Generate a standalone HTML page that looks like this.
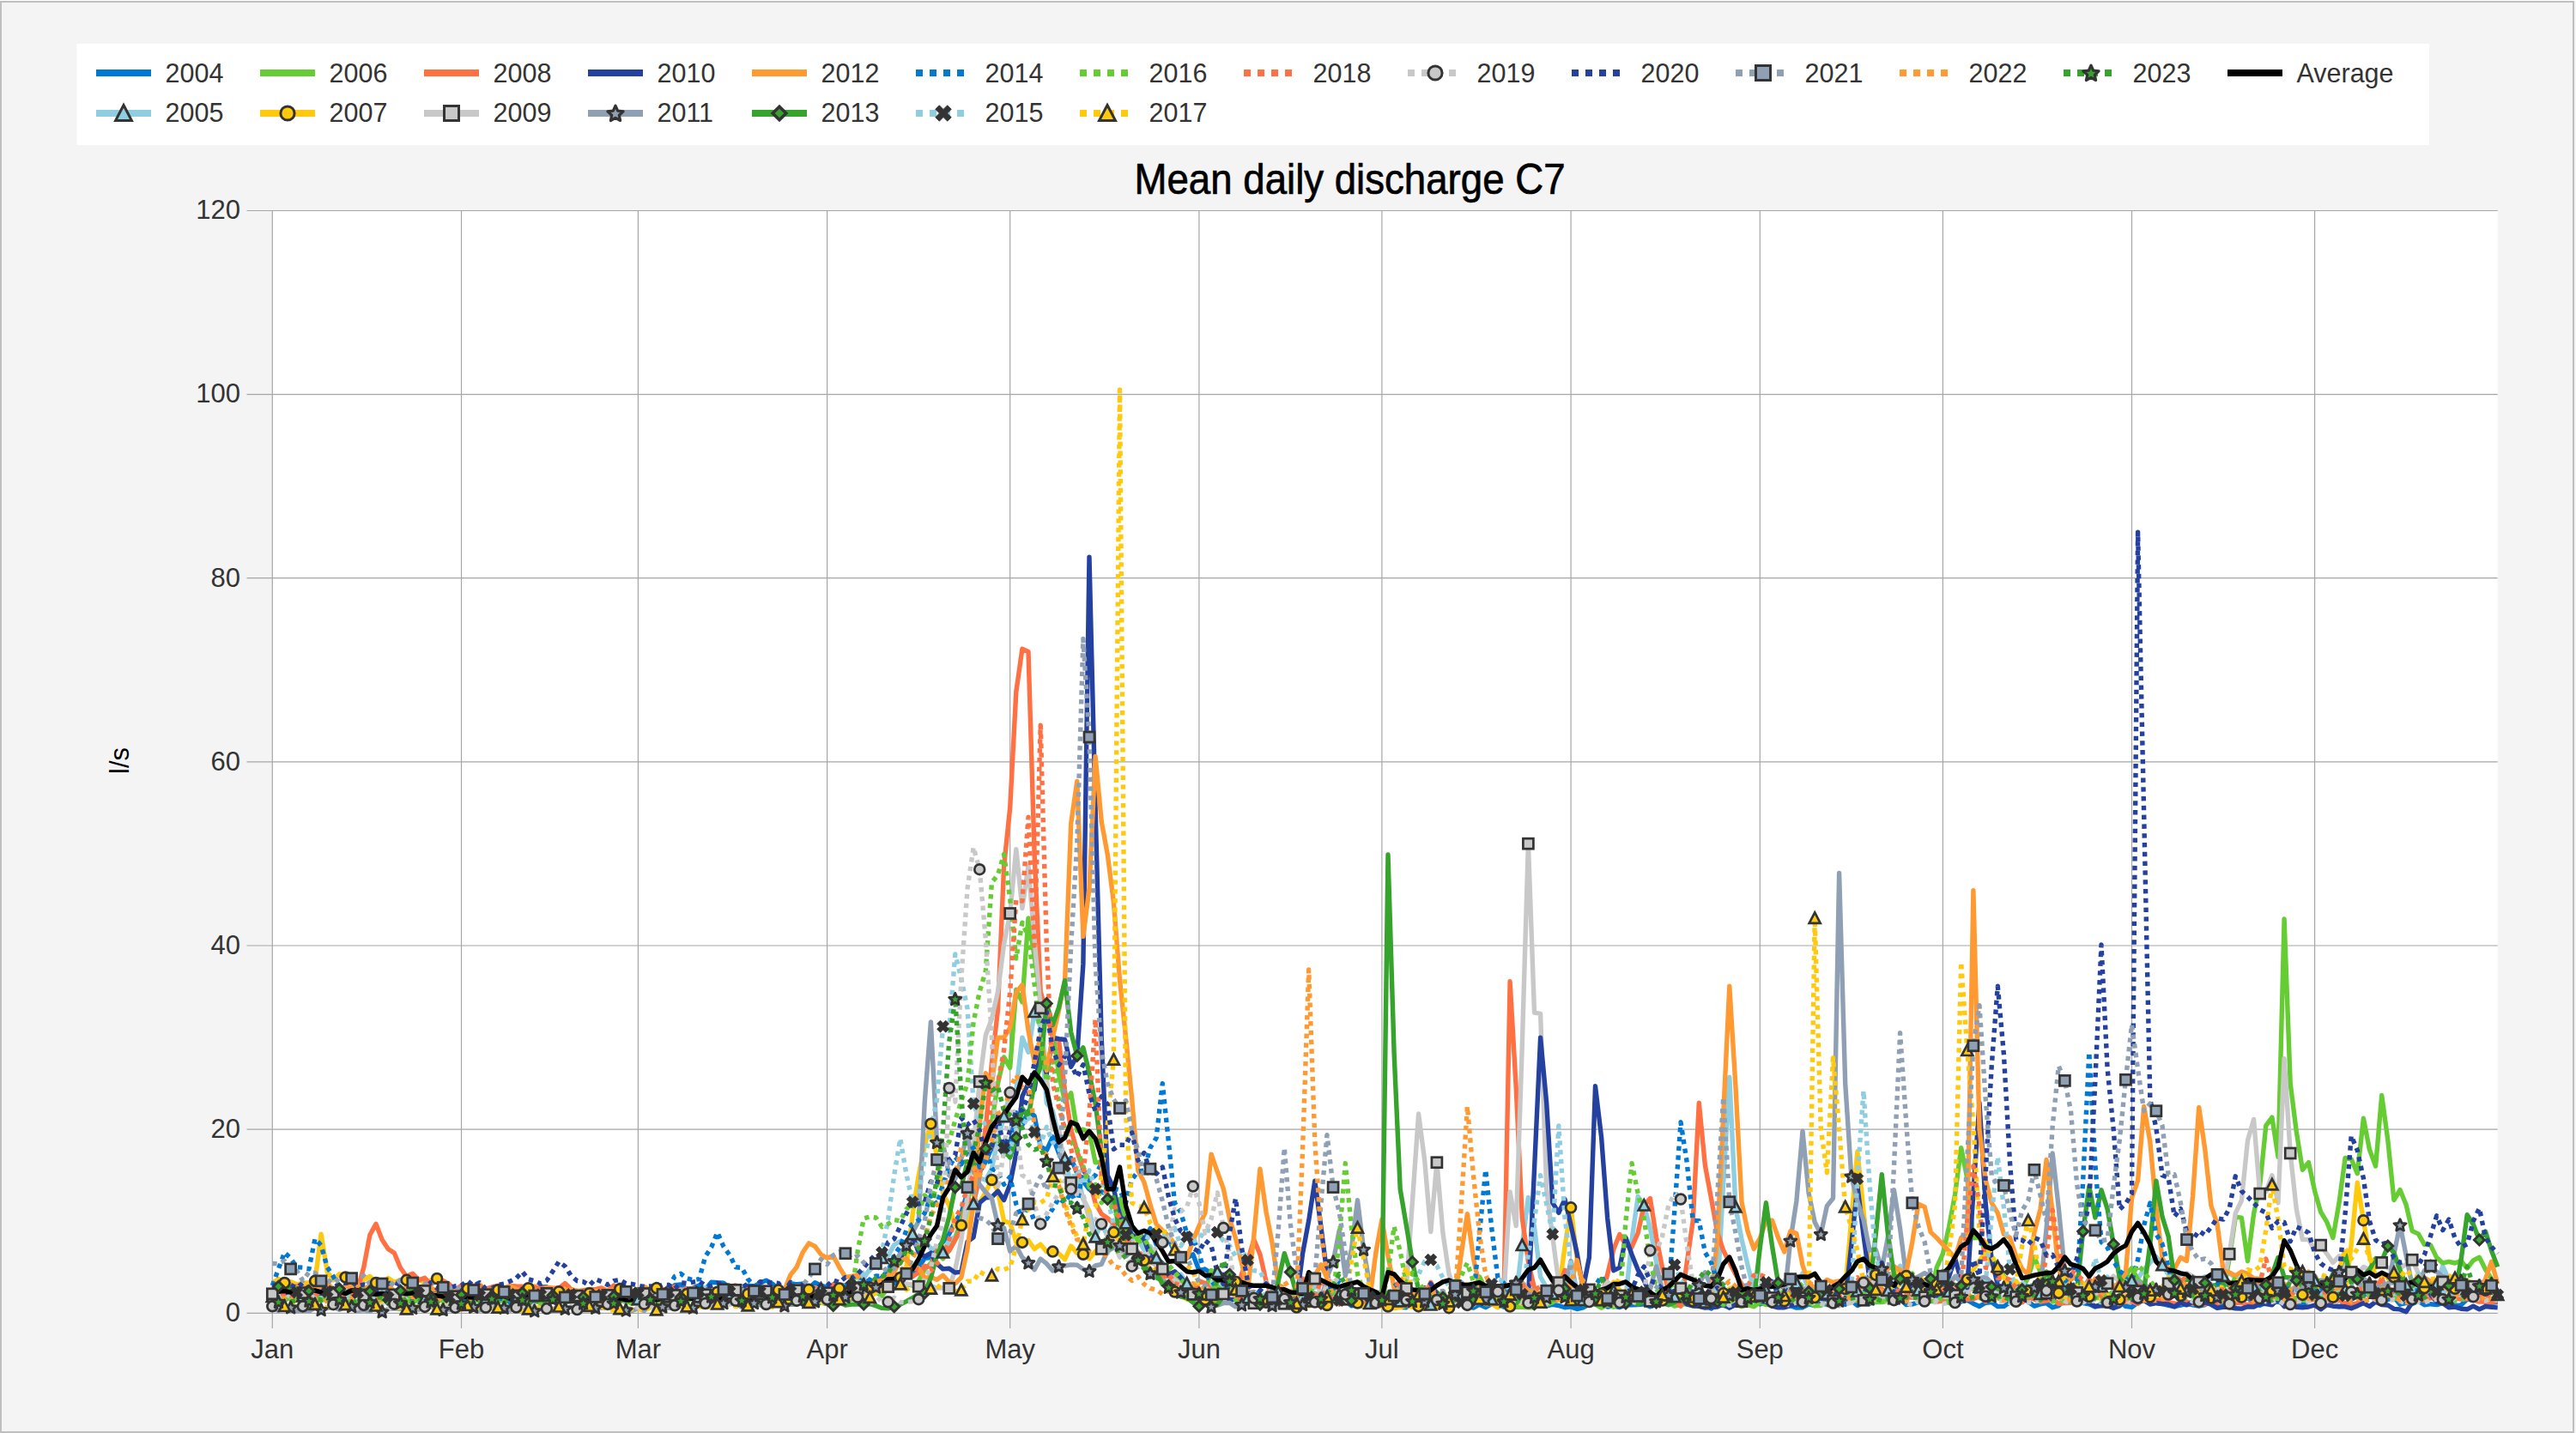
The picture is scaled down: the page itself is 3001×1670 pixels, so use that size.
<!DOCTYPE html>
<html><head><meta charset="utf-8"><style>
html,body{margin:0;padding:0;background:#f4f4f4;}
svg{display:block;}
text{font-family:"Liberation Sans",sans-serif;}
</style></head><body>
<svg width="3001" height="1670" viewBox="0 0 3001 1670">
<rect x="0" y="0" width="3001" height="1670" fill="#f4f4f4"/>
<rect x="1" y="2" width="2997" height="1667" fill="none" stroke="#bfbfbf" stroke-width="2"/>
<rect x="0" y="0" width="3001" height="1" fill="#ffffff"/>

<rect x="317.3" y="245.4599999999998" width="2592.376" height="1284.8400000000001" fill="#ffffff"/>
<g stroke="#a6a6a6" stroke-width="1.2"><line x1="287.5" y1="1530.3" x2="2909.7" y2="1530.3"/><line x1="287.5" y1="1316.2" x2="2909.7" y2="1316.2"/><line x1="287.5" y1="1102.0" x2="2909.7" y2="1102.0"/><line x1="287.5" y1="887.9" x2="2909.7" y2="887.9"/><line x1="287.5" y1="673.7" x2="2909.7" y2="673.7"/><line x1="287.5" y1="459.6" x2="2909.7" y2="459.6"/><line x1="287.5" y1="245.5" x2="2909.7" y2="245.5"/><line x1="317.3" y1="245.5" x2="317.3" y2="1548"/><line x1="537.5" y1="245.5" x2="537.5" y2="1548"/><line x1="743.4" y1="245.5" x2="743.4" y2="1548"/><line x1="963.6" y1="245.5" x2="963.6" y2="1548"/><line x1="1176.7" y1="245.5" x2="1176.7" y2="1548"/><line x1="1396.9" y1="245.5" x2="1396.9" y2="1548"/><line x1="1609.9" y1="245.5" x2="1609.9" y2="1548"/><line x1="1830.1" y1="245.5" x2="1830.1" y2="1548"/><line x1="2050.3" y1="245.5" x2="2050.3" y2="1548"/><line x1="2263.4" y1="245.5" x2="2263.4" y2="1548"/><line x1="2483.5" y1="245.5" x2="2483.5" y2="1548"/><line x1="2696.6" y1="245.5" x2="2696.6" y2="1548"/></g>
<g font-size="31" fill="#333333"><text x="280" y="1540.1" text-anchor="end">0</text><text x="280" y="1326.0" text-anchor="end">20</text><text x="280" y="1111.8" text-anchor="end">40</text><text x="280" y="897.7" text-anchor="end">60</text><text x="280" y="683.5" text-anchor="end">80</text><text x="280" y="469.4" text-anchor="end">100</text><text x="280" y="255.3" text-anchor="end">120</text><text x="317.3" y="1583" text-anchor="middle">Jan</text><text x="537.5" y="1583" text-anchor="middle">Feb</text><text x="743.4" y="1583" text-anchor="middle">Mar</text><text x="963.6" y="1583" text-anchor="middle">Apr</text><text x="1176.7" y="1583" text-anchor="middle">May</text><text x="1396.9" y="1583" text-anchor="middle">Jun</text><text x="1609.9" y="1583" text-anchor="middle">Jul</text><text x="1830.1" y="1583" text-anchor="middle">Aug</text><text x="2050.3" y="1583" text-anchor="middle">Sep</text><text x="2263.4" y="1583" text-anchor="middle">Oct</text><text x="2483.5" y="1583" text-anchor="middle">Nov</text><text x="2696.6" y="1583" text-anchor="middle">Dec</text></g>
<text x="0" y="0" font-size="31" fill="#000" transform="translate(150.4,886.5) rotate(-90)" text-anchor="middle">l/s</text>
<text x="1321.5" y="226" font-size="50" fill="#000" stroke="#000" stroke-width="0.7" textLength="502" lengthAdjust="spacingAndGlyphs">Mean daily discharge C7</text>
<polyline points="317.3,1503.5 324.4,1506.1 331.5,1508.4 338.6,1503.1 345.7,1504.4 352.8,1505.5 359.9,1500.8 367.0,1505.2 374.1,1501.5 381.2,1504.1 388.3,1503.7 395.4,1503.2 402.5,1506.6 409.6,1506.2 416.7,1502.4 423.8,1503.5 430.9,1502.9 438.0,1504.5 445.1,1499.9 452.2,1504.0 459.3,1506.3 466.5,1501.0 473.6,1504.5 480.7,1504.8 487.8,1508.4 494.9,1509.8 502.0,1506.3 509.1,1509.3 516.2,1503.8 523.3,1508.4 530.4,1505.7 537.5,1502.8 544.6,1501.2 551.7,1507.2 558.8,1503.6 565.9,1504.6 573.0,1508.7 580.1,1506.6 587.2,1505.8 594.3,1508.3 601.4,1505.0 608.5,1500.5 615.6,1503.5 622.7,1506.0 629.8,1499.9 636.9,1499.8 644.0,1505.3 651.1,1505.5 658.2,1509.3 665.3,1507.7 672.4,1507.4 679.5,1508.9 686.6,1506.8 693.7,1503.9 700.8,1504.6 707.9,1505.6 715.0,1506.2 722.1,1497.3 729.2,1503.0 736.3,1507.9 743.4,1502.5 750.5,1504.8 757.6,1501.9 764.8,1502.1 771.9,1503.6 779.0,1504.0 786.1,1497.8 793.2,1497.0 800.3,1503.1 807.4,1501.0 814.5,1498.1 821.6,1502.9 828.7,1494.2 835.8,1494.8 842.9,1495.2 850.0,1500.8 857.1,1502.8 864.2,1503.4 871.3,1498.2 878.4,1498.9 885.5,1495.3 892.6,1492.1 899.7,1496.1 906.8,1502.7 913.9,1503.1 921.0,1495.6 928.1,1496.8 935.2,1496.3 942.3,1501.5 949.4,1494.7 956.5,1498.0 963.6,1500.3 970.7,1499.2 977.8,1497.3 984.9,1498.0 992.0,1500.3 999.1,1499.5 1006.2,1502.9 1013.3,1491.2 1020.4,1496.1 1027.5,1488.7 1034.6,1493.7 1041.7,1497.9 1048.8,1484.5 1055.9,1485.7 1063.1,1487.5 1070.2,1476.7 1077.3,1466.2 1084.4,1465.5 1091.5,1455.2 1098.6,1447.2 1105.7,1438.4 1112.8,1423.2 1119.9,1413.5 1127.0,1389.4 1134.1,1380.6 1141.2,1365.9 1148.3,1353.9 1155.4,1337.6 1162.5,1335.3 1169.6,1346.0 1176.7,1333.2 1183.8,1296.7 1190.9,1311.3 1198.0,1294.7 1205.1,1300.6 1212.2,1336.0 1219.3,1340.6 1226.4,1324.9 1233.5,1343.9 1240.6,1359.0 1247.7,1349.5 1254.8,1367.5 1261.9,1376.6 1269.0,1386.1 1276.1,1389.0 1283.2,1388.8 1290.3,1392.1 1297.4,1405.8 1304.5,1409.9 1311.6,1423.2 1318.7,1437.2 1325.8,1443.6 1332.9,1444.6 1340.0,1431.7 1347.1,1450.4 1354.3,1448.1 1361.4,1443.1 1368.5,1459.5 1375.6,1463.5 1382.7,1466.1 1389.8,1461.8 1396.9,1480.6 1404.0,1479.2 1411.1,1483.8 1418.2,1479.8 1425.3,1488.7 1432.4,1501.3 1439.5,1501.7 1446.6,1507.4 1453.7,1513.6 1460.8,1510.0 1467.9,1517.8 1475.0,1514.9 1482.1,1518.5 1489.2,1513.2 1496.3,1516.3 1503.4,1514.6 1510.5,1514.9 1517.6,1520.8 1524.7,1516.8 1531.8,1515.7 1538.9,1513.3 1546.0,1511.9 1553.1,1515.4 1560.2,1518.8 1567.3,1515.4 1574.4,1521.8 1581.5,1520.7 1588.6,1522.5 1595.7,1519.6 1602.8,1522.7 1609.9,1521.5 1617.0,1520.5 1624.1,1521.9 1631.2,1523.4 1638.3,1523.7 1645.4,1518.0 1652.6,1518.1 1659.7,1515.8 1666.8,1516.6 1673.9,1516.4 1681.0,1519.6 1688.1,1516.3 1695.2,1518.4 1702.3,1519.0 1709.4,1521.9 1716.5,1524.1 1723.6,1520.2 1730.7,1523.6 1737.8,1519.7 1744.9,1519.1 1752.0,1523.2 1759.1,1521.1 1766.2,1520.2 1773.3,1515.2 1780.4,1514.1 1787.5,1515.5 1794.6,1520.4 1801.7,1521.8 1808.8,1520.4 1815.9,1521.5 1823.0,1523.8 1830.1,1522.9 1837.2,1525.6 1844.3,1523.9 1851.4,1519.8 1858.5,1514.9 1865.6,1517.4 1872.7,1523.0 1879.8,1522.1 1886.9,1523.6 1894.0,1520.9 1901.1,1520.9 1908.2,1520.6 1915.3,1519.7 1922.4,1522.7 1929.5,1519.9 1936.6,1519.3 1943.7,1519.3 1950.9,1514.8 1958.0,1510.5 1965.1,1518.7 1972.2,1519.0 1979.3,1520.4 1986.4,1520.4 1993.5,1525.0 2000.6,1519.6 2007.7,1521.5 2014.8,1523.4 2021.9,1520.4 2029.0,1520.6 2036.1,1517.4 2043.2,1514.2 2050.3,1519.8 2057.4,1518.7 2064.5,1518.9 2071.6,1523.1 2078.7,1523.3 2085.8,1521.8 2092.9,1524.1 2100.0,1523.7 2107.1,1519.8 2114.2,1521.5 2121.3,1519.2 2128.4,1520.0 2135.5,1516.5 2142.6,1513.3 2149.7,1520.3 2156.8,1515.6 2163.9,1521.5 2171.0,1518.1 2178.1,1519.2 2185.2,1517.1 2192.3,1513.6 2199.4,1508.5 2206.5,1510.7 2213.6,1514.2 2220.7,1520.5 2227.8,1519.9 2234.9,1517.6 2242.1,1513.2 2249.2,1503.7 2256.3,1501.0 2263.4,1506.0 2270.5,1507.1 2277.6,1513.4 2284.7,1516.9 2291.8,1515.1 2298.9,1519.2 2306.0,1522.5 2313.1,1518.3 2320.2,1517.5 2327.3,1522.6 2334.4,1522.4 2341.5,1517.8 2348.6,1515.5 2355.7,1511.9 2362.8,1517.0 2369.9,1522.1 2377.0,1519.9 2384.1,1518.7 2391.2,1523.7 2398.3,1521.6 2405.4,1514.2 2412.5,1498.7 2419.6,1512.7 2426.7,1518.6 2433.8,1519.8 2440.9,1523.0 2448.0,1520.0 2455.1,1518.1 2462.2,1521.8 2469.3,1515.8 2476.4,1522.4 2483.5,1523.4 2490.6,1517.8 2497.7,1507.1 2504.8,1511.9 2511.9,1518.1 2519.0,1519.5 2526.1,1521.3 2533.2,1522.5 2540.4,1521.2 2547.5,1519.1 2554.6,1520.8 2561.7,1522.1 2568.8,1520.5 2575.9,1516.5 2583.0,1522.0 2590.1,1519.0 2597.2,1516.6 2604.3,1519.0 2611.4,1512.2 2618.5,1512.8 2625.6,1517.4 2632.7,1521.5 2639.8,1517.4 2646.9,1516.4 2654.0,1517.2 2661.1,1519.2 2668.2,1518.9 2675.3,1517.6 2682.4,1520.7 2689.5,1515.8 2696.6,1496.1 2703.7,1517.1 2710.8,1516.8 2717.9,1521.1 2725.0,1522.7 2732.1,1520.5 2739.2,1514.3 2746.3,1508.9 2753.4,1507.7 2760.5,1493.5 2767.6,1509.2 2774.7,1508.4 2781.8,1514.6 2788.9,1511.5 2796.0,1520.2 2803.1,1518.4 2810.2,1519.5 2817.3,1516.2 2824.4,1520.8 2831.5,1519.7 2838.7,1520.6 2845.8,1518.7 2852.9,1517.3 2860.0,1521.7 2867.1,1520.9 2874.2,1514.1 2881.3,1515.3 2888.4,1507.3 2895.5,1517.8 2902.6,1518.3 2909.7,1517.6" fill="none" stroke="#0078d4" stroke-width="5.4" stroke-linejoin="round"/>
<polyline points="317.3,1511.0 324.4,1507.9 331.5,1516.2 338.6,1510.5 345.7,1510.8 352.8,1510.5 359.9,1509.4 367.0,1512.4 374.1,1511.7 381.2,1515.7 388.3,1507.7 395.4,1508.2 402.5,1515.5 409.6,1508.9 416.7,1510.5 423.8,1513.4 430.9,1509.2 438.0,1511.4 445.1,1508.9 452.2,1510.2 459.3,1514.0 466.5,1510.9 473.6,1516.0 480.7,1512.8 487.8,1517.2 494.9,1513.3 502.0,1507.9 509.1,1511.9 516.2,1516.9 523.3,1511.2 530.4,1514.6 537.5,1512.3 544.6,1510.4 551.7,1510.3 558.8,1512.2 565.9,1513.3 573.0,1512.0 580.1,1515.9 587.2,1516.3 594.3,1511.0 601.4,1514.6 608.5,1511.2 615.6,1512.4 622.7,1509.6 629.8,1515.2 636.9,1510.0 644.0,1514.8 651.1,1516.8 658.2,1511.8 665.3,1510.6 672.4,1511.9 679.5,1515.5 686.6,1509.8 693.7,1514.8 700.8,1515.3 707.9,1516.8 715.0,1516.8 722.1,1512.7 729.2,1518.4 736.3,1513.7 743.4,1514.2 750.5,1516.3 757.6,1512.8 764.8,1515.8 771.9,1515.2 779.0,1511.4 786.1,1516.1 793.2,1511.5 800.3,1513.7 807.4,1510.3 814.5,1511.4 821.6,1508.5 828.7,1508.6 835.8,1509.8 842.9,1514.1 850.0,1507.5 857.1,1507.7 864.2,1506.6 871.3,1512.9 878.4,1506.5 885.5,1507.7 892.6,1507.1 899.7,1508.9 906.8,1507.4 913.9,1506.0 921.0,1503.7 928.1,1504.4 935.2,1504.3 942.3,1501.7 949.4,1504.3 956.5,1502.0 963.6,1503.5 970.7,1498.7 977.8,1500.4 984.9,1500.7 992.0,1496.0 999.1,1484.6 1006.2,1489.4 1013.3,1479.2 1020.4,1476.1 1027.5,1466.1 1034.6,1463.3 1041.7,1450.7 1048.8,1446.5 1055.9,1451.2 1063.1,1438.2 1070.2,1449.9 1077.3,1445.0 1084.4,1455.3 1091.5,1454.3 1098.6,1459.6 1105.7,1445.5 1112.8,1441.4 1119.9,1422.7 1127.0,1419.9 1134.1,1402.9 1141.2,1372.9 1148.3,1375.3 1155.4,1362.0 1162.5,1327.6 1169.6,1301.2 1176.7,1274.0 1183.8,1270.9 1190.9,1209.1 1198.0,1226.3 1205.1,1179.1 1212.2,1196.7 1219.3,1285.5 1226.4,1294.7 1233.5,1325.8 1240.6,1350.4 1247.7,1380.4 1254.8,1368.3 1261.9,1397.5 1269.0,1410.9 1276.1,1441.4 1283.2,1425.5 1290.3,1440.8 1297.4,1424.4 1304.5,1430.6 1311.6,1425.4 1318.7,1438.9 1325.8,1444.4 1332.9,1456.7 1340.0,1452.5 1347.1,1466.1 1354.3,1475.4 1361.4,1483.5 1368.5,1490.1 1375.6,1485.2 1382.7,1495.6 1389.8,1503.4 1396.9,1508.9 1404.0,1508.3 1411.1,1499.5 1418.2,1482.3 1425.3,1501.8 1432.4,1504.8 1439.5,1509.2 1446.6,1509.9 1453.7,1513.0 1460.8,1512.2 1467.9,1511.1 1475.0,1507.8 1482.1,1504.2 1489.2,1505.5 1496.3,1512.1 1503.4,1518.6 1510.5,1515.4 1517.6,1516.0 1524.7,1516.5 1531.8,1518.0 1538.9,1515.4 1546.0,1517.6 1553.1,1512.5 1560.2,1508.8 1567.3,1508.5 1574.4,1512.3 1581.5,1515.8 1588.6,1514.5 1595.7,1519.1 1602.8,1512.9 1609.9,1515.8 1617.0,1520.3 1624.1,1515.7 1631.2,1516.5 1638.3,1514.3 1645.4,1517.8 1652.6,1518.5 1659.7,1517.4 1666.8,1520.6 1673.9,1519.2 1681.0,1513.9 1688.1,1515.1 1695.2,1500.0 1702.3,1509.0 1709.4,1517.6 1716.5,1519.9 1723.6,1513.8 1730.7,1519.4 1737.8,1514.2 1744.9,1515.5 1752.0,1518.8 1759.1,1519.9 1766.2,1511.6 1773.3,1451.1 1780.4,1395.4 1787.5,1429.9 1794.6,1488.2 1801.7,1500.7 1808.8,1507.7 1815.9,1506.9 1823.0,1510.9 1830.1,1507.1 1837.2,1510.0 1844.3,1515.3 1851.4,1511.5 1858.5,1506.5 1865.6,1504.8 1872.7,1505.2 1879.8,1504.2 1886.9,1508.3 1894.0,1512.2 1901.1,1444.4 1908.2,1394.3 1915.3,1404.6 1922.4,1431.0 1929.5,1469.9 1936.6,1505.1 1943.7,1502.3 1950.9,1511.2 1958.0,1512.2 1965.1,1511.5 1972.2,1516.5 1979.3,1511.6 1986.4,1517.6 1993.5,1514.2 2000.6,1510.7 2007.7,1378.7 2014.8,1255.1 2021.9,1406.5 2029.0,1444.0 2036.1,1474.7 2043.2,1503.5 2050.3,1499.5 2057.4,1503.9 2064.5,1498.7 2071.6,1503.5 2078.7,1508.2 2085.8,1504.6 2092.9,1495.4 2100.0,1483.8 2107.1,1503.0 2114.2,1503.5 2121.3,1506.7 2128.4,1507.8 2135.5,1507.3 2142.6,1503.9 2149.7,1502.6 2156.8,1502.3 2163.9,1504.6 2171.0,1506.9 2178.1,1505.5 2185.2,1503.9 2192.3,1503.1 2199.4,1504.0 2206.5,1493.8 2213.6,1475.3 2220.7,1493.3 2227.8,1500.3 2234.9,1503.4 2242.1,1504.8 2249.2,1505.6 2256.3,1504.1 2263.4,1503.3 2270.5,1505.1 2277.6,1507.1 2284.7,1506.5 2291.8,1501.6 2298.9,1499.7 2306.0,1499.9 2313.1,1492.3 2320.2,1499.1 2327.3,1506.3 2334.4,1501.6 2341.5,1504.2 2348.6,1503.2 2355.7,1504.3 2362.8,1501.4 2369.9,1504.7 2377.0,1507.9 2384.1,1501.4 2391.2,1505.2 2398.3,1503.2 2405.4,1506.5 2412.5,1502.4 2419.6,1508.2 2426.7,1504.5 2433.8,1504.7 2440.9,1508.3 2448.0,1499.2 2455.1,1488.1 2462.2,1499.0 2469.3,1495.9 2476.4,1496.1 2483.5,1492.4 2490.6,1489.7 2497.7,1479.5 2504.8,1471.4 2511.9,1464.5 2519.0,1474.2 2526.1,1485.1 2533.2,1491.0 2540.4,1484.0 2547.5,1489.3 2554.6,1494.3 2561.7,1493.0 2568.8,1487.7 2575.9,1490.4 2583.0,1485.8 2590.1,1487.0 2597.2,1484.1 2604.3,1488.5 2611.4,1492.5 2618.5,1498.3 2625.6,1499.8 2632.7,1498.2 2639.8,1498.2 2646.9,1503.7 2654.0,1501.9 2661.1,1503.5 2668.2,1503.1 2675.3,1503.1 2682.4,1499.0 2689.5,1498.7 2696.6,1492.4 2703.7,1500.2 2710.8,1496.3 2717.9,1505.2 2725.0,1503.0 2732.1,1503.0 2739.2,1501.9 2746.3,1505.8 2753.4,1504.7 2760.5,1505.3 2767.6,1506.7 2774.7,1498.1 2781.8,1495.8 2788.9,1483.9 2796.0,1492.4 2803.1,1497.2 2810.2,1505.1 2817.3,1499.6 2824.4,1507.0 2831.5,1499.5 2838.7,1496.4 2845.8,1475.5 2852.9,1491.3 2860.0,1500.3 2867.1,1500.8 2874.2,1502.3 2881.3,1505.0 2888.4,1508.3 2895.5,1508.4 2902.6,1507.2 2909.7,1508.9" fill="none" stroke="#8fcde0" stroke-width="5.4" stroke-linejoin="round"/>
<polyline points="317.3,1514.2 324.4,1517.4 331.5,1514.3 338.6,1513.1 345.7,1515.5 352.8,1512.3 359.9,1512.4 367.0,1511.3 374.1,1515.3 381.2,1513.8 388.3,1514.3 395.4,1513.1 402.5,1517.5 409.6,1516.3 416.7,1516.8 423.8,1516.4 430.9,1514.8 438.0,1517.0 445.1,1514.2 452.2,1514.0 459.3,1514.9 466.5,1512.7 473.6,1516.1 480.7,1518.0 487.8,1514.0 494.9,1515.1 502.0,1513.9 509.1,1513.2 516.2,1516.0 523.3,1516.4 530.4,1515.5 537.5,1515.8 544.6,1516.9 551.7,1516.7 558.8,1513.8 565.9,1514.7 573.0,1516.5 580.1,1517.0 587.2,1513.7 594.3,1516.4 601.4,1518.3 608.5,1515.3 615.6,1518.5 622.7,1513.3 629.8,1519.3 636.9,1520.5 644.0,1515.0 651.1,1515.4 658.2,1513.2 665.3,1515.8 672.4,1515.2 679.5,1515.5 686.6,1516.9 693.7,1515.5 700.8,1520.4 707.9,1516.9 715.0,1514.9 722.1,1515.6 729.2,1516.1 736.3,1519.4 743.4,1517.5 750.5,1518.8 757.6,1516.6 764.8,1518.7 771.9,1519.8 779.0,1516.2 786.1,1514.0 793.2,1520.1 800.3,1516.5 807.4,1512.1 814.5,1517.2 821.6,1516.8 828.7,1519.6 835.8,1521.1 842.9,1518.0 850.0,1517.1 857.1,1517.1 864.2,1516.1 871.3,1515.2 878.4,1519.7 885.5,1513.3 892.6,1512.8 899.7,1516.1 906.8,1514.8 913.9,1515.3 921.0,1512.1 928.1,1520.0 935.2,1512.4 942.3,1517.7 949.4,1516.1 956.5,1513.4 963.6,1517.1 970.7,1514.6 977.8,1516.0 984.9,1514.1 992.0,1514.2 999.1,1511.2 1006.2,1512.1 1013.3,1505.1 1020.4,1505.9 1027.5,1510.2 1034.6,1500.4 1041.7,1501.9 1048.8,1497.6 1055.9,1496.7 1063.1,1498.2 1070.2,1492.8 1077.3,1479.3 1084.4,1472.1 1091.5,1459.7 1098.6,1466.8 1105.7,1457.2 1112.8,1444.6 1119.9,1421.7 1127.0,1398.7 1134.1,1375.1 1141.2,1369.7 1148.3,1316.2 1155.4,1308.7 1162.5,1262.6 1169.6,1231.9 1176.7,1244.4 1183.8,1153.1 1190.9,1167.8 1198.0,1069.9 1205.1,1114.9 1212.2,1165.2 1219.3,1172.0 1226.4,1201.8 1233.5,1251.9 1240.6,1284.0 1247.7,1273.8 1254.8,1317.9 1261.9,1316.2 1269.0,1319.5 1276.1,1354.8 1283.2,1353.8 1290.3,1393.5 1297.4,1401.8 1304.5,1397.2 1311.6,1419.7 1318.7,1429.2 1325.8,1447.4 1332.9,1444.6 1340.0,1456.4 1347.1,1466.1 1354.3,1475.0 1361.4,1482.1 1368.5,1490.6 1375.6,1490.6 1382.7,1502.3 1389.8,1508.1 1396.9,1508.9 1404.0,1505.0 1411.1,1480.5 1418.2,1499.1 1425.3,1505.7 1432.4,1507.5 1439.5,1509.1 1446.6,1513.5 1453.7,1518.3 1460.8,1519.5 1467.9,1517.1 1475.0,1515.1 1482.1,1512.1 1489.2,1517.2 1496.3,1519.4 1503.4,1516.8 1510.5,1515.8 1517.6,1514.5 1524.7,1515.8 1531.8,1509.6 1538.9,1505.9 1546.0,1515.2 1553.1,1512.4 1560.2,1512.5 1567.3,1516.7 1574.4,1516.2 1581.5,1519.7 1588.6,1518.1 1595.7,1516.6 1602.8,1519.0 1609.9,1521.1 1617.0,1521.4 1624.1,1520.7 1631.2,1522.3 1638.3,1519.7 1645.4,1519.9 1652.6,1522.0 1659.7,1514.1 1666.8,1505.4 1673.9,1515.5 1681.0,1520.2 1688.1,1515.7 1695.2,1520.1 1702.3,1519.1 1709.4,1513.0 1716.5,1503.7 1723.6,1488.0 1730.7,1502.5 1737.8,1509.9 1744.9,1515.3 1752.0,1520.6 1759.1,1518.2 1766.2,1523.3 1773.3,1523.2 1780.4,1523.7 1787.5,1523.8 1794.6,1520.0 1801.7,1520.6 1808.8,1517.7 1815.9,1513.3 1823.0,1510.7 1830.1,1519.5 1837.2,1517.6 1844.3,1520.0 1851.4,1518.3 1858.5,1520.2 1865.6,1524.1 1872.7,1520.3 1879.8,1523.3 1886.9,1518.8 1894.0,1518.4 1901.1,1515.3 1908.2,1502.1 1915.3,1516.0 1922.4,1516.6 1929.5,1519.5 1936.6,1519.3 1943.7,1517.5 1950.9,1522.1 1958.0,1520.4 1965.1,1519.6 1972.2,1519.8 1979.3,1518.9 1986.4,1519.9 1993.5,1519.1 2000.6,1511.2 2007.7,1502.9 2014.8,1513.0 2021.9,1520.0 2029.0,1522.6 2036.1,1520.7 2043.2,1522.7 2050.3,1517.7 2057.4,1520.5 2064.5,1520.5 2071.6,1522.4 2078.7,1516.3 2085.8,1520.0 2092.9,1520.0 2100.0,1519.4 2107.1,1517.6 2114.2,1521.9 2121.3,1521.5 2128.4,1516.7 2135.5,1508.4 2142.6,1518.6 2149.7,1515.5 2156.8,1515.5 2163.9,1515.8 2171.0,1518.8 2178.1,1517.6 2185.2,1517.4 2192.3,1517.6 2199.4,1516.1 2206.5,1507.8 2213.6,1490.0 2220.7,1479.1 2227.8,1489.4 2234.9,1499.8 2242.1,1506.9 2249.2,1509.1 2256.3,1476.9 2263.4,1461.2 2270.5,1430.1 2277.6,1391.9 2284.7,1337.6 2291.8,1373.1 2298.9,1442.9 2306.0,1442.2 2313.1,1458.0 2320.2,1466.6 2327.3,1474.7 2334.4,1487.1 2341.5,1495.8 2348.6,1497.8 2355.7,1501.5 2362.8,1489.1 2369.9,1464.9 2377.0,1482.4 2384.1,1494.1 2391.2,1495.5 2398.3,1505.0 2405.4,1504.1 2412.5,1505.7 2419.6,1502.2 2426.7,1507.6 2433.8,1504.6 2440.9,1510.4 2448.0,1508.9 2455.1,1510.3 2462.2,1505.0 2469.3,1502.1 2476.4,1485.7 2483.5,1477.8 2490.6,1491.3 2497.7,1497.2 2504.8,1504.6 2511.9,1500.4 2519.0,1503.3 2526.1,1506.2 2533.2,1505.4 2540.4,1505.1 2547.5,1507.3 2554.6,1509.0 2561.7,1506.1 2568.8,1507.9 2575.9,1503.6 2583.0,1506.1 2590.1,1504.6 2597.2,1466.5 2604.3,1418.2 2611.4,1419.2 2618.5,1469.7 2625.6,1414.4 2632.7,1381.4 2639.8,1311.9 2646.9,1302.2 2654.0,1348.3 2661.1,1071.0 2668.2,1262.6 2675.3,1318.9 2682.4,1363.3 2689.5,1354.7 2696.6,1387.9 2703.7,1412.5 2710.8,1424.2 2717.9,1442.5 2725.0,1401.8 2732.1,1349.4 2739.2,1350.8 2746.3,1367.6 2753.4,1303.3 2760.5,1339.9 2767.6,1359.0 2774.7,1276.5 2781.8,1328.7 2788.9,1398.6 2796.0,1386.6 2803.1,1404.0 2810.2,1434.6 2817.3,1437.9 2824.4,1450.4 2831.5,1450.9 2838.7,1465.6 2845.8,1471.9 2852.9,1470.3 2860.0,1472.0 2867.1,1469.5 2874.2,1478.0 2881.3,1468.8 2888.4,1465.2 2895.5,1479.2 2902.6,1490.5 2909.7,1492.1" fill="none" stroke="#66cc33" stroke-width="5.4" stroke-linejoin="round"/>
<polyline points="317.3,1495.0 324.4,1490.6 331.5,1495.0 338.6,1493.6 345.7,1496.8 352.8,1495.1 359.9,1495.0 367.0,1492.8 374.1,1438.2 381.2,1482.1 388.3,1491.8 395.4,1484.7 402.5,1488.5 409.6,1492.2 416.7,1492.9 423.8,1491.4 430.9,1487.4 438.0,1495.0 445.1,1494.8 452.2,1489.4 459.3,1494.2 466.5,1491.6 473.6,1491.8 480.7,1491.3 487.8,1490.7 494.9,1495.4 502.0,1491.9 509.1,1490.0 516.2,1500.3 523.3,1499.9 530.4,1501.3 537.5,1500.3 544.6,1501.9 551.7,1500.9 558.8,1496.5 565.9,1504.8 573.0,1500.5 580.1,1503.3 587.2,1500.8 594.3,1500.1 601.4,1504.1 608.5,1503.3 615.6,1501.2 622.7,1498.7 629.8,1505.7 636.9,1503.5 644.0,1508.2 651.1,1505.3 658.2,1500.7 665.3,1504.5 672.4,1505.2 679.5,1503.7 686.6,1507.2 693.7,1508.4 700.8,1501.5 707.9,1506.0 715.0,1508.5 722.1,1502.2 729.2,1502.9 736.3,1506.4 743.4,1505.7 750.5,1505.5 757.6,1504.6 764.8,1501.1 771.9,1505.9 779.0,1502.6 786.1,1504.2 793.2,1504.5 800.3,1508.0 807.4,1502.9 814.5,1504.9 821.6,1507.8 828.7,1503.7 835.8,1505.7 842.9,1506.9 850.0,1506.0 857.1,1509.7 864.2,1503.4 871.3,1508.0 878.4,1507.4 885.5,1506.1 892.6,1507.4 899.7,1505.5 906.8,1503.4 913.9,1506.7 921.0,1499.9 928.1,1507.0 935.2,1503.2 942.3,1502.7 949.4,1500.8 956.5,1505.7 963.6,1503.5 970.7,1504.0 977.8,1501.4 984.9,1502.0 992.0,1502.2 999.1,1500.2 1006.2,1502.6 1013.3,1500.5 1020.4,1497.5 1027.5,1498.2 1034.6,1491.0 1041.7,1490.1 1048.8,1489.0 1055.9,1476.8 1063.1,1415.4 1070.2,1369.7 1077.3,1334.8 1084.4,1309.7 1091.5,1348.6 1098.6,1391.1 1105.7,1404.7 1112.8,1428.9 1119.9,1428.0 1127.0,1429.0 1134.1,1405.7 1141.2,1401.8 1148.3,1389.1 1155.4,1375.0 1162.5,1388.0 1169.6,1423.2 1176.7,1425.2 1183.8,1447.5 1190.9,1447.9 1198.0,1445.5 1205.1,1455.5 1212.2,1450.1 1219.3,1458.7 1226.4,1458.6 1233.5,1460.9 1240.6,1467.7 1247.7,1452.1 1254.8,1460.6 1261.9,1461.8 1269.0,1466.9 1276.1,1458.5 1283.2,1451.7 1290.3,1444.4 1297.4,1436.1 1304.5,1447.2 1311.6,1446.4 1318.7,1460.5 1325.8,1460.2 1332.9,1468.7 1340.0,1479.7 1347.1,1479.9 1354.3,1490.6 1361.4,1496.7 1368.5,1505.5 1375.6,1508.0 1382.7,1514.2 1389.8,1511.6 1396.9,1515.5 1404.0,1514.6 1411.1,1516.7 1418.2,1515.4 1425.3,1510.7 1432.4,1502.4 1439.5,1493.7 1446.6,1509.9 1453.7,1512.5 1460.8,1515.4 1467.9,1514.6 1475.0,1517.8 1482.1,1519.0 1489.2,1520.7 1496.3,1516.9 1503.4,1519.4 1510.5,1523.6 1517.6,1521.1 1524.7,1522.2 1531.8,1519.9 1538.9,1521.7 1546.0,1521.0 1553.1,1517.9 1560.2,1518.8 1567.3,1510.4 1574.4,1518.1 1581.5,1518.5 1588.6,1522.0 1595.7,1519.9 1602.8,1519.4 1609.9,1522.8 1617.0,1522.5 1624.1,1524.7 1631.2,1523.7 1638.3,1521.2 1645.4,1523.4 1652.6,1522.4 1659.7,1525.0 1666.8,1519.5 1673.9,1523.8 1681.0,1518.2 1688.1,1524.2 1695.2,1517.0 1702.3,1507.4 1709.4,1496.7 1716.5,1505.1 1723.6,1510.6 1730.7,1519.6 1737.8,1519.4 1744.9,1523.8 1752.0,1517.0 1759.1,1522.6 1766.2,1516.8 1773.3,1519.6 1780.4,1514.9 1787.5,1517.5 1794.6,1512.4 1801.7,1508.0 1808.8,1499.4 1815.9,1505.0 1823.0,1452.9 1830.1,1407.3 1837.2,1467.8 1844.3,1498.9 1851.4,1511.1 1858.5,1510.8 1865.6,1507.7 1872.7,1503.5 1879.8,1494.0 1886.9,1503.5 1894.0,1509.3 1901.1,1510.3 1908.2,1514.1 1915.3,1512.5 1922.4,1513.1 1929.5,1510.7 1936.6,1515.6 1943.7,1513.2 1950.9,1515.2 1958.0,1513.0 1965.1,1509.9 1972.2,1516.4 1979.3,1513.6 1986.4,1516.3 1993.5,1516.5 2000.6,1510.8 2007.7,1507.3 2014.8,1501.6 2021.9,1500.1 2029.0,1508.7 2036.1,1510.8 2043.2,1508.3 2050.3,1511.5 2057.4,1514.7 2064.5,1514.5 2071.6,1513.6 2078.7,1516.3 2085.8,1513.6 2092.9,1513.6 2100.0,1512.8 2107.1,1516.2 2114.2,1512.1 2121.3,1513.2 2128.4,1505.9 2135.5,1504.3 2142.6,1499.2 2149.7,1502.1 2156.8,1420.2 2163.9,1341.9 2171.0,1411.4 2178.1,1476.6 2185.2,1485.7 2192.3,1492.5 2199.4,1493.3 2206.5,1484.6 2213.6,1483.8 2220.7,1487.1 2227.8,1489.5 2234.9,1488.7 2242.1,1492.6 2249.2,1491.3 2256.3,1495.9 2263.4,1500.8 2270.5,1500.4 2277.6,1498.0 2284.7,1497.9 2291.8,1491.1 2298.9,1479.1 2306.0,1469.3 2313.1,1459.0 2320.2,1472.9 2327.3,1479.7 2334.4,1489.3 2341.5,1494.1 2348.6,1492.9 2355.7,1502.9 2362.8,1504.6 2369.9,1504.4 2377.0,1501.4 2384.1,1507.1 2391.2,1495.3 2398.3,1506.9 2405.4,1513.0 2412.5,1509.9 2419.6,1511.6 2426.7,1511.0 2433.8,1511.0 2440.9,1511.1 2448.0,1513.2 2455.1,1509.0 2462.2,1516.1 2469.3,1514.5 2476.4,1509.6 2483.5,1515.4 2490.6,1504.8 2497.7,1511.9 2504.8,1511.6 2511.9,1510.8 2519.0,1515.1 2526.1,1513.9 2533.2,1505.6 2540.4,1510.0 2547.5,1503.2 2554.6,1505.6 2561.7,1511.6 2568.8,1509.8 2575.9,1512.8 2583.0,1511.6 2590.1,1511.9 2597.2,1514.2 2604.3,1513.5 2611.4,1511.7 2618.5,1507.4 2625.6,1514.1 2632.7,1507.3 2639.8,1505.5 2646.9,1504.8 2654.0,1501.2 2661.1,1499.8 2668.2,1507.4 2675.3,1505.8 2682.4,1508.9 2689.5,1510.9 2696.6,1514.3 2703.7,1513.2 2710.8,1509.5 2717.9,1511.7 2725.0,1512.8 2732.1,1508.9 2739.2,1450.1 2746.3,1378.3 2753.4,1422.2 2760.5,1464.6 2767.6,1487.5 2774.7,1485.4 2781.8,1488.7 2788.9,1488.4 2796.0,1491.0 2803.1,1496.9 2810.2,1495.6 2817.3,1495.3 2824.4,1501.1 2831.5,1500.2 2838.7,1504.5 2845.8,1504.3 2852.9,1500.7 2860.0,1501.8 2867.1,1503.9 2874.2,1501.1 2881.3,1506.5 2888.4,1508.8 2895.5,1503.7 2902.6,1506.0 2909.7,1503.5" fill="none" stroke="#ffc90e" stroke-width="5.4" stroke-linejoin="round"/>
<polyline points="317.3,1502.5 324.4,1501.9 331.5,1504.3 338.6,1503.0 345.7,1498.9 352.8,1504.7 359.9,1502.1 367.0,1507.4 374.1,1503.1 381.2,1503.2 388.3,1502.7 395.4,1501.5 402.5,1500.8 409.6,1502.0 416.7,1502.5 423.8,1476.8 430.9,1439.3 438.0,1426.4 445.1,1444.7 452.2,1455.4 459.3,1460.2 466.5,1477.5 473.6,1487.5 480.7,1484.2 487.8,1491.9 494.9,1489.3 502.0,1496.9 509.1,1490.3 516.2,1492.6 523.3,1496.4 530.4,1503.3 537.5,1498.2 544.6,1504.0 551.7,1498.2 558.8,1498.3 565.9,1502.2 573.0,1500.0 580.1,1498.3 587.2,1501.2 594.3,1498.5 601.4,1499.0 608.5,1499.2 615.6,1501.6 622.7,1500.0 629.8,1501.7 636.9,1500.4 644.0,1501.2 651.1,1501.3 658.2,1495.5 665.3,1502.4 672.4,1504.9 679.5,1504.0 686.6,1502.4 693.7,1502.6 700.8,1500.9 707.9,1504.4 715.0,1498.0 722.1,1502.9 729.2,1502.5 736.3,1504.5 743.4,1503.5 750.5,1503.2 757.6,1501.7 764.8,1503.3 771.9,1502.9 779.0,1502.0 786.1,1499.4 793.2,1503.2 800.3,1501.7 807.4,1509.1 814.5,1503.6 821.6,1503.1 828.7,1504.6 835.8,1504.5 842.9,1507.2 850.0,1499.5 857.1,1498.0 864.2,1508.2 871.3,1500.4 878.4,1506.5 885.5,1505.7 892.6,1509.2 899.7,1501.6 906.8,1503.5 913.9,1506.0 921.0,1506.1 928.1,1504.6 935.2,1502.0 942.3,1507.0 949.4,1500.9 956.5,1506.3 963.6,1503.5 970.7,1496.8 977.8,1501.1 984.9,1503.9 992.0,1505.1 999.1,1498.3 1006.2,1497.1 1013.3,1498.4 1020.4,1492.8 1027.5,1491.6 1034.6,1485.2 1041.7,1489.5 1048.8,1492.1 1055.9,1484.6 1063.1,1487.5 1070.2,1483.3 1077.3,1476.8 1084.4,1475.7 1091.5,1457.7 1098.6,1455.7 1105.7,1457.6 1112.8,1444.6 1119.9,1433.3 1127.0,1396.2 1134.1,1402.5 1141.2,1369.7 1148.3,1314.0 1155.4,1239.0 1162.5,1177.0 1169.6,1009.1 1176.7,941.4 1183.8,806.3 1190.9,756.2 1198.0,759.4 1205.1,994.9 1212.2,1155.6 1219.3,1180.9 1226.4,1209.1 1233.5,1212.6 1240.6,1271.1 1247.7,1316.2 1254.8,1341.8 1261.9,1363.2 1269.0,1375.2 1276.1,1401.8 1283.2,1414.7 1290.3,1419.6 1297.4,1426.2 1304.5,1427.0 1311.6,1444.6 1318.7,1446.7 1325.8,1459.7 1332.9,1466.9 1340.0,1469.8 1347.1,1474.4 1354.3,1488.2 1361.4,1486.7 1368.5,1492.8 1375.6,1497.5 1382.7,1508.9 1389.8,1508.8 1396.9,1492.7 1404.0,1495.4 1411.1,1503.7 1418.2,1504.1 1425.3,1509.0 1432.4,1513.8 1439.5,1512.9 1446.6,1484.3 1453.7,1468.7 1460.8,1444.6 1467.9,1461.7 1475.0,1493.2 1482.1,1512.6 1489.2,1514.7 1496.3,1516.2 1503.4,1515.8 1510.5,1510.4 1517.6,1490.0 1524.7,1506.4 1531.8,1514.0 1538.9,1512.8 1546.0,1515.5 1553.1,1515.6 1560.2,1513.5 1567.3,1515.5 1574.4,1517.2 1581.5,1514.4 1588.6,1513.3 1595.7,1501.8 1602.8,1513.4 1609.9,1511.4 1617.0,1513.4 1624.1,1515.8 1631.2,1516.3 1638.3,1515.7 1645.4,1516.2 1652.6,1513.5 1659.7,1510.7 1666.8,1494.2 1673.9,1507.2 1681.0,1514.5 1688.1,1514.6 1695.2,1516.4 1702.3,1514.4 1709.4,1515.7 1716.5,1515.0 1723.6,1511.0 1730.7,1512.7 1737.8,1513.2 1744.9,1516.9 1752.0,1512.5 1759.1,1143.8 1766.2,1267.3 1773.3,1419.2 1780.4,1470.4 1787.5,1501.2 1794.6,1511.7 1801.7,1507.6 1808.8,1513.3 1815.9,1501.1 1823.0,1480.4 1830.1,1498.5 1837.2,1512.2 1844.3,1514.9 1851.4,1512.7 1858.5,1515.9 1865.6,1512.1 1872.7,1485.0 1879.8,1456.1 1886.9,1438.5 1894.0,1451.0 1901.1,1453.3 1908.2,1436.7 1915.3,1404.8 1922.4,1396.5 1929.5,1441.5 1936.6,1477.5 1943.7,1503.8 1950.9,1516.3 1958.0,1522.3 1965.1,1472.4 1972.2,1423.2 1979.3,1285.1 1986.4,1357.9 1993.5,1396.5 2000.6,1435.8 2007.7,1457.3 2014.8,1471.4 2021.9,1485.1 2029.0,1496.4 2036.1,1508.9 2043.2,1511.5 2050.3,1509.2 2057.4,1506.6 2064.5,1509.7 2071.6,1508.3 2078.7,1511.3 2085.8,1510.0 2092.9,1510.6 2100.0,1512.4 2107.1,1510.0 2114.2,1505.7 2121.3,1499.9 2128.4,1508.9 2135.5,1510.2 2142.6,1510.9 2149.7,1516.5 2156.8,1512.8 2163.9,1513.2 2171.0,1512.0 2178.1,1514.3 2185.2,1508.3 2192.3,1511.9 2199.4,1504.7 2206.5,1507.2 2213.6,1511.1 2220.7,1512.4 2227.8,1511.8 2234.9,1512.1 2242.1,1513.4 2249.2,1513.3 2256.3,1517.1 2263.4,1515.9 2270.5,1517.2 2277.6,1513.5 2284.7,1514.1 2291.8,1514.4 2298.9,1513.9 2306.0,1510.7 2313.1,1516.7 2320.2,1513.4 2327.3,1509.7 2334.4,1512.4 2341.5,1510.6 2348.6,1516.7 2355.7,1517.8 2362.8,1512.0 2369.9,1514.2 2377.0,1517.1 2384.1,1515.9 2391.2,1514.1 2398.3,1519.2 2405.4,1518.6 2412.5,1518.2 2419.6,1512.8 2426.7,1506.6 2433.8,1498.8 2440.9,1502.7 2448.0,1510.4 2455.1,1516.5 2462.2,1517.6 2469.3,1517.9 2476.4,1517.3 2483.5,1516.7 2490.6,1519.5 2497.7,1513.5 2504.8,1508.1 2511.9,1516.6 2519.0,1514.5 2526.1,1517.6 2533.2,1519.0 2540.4,1519.2 2547.5,1516.9 2554.6,1519.6 2561.7,1519.4 2568.8,1520.0 2575.9,1516.0 2583.0,1519.0 2590.1,1515.8 2597.2,1515.7 2604.3,1518.2 2611.4,1518.5 2618.5,1520.8 2625.6,1517.3 2632.7,1515.2 2639.8,1516.2 2646.9,1512.2 2654.0,1512.8 2661.1,1519.5 2668.2,1513.3 2675.3,1517.6 2682.4,1514.3 2689.5,1515.4 2696.6,1514.3 2703.7,1515.6 2710.8,1517.7 2717.9,1519.8 2725.0,1514.9 2732.1,1518.9 2739.2,1519.9 2746.3,1518.8 2753.4,1512.0 2760.5,1511.3 2767.6,1502.1 2774.7,1490.2 2781.8,1505.5 2788.9,1506.8 2796.0,1514.0 2803.1,1514.4 2810.2,1513.5 2817.3,1513.7 2824.4,1515.7 2831.5,1512.5 2838.7,1513.6 2845.8,1514.9 2852.9,1514.6 2860.0,1513.2 2867.1,1514.2 2874.2,1513.5 2881.3,1514.7 2888.4,1517.1 2895.5,1517.0 2902.6,1517.7 2909.7,1516.4" fill="none" stroke="#ff7043" stroke-width="5.4" stroke-linejoin="round"/>
<polyline points="317.3,1507.8 324.4,1507.0 331.5,1508.1 338.6,1511.1 345.7,1508.1 352.8,1506.6 359.9,1511.2 367.0,1510.8 374.1,1504.0 381.2,1506.9 388.3,1506.7 395.4,1506.0 402.5,1503.3 409.6,1512.0 416.7,1509.0 423.8,1509.3 430.9,1506.0 438.0,1504.4 445.1,1505.6 452.2,1509.9 459.3,1508.8 466.5,1508.9 473.6,1511.0 480.7,1510.9 487.8,1506.4 494.9,1504.4 502.0,1510.0 509.1,1507.6 516.2,1508.9 523.3,1509.3 530.4,1510.7 537.5,1508.9 544.6,1511.1 551.7,1508.6 558.8,1506.7 565.9,1508.6 573.0,1512.1 580.1,1506.7 587.2,1508.4 594.3,1505.3 601.4,1509.9 608.5,1510.5 615.6,1509.2 622.7,1508.1 629.8,1508.2 636.9,1507.3 644.0,1507.9 651.1,1507.2 658.2,1511.0 665.3,1508.8 672.4,1510.1 679.5,1509.7 686.6,1505.3 693.7,1505.4 700.8,1508.4 707.9,1509.4 715.0,1507.0 722.1,1505.5 729.2,1508.2 736.3,1510.8 743.4,1508.9 750.5,1507.5 757.6,1508.0 764.8,1508.0 771.9,1511.3 779.0,1509.4 786.1,1509.4 793.2,1505.3 800.3,1511.5 807.4,1507.4 814.5,1506.8 821.6,1508.7 828.7,1511.5 835.8,1506.5 842.9,1508.3 850.0,1505.5 857.1,1503.3 864.2,1509.2 871.3,1503.7 878.4,1503.7 885.5,1511.4 892.6,1504.7 899.7,1510.1 906.8,1503.5 913.9,1506.0 921.0,1508.2 928.1,1503.7 935.2,1507.5 942.3,1504.7 949.4,1509.9 956.5,1503.1 963.6,1506.7 970.7,1511.9 977.8,1507.0 984.9,1507.5 992.0,1501.5 999.1,1500.9 1006.2,1507.9 1013.3,1502.7 1020.4,1506.6 1027.5,1502.4 1034.6,1499.6 1041.7,1501.8 1048.8,1498.8 1055.9,1496.0 1063.1,1497.1 1070.2,1499.2 1077.3,1498.9 1084.4,1498.4 1091.5,1501.1 1098.6,1500.9 1105.7,1501.4 1112.8,1479.5 1119.9,1444.6 1127.0,1393.7 1134.1,1336.2 1141.2,1260.5 1148.3,1206.5 1155.4,1187.2 1162.5,1155.6 1169.6,1100.3 1176.7,1064.5 1183.8,989.6 1190.9,1058.6 1198.0,1008.9 1205.1,1095.4 1212.2,1174.8 1219.3,1256.8 1226.4,1316.2 1233.5,1315.1 1240.6,1368.4 1247.7,1378.3 1254.8,1384.6 1261.9,1394.8 1269.0,1420.9 1276.1,1445.0 1283.2,1455.4 1290.3,1460.3 1297.4,1448.6 1304.5,1465.2 1311.6,1454.4 1318.7,1455.4 1325.8,1460.5 1332.9,1461.6 1340.0,1471.2 1347.1,1473.7 1354.3,1478.9 1361.4,1484.2 1368.5,1491.1 1375.6,1497.3 1382.7,1506.8 1389.8,1508.4 1396.9,1508.6 1404.0,1500.4 1411.1,1505.4 1418.2,1505.0 1425.3,1508.0 1432.4,1512.3 1439.5,1514.0 1446.6,1516.9 1453.7,1514.1 1460.8,1518.8 1467.9,1514.7 1475.0,1515.3 1482.1,1517.0 1489.2,1516.9 1496.3,1519.3 1503.4,1517.6 1510.5,1518.1 1517.6,1518.3 1524.7,1509.6 1531.8,1490.1 1538.9,1508.6 1546.0,1514.0 1553.1,1519.5 1560.2,1516.0 1567.3,1514.3 1574.4,1519.3 1581.5,1519.0 1588.6,1514.3 1595.7,1519.9 1602.8,1516.3 1609.9,1515.0 1617.0,1510.8 1624.1,1503.8 1631.2,1492.5 1638.3,1501.6 1645.4,1400.7 1652.6,1298.0 1659.7,1352.3 1666.8,1435.5 1673.9,1354.7 1681.0,1437.4 1688.1,1484.8 1695.2,1505.5 1702.3,1499.9 1709.4,1505.9 1716.5,1504.4 1723.6,1507.4 1730.7,1509.7 1737.8,1508.2 1744.9,1503.4 1752.0,1508.9 1759.1,1389.0 1766.2,1428.6 1773.3,1218.0 1780.4,983.2 1787.5,1180.2 1794.6,1181.3 1801.7,1385.8 1808.8,1441.8 1815.9,1494.6 1823.0,1500.0 1830.1,1503.1 1837.2,1505.6 1844.3,1503.2 1851.4,1502.9 1858.5,1505.5 1865.6,1504.9 1872.7,1493.9 1879.8,1501.4 1886.9,1510.0 1894.0,1508.8 1901.1,1511.7 1908.2,1513.7 1915.3,1513.7 1922.4,1516.3 1929.5,1512.3 1936.6,1506.2 1943.7,1503.1 1950.9,1490.1 1958.0,1501.5 1965.1,1510.5 1972.2,1508.7 1979.3,1510.1 1986.4,1518.5 1993.5,1514.4 2000.6,1516.7 2007.7,1515.2 2014.8,1517.3 2021.9,1516.5 2029.0,1516.7 2036.1,1513.3 2043.2,1514.0 2050.3,1514.0 2057.4,1514.3 2064.5,1512.4 2071.6,1504.2 2078.7,1492.3 2085.8,1499.5 2092.9,1503.5 2100.0,1512.6 2107.1,1510.8 2114.2,1516.3 2121.3,1508.7 2128.4,1517.1 2135.5,1516.0 2142.6,1513.4 2149.7,1516.3 2156.8,1518.2 2163.9,1511.0 2171.0,1515.3 2178.1,1508.5 2185.2,1514.7 2192.3,1510.3 2199.4,1517.7 2206.5,1513.2 2213.6,1510.6 2220.7,1497.1 2227.8,1510.4 2234.9,1513.7 2242.1,1511.6 2249.2,1513.6 2256.3,1514.7 2263.4,1510.5 2270.5,1511.2 2277.6,1509.5 2284.7,1509.1 2291.8,1505.8 2298.9,1500.6 2306.0,1495.7 2313.1,1500.9 2320.2,1503.2 2327.3,1509.2 2334.4,1511.9 2341.5,1506.7 2348.6,1511.4 2355.7,1508.4 2362.8,1508.8 2369.9,1507.2 2377.0,1503.3 2384.1,1507.0 2391.2,1507.6 2398.3,1509.1 2405.4,1506.1 2412.5,1512.3 2419.6,1506.4 2426.7,1510.8 2433.8,1508.2 2440.9,1508.3 2448.0,1502.0 2455.1,1495.7 2462.2,1487.2 2469.3,1493.9 2476.4,1499.1 2483.5,1506.3 2490.6,1504.8 2497.7,1500.1 2504.8,1507.6 2511.9,1500.1 2519.0,1500.5 2526.1,1495.9 2533.2,1499.0 2540.4,1497.9 2547.5,1483.7 2554.6,1487.3 2561.7,1494.2 2568.8,1500.7 2575.9,1496.4 2583.0,1501.7 2590.1,1496.0 2597.2,1461.4 2604.3,1413.8 2611.4,1399.0 2618.5,1329.0 2625.6,1304.4 2632.7,1391.1 2639.8,1388.7 2646.9,1369.7 2654.0,1401.8 2661.1,1233.7 2668.2,1344.0 2675.3,1409.3 2682.4,1444.6 2689.5,1444.4 2696.6,1457.0 2703.7,1451.1 2710.8,1461.3 2717.9,1471.4 2725.0,1463.8 2732.1,1479.3 2739.2,1482.5 2746.3,1485.2 2753.4,1476.4 2760.5,1479.4 2767.6,1466.1 2774.7,1471.4 2781.8,1477.8 2788.9,1476.4 2796.0,1478.1 2803.1,1473.3 2810.2,1468.2 2817.3,1483.8 2824.4,1494.5 2831.5,1495.9 2838.7,1495.6 2845.8,1493.9 2852.9,1495.3 2860.0,1498.9 2867.1,1497.8 2874.2,1495.6 2881.3,1499.2 2888.4,1493.0 2895.5,1495.4 2902.6,1498.8 2909.7,1499.2" fill="none" stroke="#c8c8c8" stroke-width="5.4" stroke-linejoin="round"/>
<polyline points="317.3,1505.7 324.4,1504.1 331.5,1507.4 338.6,1504.3 345.7,1506.1 352.8,1501.9 359.9,1504.9 367.0,1506.0 374.1,1507.3 381.2,1506.8 388.3,1511.1 395.4,1509.2 402.5,1506.8 409.6,1503.4 416.7,1506.2 423.8,1506.7 430.9,1508.6 438.0,1504.1 445.1,1504.0 452.2,1508.3 459.3,1507.4 466.5,1504.9 473.6,1506.0 480.7,1509.1 487.8,1507.4 494.9,1511.1 502.0,1507.5 509.1,1509.8 516.2,1509.5 523.3,1506.3 530.4,1511.7 537.5,1507.2 544.6,1512.4 551.7,1507.7 558.8,1509.2 565.9,1512.0 573.0,1508.4 580.1,1506.6 587.2,1505.6 594.3,1507.9 601.4,1508.9 608.5,1507.3 615.6,1508.7 622.7,1514.3 629.8,1511.7 636.9,1504.7 644.0,1509.7 651.1,1505.9 658.2,1508.9 665.3,1513.4 672.4,1508.6 679.5,1506.0 686.6,1509.9 693.7,1509.8 700.8,1512.1 707.9,1511.1 715.0,1512.7 722.1,1509.5 729.2,1511.3 736.3,1510.5 743.4,1511.0 750.5,1508.2 757.6,1513.3 764.8,1508.6 771.9,1512.1 779.0,1506.7 786.1,1512.3 793.2,1510.3 800.3,1507.9 807.4,1510.2 814.5,1510.1 821.6,1507.8 828.7,1513.8 835.8,1513.0 842.9,1514.7 850.0,1511.0 857.1,1511.5 864.2,1507.2 871.3,1509.2 878.4,1512.1 885.5,1512.8 892.6,1510.9 899.7,1507.2 906.8,1505.9 913.9,1507.8 921.0,1505.3 928.1,1509.1 935.2,1511.7 942.3,1506.8 949.4,1504.8 956.5,1510.4 963.6,1508.9 970.7,1510.1 977.8,1506.7 984.9,1511.1 992.0,1504.9 999.1,1507.9 1006.2,1502.0 1013.3,1500.2 1020.4,1499.4 1027.5,1498.2 1034.6,1483.9 1041.7,1477.1 1048.8,1466.9 1055.9,1453.9 1063.1,1440.4 1070.2,1459.5 1077.3,1464.4 1084.4,1460.2 1091.5,1472.7 1098.6,1478.9 1105.7,1478.2 1112.8,1483.1 1119.9,1482.1 1127.0,1447.2 1134.1,1441.8 1141.2,1401.8 1148.3,1395.8 1155.4,1395.2 1162.5,1388.1 1169.6,1398.6 1176.7,1380.2 1183.8,1344.1 1190.9,1277.7 1198.0,1262.6 1205.1,1270.0 1212.2,1223.9 1219.3,1251.2 1226.4,1209.1 1233.5,1210.7 1240.6,1211.5 1247.7,1243.3 1254.8,1230.5 1261.9,1123.4 1269.0,649.1 1276.1,941.4 1283.2,1209.1 1290.3,1369.7 1297.4,1385.0 1304.5,1418.0 1311.6,1423.2 1318.7,1439.7 1325.8,1436.1 1332.9,1444.1 1340.0,1463.9 1347.1,1466.1 1354.3,1472.2 1361.4,1485.7 1368.5,1481.8 1375.6,1488.7 1382.7,1498.0 1389.8,1502.6 1396.9,1506.6 1404.0,1505.8 1411.1,1512.4 1418.2,1511.8 1425.3,1507.0 1432.4,1514.7 1439.5,1514.4 1446.6,1512.7 1453.7,1509.8 1460.8,1511.0 1467.9,1514.5 1475.0,1515.2 1482.1,1515.6 1489.2,1516.0 1496.3,1513.3 1503.4,1516.9 1510.5,1516.5 1517.6,1460.7 1524.7,1422.3 1531.8,1376.1 1538.9,1429.3 1546.0,1484.8 1553.1,1513.9 1560.2,1509.6 1567.3,1516.4 1574.4,1515.9 1581.5,1515.2 1588.6,1514.9 1595.7,1517.8 1602.8,1514.3 1609.9,1518.9 1617.0,1517.7 1624.1,1520.5 1631.2,1517.5 1638.3,1517.9 1645.4,1512.4 1652.6,1505.9 1659.7,1500.8 1666.8,1505.0 1673.9,1510.3 1681.0,1509.8 1688.1,1513.0 1695.2,1518.1 1702.3,1516.6 1709.4,1519.4 1716.5,1513.9 1723.6,1513.4 1730.7,1518.5 1737.8,1517.8 1744.9,1518.6 1752.0,1517.9 1759.1,1516.6 1766.2,1515.4 1773.3,1517.7 1780.4,1514.2 1787.5,1362.9 1794.6,1209.1 1801.7,1285.4 1808.8,1401.8 1815.9,1413.3 1823.0,1397.5 1830.1,1427.8 1837.2,1460.6 1844.3,1501.6 1851.4,1465.5 1858.5,1265.8 1865.6,1325.2 1872.7,1420.0 1879.8,1480.7 1886.9,1477.1 1894.0,1442.5 1901.1,1462.2 1908.2,1479.8 1915.3,1492.1 1922.4,1508.9 1929.5,1509.6 1936.6,1506.1 1943.7,1507.9 1950.9,1504.2 1958.0,1512.4 1965.1,1519.8 1972.2,1522.0 1979.3,1522.4 1986.4,1524.1 1993.5,1523.6 2000.6,1523.1 2007.7,1519.8 2014.8,1524.2 2021.9,1520.3 2029.0,1521.0 2036.1,1517.4 2043.2,1511.1 2050.3,1516.6 2057.4,1517.0 2064.5,1522.2 2071.6,1523.8 2078.7,1523.8 2085.8,1521.1 2092.9,1520.7 2100.0,1510.6 2107.1,1504.0 2114.2,1505.3 2121.3,1513.2 2128.4,1514.0 2135.5,1513.4 2142.6,1515.0 2149.7,1516.9 2156.8,1451.1 2163.9,1382.5 2171.0,1439.6 2178.1,1491.3 2185.2,1505.1 2192.3,1503.7 2199.4,1507.1 2206.5,1503.2 2213.6,1485.7 2220.7,1502.4 2227.8,1508.7 2234.9,1507.3 2242.1,1512.4 2249.2,1507.8 2256.3,1510.0 2263.4,1503.7 2270.5,1487.9 2277.6,1466.3 2284.7,1492.5 2291.8,1500.8 2298.9,1389.8 2306.0,1285.1 2313.1,1401.8 2320.2,1467.4 2327.3,1497.3 2334.4,1501.0 2341.5,1499.2 2348.6,1501.3 2355.7,1499.5 2362.8,1504.8 2369.9,1503.3 2377.0,1503.7 2384.1,1506.9 2391.2,1514.8 2398.3,1505.6 2405.4,1496.9 2412.5,1508.2 2419.6,1516.9 2426.7,1514.7 2433.8,1518.4 2440.9,1522.3 2448.0,1521.7 2455.1,1521.8 2462.2,1524.5 2469.3,1522.0 2476.4,1513.0 2483.5,1513.9 2490.6,1517.8 2497.7,1515.5 2504.8,1520.1 2511.9,1518.7 2519.0,1519.5 2526.1,1519.9 2533.2,1522.9 2540.4,1518.0 2547.5,1520.9 2554.6,1517.1 2561.7,1521.5 2568.8,1517.7 2575.9,1520.3 2583.0,1524.4 2590.1,1523.3 2597.2,1523.3 2604.3,1524.8 2611.4,1525.1 2618.5,1522.7 2625.6,1523.1 2632.7,1519.5 2639.8,1519.6 2646.9,1520.9 2654.0,1513.7 2661.1,1522.7 2668.2,1518.0 2675.3,1523.3 2682.4,1523.7 2689.5,1523.0 2696.6,1521.0 2703.7,1525.7 2710.8,1520.6 2717.9,1522.2 2725.0,1522.7 2732.1,1522.8 2739.2,1524.7 2746.3,1521.9 2753.4,1518.6 2760.5,1522.5 2767.6,1517.1 2774.7,1520.6 2781.8,1521.0 2788.9,1525.4 2796.0,1525.9 2803.1,1528.8 2810.2,1517.9 2817.3,1513.5 2824.4,1499.4 2831.5,1508.6 2838.7,1517.3 2845.8,1518.7 2852.9,1523.7 2860.0,1523.1 2867.1,1525.2 2874.2,1525.8 2881.3,1522.2 2888.4,1525.9 2895.5,1522.5 2902.6,1523.4 2909.7,1523.9" fill="none" stroke="#2541a0" stroke-width="5.4" stroke-linejoin="round"/>
<polyline points="317.3,1525.5 324.4,1527.2 331.5,1522.7 338.6,1523.6 345.7,1527.9 352.8,1526.8 359.9,1528.0 367.0,1524.2 374.1,1526.3 381.2,1524.6 388.3,1523.0 395.4,1526.3 402.5,1522.6 409.6,1522.3 416.7,1527.6 423.8,1526.5 430.9,1528.3 438.0,1523.1 445.1,1528.5 452.2,1525.5 459.3,1524.7 466.5,1525.6 473.6,1521.8 480.7,1524.0 487.8,1526.3 494.9,1522.9 502.0,1523.0 509.1,1521.7 516.2,1526.2 523.3,1526.4 530.4,1527.3 537.5,1524.8 544.6,1522.8 551.7,1522.9 558.8,1527.1 565.9,1524.4 573.0,1524.1 580.1,1522.5 587.2,1523.9 594.3,1527.1 601.4,1523.2 608.5,1523.7 615.6,1523.9 622.7,1527.5 629.8,1523.7 636.9,1524.4 644.0,1526.2 651.1,1521.7 658.2,1524.9 665.3,1523.0 672.4,1525.0 679.5,1525.2 686.6,1524.6 693.7,1523.9 700.8,1524.3 707.9,1522.4 715.0,1523.4 722.1,1524.6 729.2,1526.7 736.3,1527.5 743.4,1524.9 750.5,1527.4 757.6,1521.4 764.8,1525.1 771.9,1522.6 779.0,1524.4 786.1,1524.8 793.2,1521.8 800.3,1525.7 807.4,1523.8 814.5,1520.4 821.6,1520.5 828.7,1519.9 835.8,1519.8 842.9,1518.3 850.0,1519.9 857.1,1518.7 864.2,1523.5 871.3,1517.7 878.4,1518.3 885.5,1521.0 892.6,1516.1 899.7,1520.7 906.8,1518.6 913.9,1521.5 921.0,1520.1 928.1,1520.2 935.2,1518.4 942.3,1516.8 949.4,1516.5 956.5,1515.1 963.6,1517.5 970.7,1515.9 977.8,1509.8 984.9,1511.3 992.0,1512.9 999.1,1510.8 1006.2,1505.1 1013.3,1499.2 1020.4,1499.9 1027.5,1498.2 1034.6,1480.8 1041.7,1471.7 1048.8,1461.0 1055.9,1451.1 1063.1,1436.1 1070.2,1423.2 1077.3,1283.6 1084.4,1190.9 1091.5,1331.1 1098.6,1332.8 1105.7,1369.7 1112.8,1373.8 1119.9,1350.5 1127.0,1320.4 1134.1,1364.7 1141.2,1380.4 1148.3,1389.5 1155.4,1396.5 1162.5,1427.5 1169.6,1430.9 1176.7,1458.2 1183.8,1452.2 1190.9,1465.2 1198.0,1471.4 1205.1,1479.7 1212.2,1467.0 1219.3,1472.7 1226.4,1480.9 1233.5,1475.7 1240.6,1475.1 1247.7,1473.9 1254.8,1474.1 1261.9,1479.1 1269.0,1481.0 1276.1,1475.0 1283.2,1473.3 1290.3,1457.8 1297.4,1454.2 1304.5,1451.1 1311.6,1464.2 1318.7,1457.7 1325.8,1458.9 1332.9,1472.7 1340.0,1483.9 1347.1,1487.5 1354.3,1492.5 1361.4,1495.0 1368.5,1505.9 1375.6,1505.7 1382.7,1505.4 1389.8,1512.8 1396.9,1519.0 1404.0,1519.8 1411.1,1522.6 1418.2,1521.2 1425.3,1518.6 1432.4,1518.2 1439.5,1522.9 1446.6,1520.4 1453.7,1516.6 1460.8,1514.2 1467.9,1517.1 1475.0,1516.3 1482.1,1521.2 1489.2,1523.4 1496.3,1522.7 1503.4,1519.7 1510.5,1520.0 1517.6,1520.1 1524.7,1518.5 1531.8,1507.2 1538.9,1516.1 1546.0,1488.3 1553.1,1470.5 1560.2,1433.9 1567.3,1486.9 1574.4,1456.0 1581.5,1398.6 1588.6,1456.0 1595.7,1497.1 1602.8,1513.3 1609.9,1509.9 1617.0,1511.4 1624.1,1511.4 1631.2,1513.4 1638.3,1512.8 1645.4,1512.8 1652.6,1517.7 1659.7,1516.4 1666.8,1514.5 1673.9,1513.2 1681.0,1513.9 1688.1,1514.1 1695.2,1508.1 1702.3,1516.5 1709.4,1510.1 1716.5,1514.7 1723.6,1514.0 1730.7,1514.1 1737.8,1512.0 1744.9,1509.0 1752.0,1503.0 1759.1,1501.4 1766.2,1494.6 1773.3,1497.1 1780.4,1503.5 1787.5,1503.6 1794.6,1512.1 1801.7,1512.0 1808.8,1511.4 1815.9,1512.2 1823.0,1500.0 1830.1,1469.6 1837.2,1507.4 1844.3,1506.2 1851.4,1514.0 1858.5,1510.8 1865.6,1515.9 1872.7,1516.1 1879.8,1516.4 1886.9,1508.9 1894.0,1511.7 1901.1,1510.1 1908.2,1510.2 1915.3,1510.1 1922.4,1502.5 1929.5,1475.9 1936.6,1503.1 1943.7,1508.8 1950.9,1514.8 1958.0,1513.4 1965.1,1512.7 1972.2,1509.5 1979.3,1497.4 1986.4,1482.7 1993.5,1499.5 2000.6,1501.8 2007.7,1510.3 2014.8,1509.5 2021.9,1510.3 2029.0,1513.2 2036.1,1514.4 2043.2,1514.9 2050.3,1510.7 2057.4,1516.1 2064.5,1511.0 2071.6,1511.6 2078.7,1513.2 2085.8,1445.9 2092.9,1399.6 2100.0,1318.3 2107.1,1390.5 2114.2,1424.3 2121.3,1438.2 2128.4,1405.4 2135.5,1396.5 2142.6,1017.4 2149.7,1262.6 2156.8,1370.8 2163.9,1400.1 2171.0,1421.6 2178.1,1457.1 2185.2,1456.3 2192.3,1478.7 2199.4,1441.4 2206.5,1386.8 2213.6,1431.9 2220.7,1487.5 2227.8,1491.0 2234.9,1487.8 2242.1,1483.7 2249.2,1487.5 2256.3,1493.3 2263.4,1489.8 2270.5,1497.4 2277.6,1487.7 2284.7,1493.7 2291.8,1490.1 2298.9,1490.9 2306.0,1489.9 2313.1,1488.1 2320.2,1495.1 2327.3,1502.2 2334.4,1500.4 2341.5,1504.4 2348.6,1500.3 2355.7,1498.4 2362.8,1503.2 2369.9,1500.2 2377.0,1504.0 2384.1,1431.3 2391.2,1344.0 2398.3,1408.0 2405.4,1480.7 2412.5,1498.1 2419.6,1497.6 2426.7,1500.7 2433.8,1490.7 2440.9,1499.1 2448.0,1501.8 2455.1,1500.8 2462.2,1499.5 2469.3,1498.7 2476.4,1500.1 2483.5,1498.0 2490.6,1493.7 2497.7,1498.1 2504.8,1500.0 2511.9,1502.7 2519.0,1506.4 2526.1,1501.9 2533.2,1502.5 2540.4,1504.2 2547.5,1504.9 2554.6,1488.3 2561.7,1500.9 2568.8,1507.7 2575.9,1512.7 2583.0,1511.4 2590.1,1508.9 2597.2,1508.5 2604.3,1507.3 2611.4,1500.0 2618.5,1498.0 2625.6,1502.7 2632.7,1503.0 2639.8,1502.0 2646.9,1503.5 2654.0,1503.4 2661.1,1501.7 2668.2,1504.4 2675.3,1499.0 2682.4,1502.0 2689.5,1497.3 2696.6,1498.2 2703.7,1491.9 2710.8,1492.1 2717.9,1488.7 2725.0,1482.1 2732.1,1479.7 2739.2,1479.9 2746.3,1484.2 2753.4,1489.9 2760.5,1495.7 2767.6,1499.8 2774.7,1500.0 2781.8,1503.5 2788.9,1461.6 2796.0,1427.5 2803.1,1463.1 2810.2,1498.2 2817.3,1496.3 2824.4,1480.7 2831.5,1475.7 2838.7,1482.3 2845.8,1487.3 2852.9,1490.4 2860.0,1491.4 2867.1,1492.5 2874.2,1496.6 2881.3,1495.4 2888.4,1495.2 2895.5,1494.3 2902.6,1496.0 2909.7,1498.2" fill="none" stroke="#8fa0b5" stroke-width="5.4" stroke-linejoin="round"/>
<polyline points="317.3,1498.2 324.4,1498.9 331.5,1500.0 338.6,1496.9 345.7,1500.9 352.8,1501.0 359.9,1499.0 367.0,1500.0 374.1,1498.5 381.2,1495.6 388.3,1502.3 395.4,1504.3 402.5,1498.4 409.6,1498.9 416.7,1496.9 423.8,1500.8 430.9,1499.3 438.0,1495.4 445.1,1504.1 452.2,1497.5 459.3,1504.8 466.5,1506.9 473.6,1499.8 480.7,1502.6 487.8,1500.8 494.9,1497.9 502.0,1501.0 509.1,1504.3 516.2,1496.5 523.3,1502.8 530.4,1504.9 537.5,1502.5 544.6,1501.3 551.7,1498.7 558.8,1503.9 565.9,1501.6 573.0,1506.3 580.1,1503.7 587.2,1501.9 594.3,1498.6 601.4,1502.5 608.5,1505.2 615.6,1500.3 622.7,1504.2 629.8,1504.9 636.9,1500.9 644.0,1501.6 651.1,1502.7 658.2,1503.7 665.3,1503.3 672.4,1504.1 679.5,1505.8 686.6,1505.1 693.7,1504.1 700.8,1505.6 707.9,1503.4 715.0,1503.7 722.1,1502.4 729.2,1501.1 736.3,1507.4 743.4,1504.6 750.5,1499.3 757.6,1503.1 764.8,1503.9 771.9,1507.9 779.0,1499.4 786.1,1507.7 793.2,1503.8 800.3,1505.2 807.4,1501.2 814.5,1507.9 821.6,1503.5 828.7,1507.6 835.8,1504.5 842.9,1507.4 850.0,1502.1 857.1,1499.9 864.2,1504.7 871.3,1504.2 878.4,1508.6 885.5,1505.9 892.6,1503.4 899.7,1505.2 906.8,1503.3 913.9,1503.5 921.0,1485.6 928.1,1476.8 935.2,1459.4 942.3,1448.9 949.4,1452.4 956.5,1462.0 963.6,1466.1 970.7,1463.6 977.8,1476.8 984.9,1488.4 992.0,1487.5 999.1,1486.0 1006.2,1500.6 1013.3,1503.5 1020.4,1492.6 1027.5,1493.7 1034.6,1485.8 1041.7,1482.5 1048.8,1469.3 1055.9,1466.4 1063.1,1477.0 1070.2,1478.0 1077.3,1489.1 1084.4,1488.5 1091.5,1491.3 1098.6,1486.2 1105.7,1494.0 1112.8,1495.8 1119.9,1488.5 1127.0,1455.8 1134.1,1401.8 1141.2,1310.7 1148.3,1250.8 1155.4,1263.3 1162.5,1209.3 1169.6,1209.1 1176.7,1197.8 1183.8,1156.6 1190.9,1147.8 1198.0,1201.1 1205.1,1238.0 1212.2,1208.4 1219.3,1247.5 1226.4,1209.1 1233.5,1177.4 1240.6,1142.7 1247.7,959.6 1254.8,910.4 1261.9,1091.3 1269.0,1035.0 1276.1,881.5 1283.2,957.2 1290.3,996.1 1297.4,1051.7 1304.5,1141.9 1311.6,1209.1 1318.7,1281.3 1325.8,1364.3 1332.9,1377.7 1340.0,1403.9 1347.1,1426.7 1354.3,1433.9 1361.4,1440.5 1368.5,1450.1 1375.6,1465.6 1382.7,1466.1 1389.8,1445.9 1396.9,1428.6 1404.0,1413.3 1411.1,1345.1 1418.2,1365.7 1425.3,1385.3 1432.4,1420.3 1439.5,1443.0 1446.6,1472.3 1453.7,1503.5 1460.8,1440.2 1467.9,1362.2 1475.0,1412.0 1482.1,1448.8 1489.2,1497.1 1496.3,1503.5 1503.4,1511.1 1510.5,1505.8 1517.6,1505.8 1524.7,1503.4 1531.8,1486.6 1538.9,1473.8 1546.0,1489.4 1553.1,1497.3 1560.2,1507.2 1567.3,1509.0 1574.4,1515.6 1581.5,1515.0 1588.6,1515.8 1595.7,1514.2 1602.8,1460.2 1609.9,1421.1 1617.0,1463.6 1624.1,1500.9 1631.2,1512.1 1638.3,1511.3 1645.4,1507.2 1652.6,1507.2 1659.7,1501.8 1666.8,1507.9 1673.9,1508.8 1681.0,1513.7 1688.1,1510.7 1695.2,1513.6 1702.3,1461.9 1709.4,1414.7 1716.5,1466.5 1723.6,1499.5 1730.7,1506.3 1737.8,1505.4 1744.9,1508.7 1752.0,1503.1 1759.1,1503.4 1766.2,1492.8 1773.3,1494.6 1780.4,1505.1 1787.5,1505.2 1794.6,1507.0 1801.7,1507.0 1808.8,1506.7 1815.9,1507.9 1823.0,1511.1 1830.1,1496.2 1837.2,1468.6 1844.3,1498.4 1851.4,1508.6 1858.5,1511.9 1865.6,1512.1 1872.7,1516.6 1879.8,1513.9 1886.9,1514.0 1894.0,1511.1 1901.1,1511.0 1908.2,1512.6 1915.3,1508.1 1922.4,1513.9 1929.5,1517.0 1936.6,1511.3 1943.7,1511.0 1950.9,1515.6 1958.0,1508.4 1965.1,1503.7 1972.2,1515.7 1979.3,1511.9 1986.4,1513.9 1993.5,1514.2 2000.6,1444.6 2007.7,1299.2 2014.8,1149.1 2021.9,1265.1 2029.0,1400.7 2036.1,1435.2 2043.2,1455.4 2050.3,1443.1 2057.4,1423.2 2064.5,1422.2 2071.6,1442.4 2078.7,1458.9 2085.8,1434.7 2092.9,1437.6 2100.0,1474.5 2107.1,1495.3 2114.2,1501.2 2121.3,1498.4 2128.4,1491.5 2135.5,1494.5 2142.6,1492.9 2149.7,1498.4 2156.8,1494.3 2163.9,1497.3 2171.0,1501.5 2178.1,1490.2 2185.2,1491.8 2192.3,1487.3 2199.4,1478.4 2206.5,1475.9 2213.6,1480.4 2220.7,1483.3 2227.8,1447.4 2234.9,1403.2 2242.1,1406.4 2249.2,1435.9 2256.3,1442.6 2263.4,1450.3 2270.5,1458.1 2277.6,1466.1 2284.7,1442.5 2291.8,1437.1 2298.9,1037.8 2306.0,1316.2 2313.1,1374.8 2320.2,1401.8 2327.3,1413.6 2334.4,1438.2 2341.5,1442.3 2348.6,1463.8 2355.7,1478.6 2362.8,1485.4 2369.9,1436.2 2377.0,1409.2 2384.1,1351.5 2391.2,1414.0 2398.3,1480.4 2405.4,1491.6 2412.5,1491.2 2419.6,1487.4 2426.7,1496.3 2433.8,1497.6 2440.9,1494.0 2448.0,1492.3 2455.1,1495.1 2462.2,1501.7 2469.3,1493.3 2476.4,1483.5 2483.5,1396.0 2490.6,1375.6 2497.7,1289.4 2504.8,1330.5 2511.9,1407.5 2519.0,1466.1 2526.1,1477.9 2533.2,1478.5 2540.4,1465.3 2547.5,1469.3 2554.6,1393.3 2561.7,1290.5 2568.8,1339.6 2575.9,1405.0 2583.0,1425.9 2590.1,1480.8 2597.2,1482.9 2604.3,1486.9 2611.4,1482.0 2618.5,1484.3 2625.6,1489.8 2632.7,1490.2 2639.8,1498.3 2646.9,1492.8 2654.0,1499.3 2661.1,1496.1 2668.2,1503.6 2675.3,1500.0 2682.4,1494.4 2689.5,1482.2 2696.6,1498.2 2703.7,1500.0 2710.8,1501.9 2717.9,1504.8 2725.0,1502.9 2732.1,1508.6 2739.2,1505.8 2746.3,1502.2 2753.4,1505.0 2760.5,1504.8 2767.6,1505.2 2774.7,1501.9 2781.8,1501.3 2788.9,1503.5 2796.0,1506.2 2803.1,1504.5 2810.2,1497.5 2817.3,1493.5 2824.4,1489.0 2831.5,1493.4 2838.7,1500.2 2845.8,1502.9 2852.9,1504.0 2860.0,1506.0 2867.1,1503.4 2874.2,1510.5 2881.3,1505.2 2888.4,1510.5 2895.5,1490.7 2902.6,1470.2 2909.7,1496.5" fill="none" stroke="#ff9a33" stroke-width="5.4" stroke-linejoin="round"/>
<polyline points="317.3,1503.5 324.4,1499.2 331.5,1504.6 338.6,1499.7 345.7,1502.5 352.8,1507.0 359.9,1504.6 367.0,1504.6 374.1,1505.9 381.2,1506.5 388.3,1509.4 395.4,1502.1 402.5,1506.5 409.6,1509.6 416.7,1505.6 423.8,1503.1 430.9,1504.9 438.0,1509.4 445.1,1509.2 452.2,1507.3 459.3,1509.4 466.5,1504.3 473.6,1508.2 480.7,1502.4 487.8,1507.5 494.9,1507.5 502.0,1511.9 509.1,1506.5 516.2,1510.6 523.3,1506.1 530.4,1507.1 537.5,1508.9 544.6,1507.7 551.7,1510.1 558.8,1505.2 565.9,1509.6 573.0,1510.5 580.1,1509.8 587.2,1504.7 594.3,1507.5 601.4,1509.6 608.5,1506.6 615.6,1508.4 622.7,1510.4 629.8,1506.1 636.9,1508.4 644.0,1509.8 651.1,1510.8 658.2,1509.7 665.3,1511.7 672.4,1509.8 679.5,1511.5 686.6,1507.6 693.7,1507.5 700.8,1513.7 707.9,1512.6 715.0,1510.7 722.1,1509.1 729.2,1512.1 736.3,1509.7 743.4,1511.0 750.5,1510.6 757.6,1513.5 764.8,1512.7 771.9,1509.3 779.0,1514.0 786.1,1516.8 793.2,1511.8 800.3,1513.3 807.4,1512.8 814.5,1513.4 821.6,1518.6 828.7,1512.5 835.8,1512.4 842.9,1515.0 850.0,1516.4 857.1,1516.7 864.2,1517.4 871.3,1516.1 878.4,1517.3 885.5,1518.4 892.6,1519.9 899.7,1516.4 906.8,1517.7 913.9,1516.1 921.0,1518.2 928.1,1520.0 935.2,1516.0 942.3,1517.8 949.4,1521.2 956.5,1517.8 963.6,1519.6 970.7,1521.5 977.8,1517.5 984.9,1521.2 992.0,1520.1 999.1,1520.1 1006.2,1520.0 1013.3,1519.5 1020.4,1521.7 1027.5,1524.4 1034.6,1524.8 1041.7,1522.8 1048.8,1520.2 1055.9,1516.7 1063.1,1512.5 1070.2,1508.1 1077.3,1506.7 1084.4,1489.1 1091.5,1462.9 1098.6,1444.6 1105.7,1418.1 1112.8,1383.6 1119.9,1382.6 1127.0,1354.3 1134.1,1357.5 1141.2,1342.1 1148.3,1338.6 1155.4,1333.8 1162.5,1324.6 1169.6,1341.0 1176.7,1348.9 1183.8,1325.8 1190.9,1291.8 1198.0,1301.6 1205.1,1262.6 1212.2,1243.3 1219.3,1169.5 1226.4,1194.4 1233.5,1174.1 1240.6,1142.7 1247.7,1203.1 1254.8,1230.5 1261.9,1220.9 1269.0,1250.6 1276.1,1286.2 1283.2,1340.7 1290.3,1397.5 1297.4,1395.2 1304.5,1438.0 1311.6,1443.9 1318.7,1450.3 1325.8,1465.0 1332.9,1476.2 1340.0,1483.8 1347.1,1482.0 1354.3,1496.7 1361.4,1498.2 1368.5,1506.3 1375.6,1511.1 1382.7,1512.6 1389.8,1517.9 1396.9,1522.3 1404.0,1520.1 1411.1,1519.5 1418.2,1520.6 1425.3,1510.1 1432.4,1485.3 1439.5,1510.6 1446.6,1512.8 1453.7,1519.1 1460.8,1520.7 1467.9,1520.2 1475.0,1518.8 1482.1,1519.6 1489.2,1493.3 1496.3,1460.7 1503.4,1482.5 1510.5,1508.9 1517.6,1513.0 1524.7,1518.4 1531.8,1520.0 1538.9,1518.9 1546.0,1518.7 1553.1,1514.2 1560.2,1519.9 1567.3,1515.8 1574.4,1515.7 1581.5,1511.4 1588.6,1507.8 1595.7,1513.6 1602.8,1511.0 1609.9,1514.0 1617.0,996.0 1624.1,1227.1 1631.2,1385.8 1638.3,1427.9 1645.4,1470.7 1652.6,1503.0 1659.7,1509.1 1666.8,1512.5 1673.9,1506.1 1681.0,1512.3 1688.1,1512.7 1695.2,1513.4 1702.3,1513.2 1709.4,1512.9 1716.5,1515.4 1723.6,1516.9 1730.7,1514.4 1737.8,1515.1 1744.9,1510.8 1752.0,1516.5 1759.1,1513.4 1766.2,1518.4 1773.3,1514.7 1780.4,1513.5 1787.5,1519.8 1794.6,1513.6 1801.7,1513.9 1808.8,1500.2 1815.9,1504.7 1823.0,1501.9 1830.1,1510.8 1837.2,1508.9 1844.3,1515.7 1851.4,1512.8 1858.5,1513.7 1865.6,1513.2 1872.7,1516.6 1879.8,1516.8 1886.9,1518.4 1894.0,1518.9 1901.1,1516.9 1908.2,1520.1 1915.3,1516.9 1922.4,1515.2 1929.5,1517.9 1936.6,1518.5 1943.7,1520.7 1950.9,1517.8 1958.0,1511.1 1965.1,1513.5 1972.2,1515.0 1979.3,1516.0 1986.4,1517.9 1993.5,1519.3 2000.6,1517.0 2007.7,1521.0 2014.8,1514.1 2021.9,1513.3 2029.0,1512.7 2036.1,1510.9 2043.2,1516.1 2050.3,1454.3 2057.4,1401.8 2064.5,1451.8 2071.6,1495.3 2078.7,1501.1 2085.8,1503.1 2092.9,1503.0 2100.0,1506.5 2107.1,1505.6 2114.2,1504.6 2121.3,1506.2 2128.4,1505.9 2135.5,1502.6 2142.6,1502.1 2149.7,1498.1 2156.8,1493.9 2163.9,1502.4 2171.0,1493.9 2178.1,1501.1 2185.2,1439.3 2192.3,1368.6 2199.4,1438.2 2206.5,1485.7 2213.6,1490.4 2220.7,1499.9 2227.8,1493.4 2234.9,1498.1 2242.1,1497.6 2249.2,1490.3 2256.3,1494.6 2263.4,1481.3 2270.5,1495.1 2277.6,1497.6 2284.7,1498.6 2291.8,1497.2 2298.9,1493.4 2306.0,1501.4 2313.1,1500.2 2320.2,1499.6 2327.3,1501.7 2334.4,1504.1 2341.5,1502.1 2348.6,1500.1 2355.7,1502.8 2362.8,1500.6 2369.9,1500.7 2377.0,1497.4 2384.1,1482.0 2391.2,1496.3 2398.3,1507.1 2405.4,1505.0 2412.5,1504.8 2419.6,1504.6 2426.7,1435.1 2433.8,1382.5 2440.9,1418.9 2448.0,1386.8 2455.1,1408.8 2462.2,1450.0 2469.3,1489.0 2476.4,1498.6 2483.5,1495.9 2490.6,1505.4 2497.7,1503.8 2504.8,1450.2 2511.9,1376.1 2519.0,1417.9 2526.1,1440.7 2533.2,1492.1 2540.4,1495.8 2547.5,1490.9 2554.6,1494.2 2561.7,1495.3 2568.8,1495.0 2575.9,1498.9 2583.0,1497.1 2590.1,1496.5 2597.2,1496.9 2604.3,1501.2 2611.4,1497.0 2618.5,1499.8 2625.6,1495.8 2632.7,1502.1 2639.8,1497.4 2646.9,1485.3 2654.0,1465.5 2661.1,1488.5 2668.2,1489.0 2675.3,1492.1 2682.4,1498.9 2689.5,1503.4 2696.6,1499.5 2703.7,1494.8 2710.8,1500.2 2717.9,1484.3 2725.0,1480.6 2732.1,1460.7 2739.2,1494.9 2746.3,1490.6 2753.4,1486.8 2760.5,1479.3 2767.6,1467.0 2774.7,1470.0 2781.8,1452.1 2788.9,1459.8 2796.0,1480.0 2803.1,1498.2 2810.2,1498.8 2817.3,1492.8 2824.4,1494.4 2831.5,1498.1 2838.7,1499.3 2845.8,1494.9 2852.9,1498.2 2860.0,1507.8 2867.1,1468.1 2874.2,1415.7 2881.3,1426.8 2888.4,1445.0 2895.5,1435.1 2902.6,1457.7 2909.7,1476.4" fill="none" stroke="#36a32c" stroke-width="5.4" stroke-linejoin="round"/>
<polyline points="317.3,1498.2 324.4,1478.9 331.5,1459.6 338.6,1466.4 345.7,1476.8 352.8,1477.2 359.9,1478.9 367.0,1443.6 374.1,1451.3 381.2,1476.8 388.3,1487.6 395.4,1501.6 402.5,1517.5 409.6,1520.0 416.7,1516.0 423.8,1518.1 430.9,1519.2 438.0,1514.0 445.1,1512.9 452.2,1519.1 459.3,1513.9 466.5,1517.3 473.6,1514.8 480.7,1513.6 487.8,1517.0 494.9,1513.5 502.0,1514.5 509.1,1514.7 516.2,1511.6 523.3,1515.1 530.4,1514.2 537.5,1512.6 544.6,1514.3 551.7,1517.8 558.8,1515.4 565.9,1512.9 573.0,1513.8 580.1,1514.2 587.2,1513.1 594.3,1518.1 601.4,1512.7 608.5,1511.8 615.6,1515.5 622.7,1517.8 629.8,1515.4 636.9,1512.4 644.0,1515.4 651.1,1511.1 658.2,1514.8 665.3,1512.1 672.4,1512.0 679.5,1513.5 686.6,1512.4 693.7,1512.3 700.8,1513.8 707.9,1512.0 715.0,1511.2 722.1,1513.6 729.2,1513.5 736.3,1515.1 743.4,1513.5 750.5,1513.8 757.6,1511.4 764.8,1514.2 771.9,1510.5 779.0,1499.4 786.1,1487.5 793.2,1484.3 800.3,1489.8 807.4,1491.8 814.5,1490.7 821.6,1464.6 828.7,1453.6 835.8,1436.1 842.9,1452.7 850.0,1462.6 857.1,1476.8 864.2,1477.4 871.3,1490.7 878.4,1498.2 885.5,1502.5 892.6,1502.4 899.7,1493.8 906.8,1498.4 913.9,1505.5 921.0,1505.3 928.1,1502.4 935.2,1500.2 942.3,1502.8 949.4,1499.9 956.5,1501.9 963.6,1503.5 970.7,1503.4 977.8,1503.5 984.9,1499.3 992.0,1491.0 999.1,1489.6 1006.2,1495.0 1013.3,1491.7 1020.4,1487.0 1027.5,1487.5 1034.6,1481.7 1041.7,1462.6 1048.8,1452.8 1055.9,1433.9 1063.1,1426.5 1070.2,1422.0 1077.3,1413.8 1084.4,1393.3 1091.5,1403.8 1098.6,1380.4 1105.7,1359.9 1112.8,1348.3 1119.9,1356.8 1127.0,1341.7 1134.1,1337.6 1141.2,1360.1 1148.3,1337.4 1155.4,1361.7 1162.5,1366.1 1169.6,1380.4 1176.7,1371.4 1183.8,1403.2 1190.9,1421.0 1198.0,1403.9 1205.1,1423.2 1212.2,1422.0 1219.3,1420.6 1226.4,1408.6 1233.5,1396.3 1240.6,1401.8 1247.7,1390.0 1254.8,1403.8 1261.9,1363.0 1269.0,1375.8 1276.1,1369.7 1283.2,1356.0 1290.3,1382.8 1297.4,1385.2 1304.5,1386.8 1311.6,1401.8 1318.7,1374.4 1325.8,1365.2 1332.9,1364.1 1340.0,1337.6 1347.1,1326.1 1354.3,1262.6 1361.4,1330.9 1368.5,1401.8 1375.6,1412.8 1382.7,1437.5 1389.8,1442.8 1396.9,1460.1 1404.0,1486.6 1411.1,1491.3 1418.2,1503.5 1425.3,1504.1 1432.4,1498.8 1439.5,1505.8 1446.6,1494.4 1453.7,1506.7 1460.8,1508.5 1467.9,1505.5 1475.0,1515.0 1482.1,1514.2 1489.2,1513.9 1496.3,1515.7 1503.4,1513.5 1510.5,1515.1 1517.6,1516.2 1524.7,1514.6 1531.8,1515.1 1538.9,1515.0 1546.0,1507.5 1553.1,1502.5 1560.2,1492.1 1567.3,1503.8 1574.4,1505.9 1581.5,1509.1 1588.6,1511.9 1595.7,1514.5 1602.8,1510.7 1609.9,1512.0 1617.0,1512.6 1624.1,1499.0 1631.2,1493.9 1638.3,1499.3 1645.4,1505.2 1652.6,1507.1 1659.7,1514.2 1666.8,1513.7 1673.9,1514.4 1681.0,1512.5 1688.1,1511.5 1695.2,1518.9 1702.3,1516.5 1709.4,1515.9 1716.5,1514.2 1723.6,1437.8 1730.7,1363.3 1737.8,1431.5 1744.9,1489.1 1752.0,1495.5 1759.1,1508.1 1766.2,1511.7 1773.3,1517.3 1780.4,1512.5 1787.5,1517.2 1794.6,1514.3 1801.7,1511.7 1808.8,1502.4 1815.9,1511.1 1823.0,1510.2 1830.1,1509.5 1837.2,1512.0 1844.3,1518.6 1851.4,1506.1 1858.5,1498.4 1865.6,1487.2 1872.7,1501.7 1879.8,1507.4 1886.9,1508.3 1894.0,1507.5 1901.1,1515.2 1908.2,1513.4 1915.3,1510.4 1922.4,1513.1 1929.5,1515.4 1936.6,1505.0 1943.7,1510.5 1950.9,1409.6 1958.0,1307.6 1965.1,1353.7 1972.2,1422.4 1979.3,1422.6 1986.4,1459.6 1993.5,1471.1 2000.6,1492.9 2007.7,1501.0 2014.8,1503.7 2021.9,1504.3 2029.0,1508.6 2036.1,1508.7 2043.2,1510.2 2050.3,1505.9 2057.4,1504.4 2064.5,1493.3 2071.6,1500.2 2078.7,1503.6 2085.8,1504.5 2092.9,1502.7 2100.0,1505.6 2107.1,1505.1 2114.2,1507.3 2121.3,1512.1 2128.4,1510.5 2135.5,1508.1 2142.6,1504.8 2149.7,1507.0 2156.8,1504.0 2163.9,1507.7 2171.0,1508.5 2178.1,1505.3 2185.2,1500.3 2192.3,1506.1 2199.4,1503.5 2206.5,1503.3 2213.6,1500.8 2220.7,1502.6 2227.8,1502.1 2234.9,1508.8 2242.1,1500.1 2249.2,1509.7 2256.3,1505.7 2263.4,1510.3 2270.5,1508.3 2277.6,1507.2 2284.7,1509.9 2291.8,1507.9 2298.9,1506.3 2306.0,1504.6 2313.1,1504.0 2320.2,1498.8 2327.3,1490.2 2334.4,1502.1 2341.5,1495.6 2348.6,1499.5 2355.7,1499.2 2362.8,1499.3 2369.9,1503.4 2377.0,1497.3 2384.1,1497.0 2391.2,1501.9 2398.3,1499.3 2405.4,1491.6 2412.5,1498.3 2419.6,1496.0 2426.7,1375.4 2433.8,1226.2 2440.9,1357.1 2448.0,1447.4 2455.1,1453.9 2462.2,1469.6 2469.3,1481.4 2476.4,1486.4 2483.5,1493.6 2490.6,1467.8 2497.7,1427.9 2504.8,1402.1 2511.9,1438.1 2519.0,1449.9 2526.1,1476.6 2533.2,1504.6 2540.4,1505.0 2547.5,1506.7 2554.6,1508.7 2561.7,1508.5 2568.8,1499.3 2575.9,1503.6 2583.0,1493.5 2590.1,1505.3 2597.2,1500.7 2604.3,1504.3 2611.4,1505.4 2618.5,1505.8 2625.6,1503.3 2632.7,1505.9 2639.8,1498.4 2646.9,1497.2 2654.0,1492.6 2661.1,1493.5 2668.2,1502.7 2675.3,1504.2 2682.4,1505.0 2689.5,1506.0 2696.6,1506.6 2703.7,1503.9 2710.8,1497.0 2717.9,1496.2 2725.0,1489.1 2732.1,1494.5 2739.2,1505.7 2746.3,1504.0 2753.4,1509.1 2760.5,1509.0 2767.6,1508.9 2774.7,1508.2 2781.8,1505.8 2788.9,1506.8 2796.0,1493.4 2803.1,1504.0 2810.2,1503.8 2817.3,1504.0 2824.4,1511.9 2831.5,1509.8 2838.7,1509.0 2845.8,1506.1 2852.9,1504.9 2860.0,1507.0 2867.1,1507.7 2874.2,1506.6 2881.3,1503.2 2888.4,1502.5 2895.5,1498.1 2902.6,1500.2 2909.7,1503.8" fill="none" stroke="#0078d4" stroke-width="5.4" stroke-linejoin="round" stroke-dasharray="5.4 5.4"/>
<polyline points="317.3,1508.9 324.4,1508.2 331.5,1511.7 338.6,1512.0 345.7,1506.1 352.8,1507.8 359.9,1512.3 367.0,1507.5 374.1,1509.0 381.2,1505.5 388.3,1505.3 395.4,1508.5 402.5,1512.9 409.6,1507.9 416.7,1506.7 423.8,1511.9 430.9,1510.2 438.0,1511.8 445.1,1504.4 452.2,1511.9 459.3,1507.5 466.5,1508.3 473.6,1510.2 480.7,1510.8 487.8,1507.0 494.9,1506.8 502.0,1510.8 509.1,1507.0 516.2,1508.2 523.3,1511.7 530.4,1507.8 537.5,1503.3 544.6,1510.2 551.7,1504.6 558.8,1509.7 565.9,1506.2 573.0,1508.4 580.1,1511.2 587.2,1509.1 594.3,1508.3 601.4,1510.1 608.5,1509.3 615.6,1504.7 622.7,1502.6 629.8,1508.8 636.9,1507.6 644.0,1512.3 651.1,1504.5 658.2,1507.3 665.3,1508.5 672.4,1506.0 679.5,1510.4 686.6,1505.4 693.7,1507.2 700.8,1509.2 707.9,1509.9 715.0,1511.2 722.1,1507.8 729.2,1506.5 736.3,1508.1 743.4,1506.7 750.5,1509.8 757.6,1507.0 764.8,1509.6 771.9,1505.5 779.0,1506.3 786.1,1509.4 793.2,1503.5 800.3,1511.0 807.4,1505.2 814.5,1505.5 821.6,1500.8 828.7,1510.4 835.8,1510.6 842.9,1503.8 850.0,1505.0 857.1,1508.5 864.2,1505.0 871.3,1506.9 878.4,1503.5 885.5,1505.1 892.6,1505.1 899.7,1507.2 906.8,1506.9 913.9,1507.1 921.0,1504.8 928.1,1501.6 935.2,1504.3 942.3,1504.0 949.4,1503.0 956.5,1507.7 963.6,1503.5 970.7,1508.2 977.8,1498.4 984.9,1497.9 992.0,1498.2 999.1,1497.5 1006.2,1483.1 1013.3,1480.6 1020.4,1469.8 1027.5,1459.6 1034.6,1421.2 1041.7,1369.5 1048.8,1326.9 1055.9,1368.3 1063.1,1400.7 1070.2,1393.1 1077.3,1350.1 1084.4,1316.2 1091.5,1281.5 1098.6,1196.2 1105.7,1201.5 1112.8,1112.0 1119.9,1140.6 1127.0,1175.2 1134.1,1286.2 1141.2,1306.2 1148.3,1309.8 1155.4,1316.2 1162.5,1341.9 1169.6,1337.6 1176.7,1343.0 1183.8,1307.2 1190.9,1313.5 1198.0,1300.4 1205.1,1319.4 1212.2,1334.1 1219.3,1313.3 1226.4,1331.1 1233.5,1337.8 1240.6,1359.0 1247.7,1381.1 1254.8,1358.1 1261.9,1380.5 1269.0,1364.0 1276.1,1385.8 1283.2,1381.6 1290.3,1395.8 1297.4,1427.2 1304.5,1435.8 1311.6,1439.3 1318.7,1444.8 1325.8,1430.9 1332.9,1440.0 1340.0,1443.8 1347.1,1438.2 1354.3,1439.8 1361.4,1442.8 1368.5,1431.2 1375.6,1451.9 1382.7,1441.4 1389.8,1446.7 1396.9,1444.1 1404.0,1433.5 1411.1,1434.6 1418.2,1436.1 1425.3,1446.2 1432.4,1451.8 1439.5,1464.3 1446.6,1456.4 1453.7,1468.6 1460.8,1480.7 1467.9,1481.6 1475.0,1495.6 1482.1,1506.7 1489.2,1514.2 1496.3,1516.7 1503.4,1515.9 1510.5,1517.0 1517.6,1512.4 1524.7,1511.3 1531.8,1499.4 1538.9,1510.9 1546.0,1515.9 1553.1,1511.9 1560.2,1515.5 1567.3,1514.4 1574.4,1517.3 1581.5,1518.2 1588.6,1514.8 1595.7,1511.0 1602.8,1519.0 1609.9,1512.5 1617.0,1514.2 1624.1,1518.0 1631.2,1510.7 1638.3,1495.9 1645.4,1496.0 1652.6,1485.3 1659.7,1470.1 1666.8,1468.2 1673.9,1474.8 1681.0,1489.5 1688.1,1498.4 1695.2,1506.6 1702.3,1518.0 1709.4,1516.2 1716.5,1517.4 1723.6,1512.4 1730.7,1503.2 1737.8,1496.4 1744.9,1490.6 1752.0,1493.7 1759.1,1505.0 1766.2,1508.7 1773.3,1508.2 1780.4,1461.5 1787.5,1422.8 1794.6,1369.7 1801.7,1403.3 1808.8,1438.3 1815.9,1311.9 1823.0,1418.6 1830.1,1474.8 1837.2,1507.4 1844.3,1503.0 1851.4,1506.3 1858.5,1509.4 1865.6,1507.0 1872.7,1510.0 1879.8,1510.9 1886.9,1506.9 1894.0,1509.7 1901.1,1506.2 1908.2,1512.0 1915.3,1505.4 1922.4,1505.6 1929.5,1505.5 1936.6,1506.6 1943.7,1497.3 1950.9,1474.1 1958.0,1493.1 1965.1,1499.4 1972.2,1502.5 1979.3,1504.9 1986.4,1509.3 1993.5,1506.7 2000.6,1502.7 2007.7,1509.0 2014.8,1503.5 2021.9,1505.9 2029.0,1508.1 2036.1,1501.7 2043.2,1486.7 2050.3,1487.5 2057.4,1494.4 2064.5,1498.0 2071.6,1504.6 2078.7,1503.7 2085.8,1500.4 2092.9,1506.5 2100.0,1506.4 2107.1,1502.1 2114.2,1505.3 2121.3,1501.1 2128.4,1503.2 2135.5,1502.1 2142.6,1505.9 2149.7,1507.4 2156.8,1504.6 2163.9,1373.7 2171.0,1271.2 2178.1,1380.5 2185.2,1464.3 2192.3,1487.5 2199.4,1493.0 2206.5,1499.7 2213.6,1496.9 2220.7,1494.4 2227.8,1495.1 2234.9,1495.9 2242.1,1494.6 2249.2,1494.1 2256.3,1498.5 2263.4,1494.3 2270.5,1499.4 2277.6,1499.3 2284.7,1499.9 2291.8,1494.3 2298.9,1498.0 2306.0,1498.3 2313.1,1496.0 2320.2,1417.2 2327.3,1348.3 2334.4,1406.9 2341.5,1479.2 2348.6,1501.5 2355.7,1495.6 2362.8,1497.9 2369.9,1497.9 2377.0,1495.8 2384.1,1500.3 2391.2,1505.2 2398.3,1504.9 2405.4,1498.0 2412.5,1502.4 2419.6,1503.4 2426.7,1498.4 2433.8,1494.1 2440.9,1466.5 2448.0,1492.3 2455.1,1496.7 2462.2,1503.5 2469.3,1502.1 2476.4,1500.5 2483.5,1506.6 2490.6,1507.1 2497.7,1499.8 2504.8,1505.8 2511.9,1505.0 2519.0,1504.9 2526.1,1505.4 2533.2,1506.9 2540.4,1497.9 2547.5,1498.5 2554.6,1502.2 2561.7,1504.4 2568.8,1504.4 2575.9,1508.3 2583.0,1506.3 2590.1,1508.7 2597.2,1505.8 2604.3,1509.5 2611.4,1505.6 2618.5,1507.5 2625.6,1509.1 2632.7,1507.6 2639.8,1498.5 2646.9,1502.2 2654.0,1502.1 2661.1,1507.8 2668.2,1503.9 2675.3,1505.2 2682.4,1507.6 2689.5,1509.1 2696.6,1508.9 2703.7,1510.1 2710.8,1502.8 2717.9,1508.5 2725.0,1506.4 2732.1,1509.9 2739.2,1507.8 2746.3,1493.2 2753.4,1503.5 2760.5,1508.8 2767.6,1507.2 2774.7,1505.9 2781.8,1506.0 2788.9,1508.7 2796.0,1511.7 2803.1,1509.9 2810.2,1495.1 2817.3,1484.8 2824.4,1496.8 2831.5,1508.8 2838.7,1505.6 2845.8,1506.2 2852.9,1505.3 2860.0,1510.9 2867.1,1508.3 2874.2,1507.5 2881.3,1511.7 2888.4,1509.1 2895.5,1509.5 2902.6,1507.8 2909.7,1508.9" fill="none" stroke="#8fcde0" stroke-width="5.4" stroke-linejoin="round" stroke-dasharray="5.4 5.4"/>
<polyline points="317.3,1508.9 324.4,1510.2 331.5,1507.4 338.6,1510.4 345.7,1507.6 352.8,1507.3 359.9,1510.8 367.0,1510.9 374.1,1514.4 381.2,1510.3 388.3,1513.2 395.4,1513.1 402.5,1513.7 409.6,1509.8 416.7,1513.3 423.8,1515.1 430.9,1513.1 438.0,1515.5 445.1,1512.1 452.2,1517.0 459.3,1510.1 466.5,1514.0 473.6,1514.5 480.7,1508.1 487.8,1510.6 494.9,1512.9 502.0,1512.5 509.1,1514.5 516.2,1514.0 523.3,1518.7 530.4,1513.6 537.5,1514.2 544.6,1510.0 551.7,1512.9 558.8,1513.5 565.9,1515.8 573.0,1512.2 580.1,1513.2 587.2,1513.5 594.3,1510.9 601.4,1511.6 608.5,1512.7 615.6,1513.2 622.7,1514.4 629.8,1515.5 636.9,1517.2 644.0,1516.4 651.1,1514.1 658.2,1518.2 665.3,1516.0 672.4,1511.8 679.5,1509.7 686.6,1517.1 693.7,1511.1 700.8,1513.7 707.9,1511.2 715.0,1516.5 722.1,1516.3 729.2,1515.0 736.3,1515.4 743.4,1514.2 750.5,1513.9 757.6,1515.4 764.8,1517.3 771.9,1516.7 779.0,1514.4 786.1,1517.0 793.2,1514.6 800.3,1513.1 807.4,1513.4 814.5,1518.8 821.6,1513.9 828.7,1513.9 835.8,1513.1 842.9,1511.5 850.0,1511.3 857.1,1511.2 864.2,1518.7 871.3,1512.9 878.4,1512.9 885.5,1513.5 892.6,1518.1 899.7,1515.3 906.8,1516.5 913.9,1515.1 921.0,1514.3 928.1,1511.0 935.2,1512.8 942.3,1515.7 949.4,1513.5 956.5,1511.8 963.6,1514.2 970.7,1510.0 977.8,1506.9 984.9,1511.4 992.0,1508.9 999.1,1458.8 1006.2,1420.0 1013.3,1418.0 1020.4,1419.0 1027.5,1429.7 1034.6,1426.4 1041.7,1421.6 1048.8,1422.9 1055.9,1409.3 1063.1,1402.4 1070.2,1413.1 1077.3,1393.0 1084.4,1401.8 1091.5,1381.2 1098.6,1335.8 1105.7,1330.7 1112.8,1305.5 1119.9,1283.0 1127.0,1263.0 1134.1,1191.3 1141.2,1155.6 1148.3,1131.6 1155.4,1028.3 1162.5,1019.6 1169.6,995.5 1176.7,1047.7 1183.8,1117.0 1190.9,1075.2 1198.0,1091.3 1205.1,1146.7 1212.2,1209.1 1219.3,1260.2 1226.4,1236.3 1233.5,1283.2 1240.6,1316.2 1247.7,1331.1 1254.8,1339.3 1261.9,1359.1 1269.0,1383.2 1276.1,1380.4 1283.2,1401.6 1290.3,1395.0 1297.4,1412.8 1304.5,1418.1 1311.6,1433.9 1318.7,1441.3 1325.8,1438.2 1332.9,1443.2 1340.0,1456.3 1347.1,1466.1 1354.3,1473.7 1361.4,1474.3 1368.5,1481.8 1375.6,1491.5 1382.7,1497.0 1389.8,1503.7 1396.9,1506.7 1404.0,1499.6 1411.1,1501.1 1418.2,1500.8 1425.3,1506.3 1432.4,1505.9 1439.5,1514.8 1446.6,1512.6 1453.7,1509.9 1460.8,1513.9 1467.9,1509.5 1475.0,1513.9 1482.1,1511.6 1489.2,1511.1 1496.3,1511.1 1503.4,1513.4 1510.5,1505.1 1517.6,1504.9 1524.7,1503.9 1531.8,1505.2 1538.9,1509.2 1546.0,1508.6 1553.1,1511.8 1560.2,1444.6 1567.3,1355.8 1574.4,1431.0 1581.5,1484.8 1588.6,1504.9 1595.7,1508.5 1602.8,1516.6 1609.9,1517.8 1617.0,1483.5 1624.1,1429.3 1631.2,1458.5 1638.3,1494.7 1645.4,1483.3 1652.6,1493.8 1659.7,1505.3 1666.8,1506.2 1673.9,1512.3 1681.0,1507.4 1688.1,1503.8 1695.2,1493.3 1702.3,1487.1 1709.4,1471.7 1716.5,1493.6 1723.6,1492.1 1730.7,1501.6 1737.8,1505.3 1744.9,1512.8 1752.0,1511.2 1759.1,1512.5 1766.2,1510.9 1773.3,1516.4 1780.4,1511.1 1787.5,1515.7 1794.6,1512.8 1801.7,1508.1 1808.8,1503.6 1815.9,1504.7 1823.0,1507.2 1830.1,1507.2 1837.2,1512.1 1844.3,1513.0 1851.4,1513.8 1858.5,1514.0 1865.6,1512.9 1872.7,1511.0 1879.8,1515.9 1886.9,1514.2 1894.0,1422.5 1901.1,1355.8 1908.2,1390.9 1915.3,1420.5 1922.4,1468.5 1929.5,1501.6 1936.6,1509.4 1943.7,1501.3 1950.9,1495.5 1958.0,1510.1 1965.1,1515.4 1972.2,1519.2 1979.3,1515.4 1986.4,1514.1 1993.5,1515.9 2000.6,1515.7 2007.7,1520.1 2014.8,1516.5 2021.9,1517.2 2029.0,1515.4 2036.1,1517.5 2043.2,1518.3 2050.3,1516.2 2057.4,1513.4 2064.5,1512.9 2071.6,1512.1 2078.7,1504.4 2085.8,1504.9 2092.9,1491.7 2100.0,1499.6 2107.1,1506.9 2114.2,1504.4 2121.3,1507.7 2128.4,1510.0 2135.5,1512.8 2142.6,1514.7 2149.7,1515.2 2156.8,1506.9 2163.9,1502.4 2171.0,1507.0 2178.1,1518.0 2185.2,1513.2 2192.3,1513.1 2199.4,1515.9 2206.5,1515.8 2213.6,1518.0 2220.7,1508.1 2227.8,1484.0 2234.9,1503.6 2242.1,1513.1 2249.2,1516.5 2256.3,1516.7 2263.4,1511.7 2270.5,1518.5 2277.6,1509.0 2284.7,1502.6 2291.8,1497.6 2298.9,1502.2 2306.0,1507.3 2313.1,1511.2 2320.2,1515.4 2327.3,1513.1 2334.4,1514.0 2341.5,1504.2 2348.6,1501.7 2355.7,1507.4 2362.8,1510.6 2369.9,1509.5 2377.0,1513.3 2384.1,1510.4 2391.2,1517.1 2398.3,1514.0 2405.4,1517.4 2412.5,1516.1 2419.6,1513.8 2426.7,1512.3 2433.8,1516.4 2440.9,1512.3 2448.0,1513.2 2455.1,1508.7 2462.2,1510.6 2469.3,1508.8 2476.4,1492.2 2483.5,1486.4 2490.6,1474.7 2497.7,1481.4 2504.8,1492.4 2511.9,1501.9 2519.0,1504.3 2526.1,1505.1 2533.2,1509.0 2540.4,1509.9 2547.5,1511.9 2554.6,1514.2 2561.7,1513.0 2568.8,1509.8 2575.9,1512.5 2583.0,1514.9 2590.1,1517.2 2597.2,1503.0 2604.3,1488.3 2611.4,1500.7 2618.5,1509.9 2625.6,1512.8 2632.7,1514.9 2639.8,1512.4 2646.9,1511.5 2654.0,1513.6 2661.1,1513.1 2668.2,1514.1 2675.3,1512.5 2682.4,1515.0 2689.5,1516.0 2696.6,1511.2 2703.7,1512.7 2710.8,1511.3 2717.9,1514.4 2725.0,1511.8 2732.1,1512.0 2739.2,1500.5 2746.3,1490.7 2753.4,1499.0 2760.5,1509.0 2767.6,1509.6 2774.7,1511.5 2781.8,1513.3 2788.9,1513.9 2796.0,1509.9 2803.1,1502.8 2810.2,1491.8 2817.3,1498.0 2824.4,1509.5 2831.5,1510.8 2838.7,1509.7 2845.8,1516.8 2852.9,1509.5 2860.0,1516.0 2867.1,1515.8 2874.2,1510.3 2881.3,1515.2 2888.4,1504.3 2895.5,1503.4 2902.6,1503.8 2909.7,1512.5" fill="none" stroke="#66cc33" stroke-width="5.4" stroke-linejoin="round" stroke-dasharray="5.4 5.4"/>
<polyline points="317.3,1520.7 324.4,1522.0 331.5,1522.2 338.6,1519.0 345.7,1522.6 352.8,1522.5 359.9,1524.5 367.0,1519.9 374.1,1523.1 381.2,1523.7 388.3,1522.7 395.4,1521.4 402.5,1520.2 409.6,1521.2 416.7,1519.8 423.8,1521.0 430.9,1522.9 438.0,1521.6 445.1,1519.8 452.2,1521.0 459.3,1525.2 466.5,1523.7 473.6,1525.5 480.7,1522.5 487.8,1523.3 494.9,1521.3 502.0,1523.3 509.1,1525.6 516.2,1521.3 523.3,1522.5 530.4,1526.2 537.5,1526.1 544.6,1521.1 551.7,1522.5 558.8,1526.7 565.9,1525.4 573.0,1527.2 580.1,1523.7 587.2,1525.6 594.3,1523.9 601.4,1524.9 608.5,1527.7 615.6,1525.5 622.7,1523.0 629.8,1524.3 636.9,1526.0 644.0,1527.9 651.1,1522.6 658.2,1524.4 665.3,1525.9 672.4,1522.9 679.5,1527.9 686.6,1521.9 693.7,1527.1 700.8,1522.7 707.9,1526.3 715.0,1526.8 722.1,1525.3 729.2,1524.4 736.3,1525.9 743.4,1524.9 750.5,1527.6 757.6,1523.7 764.8,1526.4 771.9,1522.4 779.0,1525.5 786.1,1525.4 793.2,1524.9 800.3,1522.4 807.4,1525.6 814.5,1522.8 821.6,1523.6 828.7,1523.1 835.8,1519.6 842.9,1521.2 850.0,1519.1 857.1,1522.6 864.2,1523.2 871.3,1521.5 878.4,1518.7 885.5,1519.9 892.6,1519.0 899.7,1523.6 906.8,1517.3 913.9,1516.9 921.0,1517.8 928.1,1519.3 935.2,1520.8 942.3,1518.0 949.4,1521.2 956.5,1518.4 963.6,1517.5 970.7,1517.6 977.8,1514.2 984.9,1514.1 992.0,1510.4 999.1,1508.7 1006.2,1508.8 1013.3,1511.9 1020.4,1506.4 1027.5,1503.9 1034.6,1502.4 1041.7,1501.7 1048.8,1496.4 1055.9,1502.9 1063.1,1498.2 1070.2,1498.5 1077.3,1505.0 1084.4,1501.8 1091.5,1497.5 1098.6,1503.0 1105.7,1501.3 1112.8,1504.7 1119.9,1503.5 1127.0,1493.2 1134.1,1493.1 1141.2,1482.1 1148.3,1485.9 1155.4,1486.4 1162.5,1478.6 1169.6,1479.7 1176.7,1476.8 1183.8,1453.4 1190.9,1421.1 1198.0,1408.8 1205.1,1401.0 1212.2,1401.8 1219.3,1397.0 1226.4,1370.8 1233.5,1373.5 1240.6,1402.0 1247.7,1423.2 1254.8,1441.4 1261.9,1450.0 1269.0,1410.4 1276.1,1406.5 1283.2,1369.7 1290.3,1310.4 1297.4,1234.8 1304.5,454.2 1311.6,1300.1 1318.7,1401.8 1325.8,1405.3 1332.9,1407.2 1340.0,1425.2 1347.1,1433.5 1354.3,1435.2 1361.4,1436.1 1368.5,1456.4 1375.6,1460.3 1382.7,1474.8 1389.8,1480.9 1396.9,1502.3 1404.0,1508.4 1411.1,1507.2 1418.2,1510.7 1425.3,1511.0 1432.4,1503.3 1439.5,1502.8 1446.6,1506.8 1453.7,1510.6 1460.8,1513.2 1467.9,1509.3 1475.0,1514.0 1482.1,1512.0 1489.2,1515.8 1496.3,1514.8 1503.4,1513.9 1510.5,1518.9 1517.6,1517.4 1524.7,1515.3 1531.8,1515.1 1538.9,1516.0 1546.0,1511.2 1553.1,1512.0 1560.2,1515.7 1567.3,1512.1 1574.4,1469.9 1581.5,1430.7 1588.6,1466.4 1595.7,1503.9 1602.8,1509.8 1609.9,1516.9 1617.0,1513.9 1624.1,1510.3 1631.2,1500.6 1638.3,1476.8 1645.4,1503.9 1652.6,1509.6 1659.7,1510.5 1666.8,1514.2 1673.9,1513.9 1681.0,1516.3 1688.1,1516.5 1695.2,1514.9 1702.3,1510.2 1709.4,1512.8 1716.5,1517.1 1723.6,1513.6 1730.7,1515.9 1737.8,1511.3 1744.9,1516.9 1752.0,1516.8 1759.1,1508.7 1766.2,1505.0 1773.3,1512.9 1780.4,1512.4 1787.5,1515.6 1794.6,1517.8 1801.7,1512.8 1808.8,1509.7 1815.9,1515.3 1823.0,1509.0 1830.1,1515.1 1837.2,1510.9 1844.3,1509.0 1851.4,1510.0 1858.5,1513.2 1865.6,1515.3 1872.7,1504.9 1879.8,1501.1 1886.9,1489.2 1894.0,1505.8 1901.1,1507.6 1908.2,1508.0 1915.3,1511.6 1922.4,1510.8 1929.5,1509.7 1936.6,1509.4 1943.7,1513.1 1950.9,1510.3 1958.0,1511.7 1965.1,1511.7 1972.2,1511.6 1979.3,1512.5 1986.4,1515.1 1993.5,1513.5 2000.6,1511.4 2007.7,1511.8 2014.8,1510.7 2021.9,1501.4 2029.0,1501.9 2036.1,1502.0 2043.2,1510.6 2050.3,1507.8 2057.4,1508.5 2064.5,1509.6 2071.6,1513.8 2078.7,1510.1 2085.8,1506.7 2092.9,1502.5 2100.0,1507.2 2107.1,1509.6 2114.2,1069.9 2121.3,1316.2 2128.4,1366.5 2135.5,1232.6 2142.6,1315.7 2149.7,1406.5 2156.8,1430.5 2163.9,1457.4 2171.0,1493.7 2178.1,1496.5 2185.2,1503.0 2192.3,1499.7 2199.4,1499.5 2206.5,1501.4 2213.6,1495.7 2220.7,1499.8 2227.8,1501.8 2234.9,1499.9 2242.1,1503.6 2249.2,1499.3 2256.3,1502.7 2263.4,1500.8 2270.5,1459.5 2277.6,1404.1 2284.7,1121.3 2291.8,1224.1 2298.9,1309.9 2306.0,1435.8 2313.1,1448.1 2320.2,1462.7 2327.3,1476.1 2334.4,1494.0 2341.5,1493.1 2348.6,1495.1 2355.7,1452.2 2362.8,1422.2 2369.9,1448.1 2377.0,1496.0 2384.1,1495.2 2391.2,1500.8 2398.3,1493.2 2405.4,1488.9 2412.5,1500.4 2419.6,1498.5 2426.7,1496.3 2433.8,1499.5 2440.9,1503.3 2448.0,1497.2 2455.1,1499.1 2462.2,1499.4 2469.3,1499.1 2476.4,1500.4 2483.5,1501.3 2490.6,1504.7 2497.7,1501.4 2504.8,1503.8 2511.9,1501.2 2519.0,1500.2 2526.1,1489.2 2533.2,1496.8 2540.4,1501.7 2547.5,1504.4 2554.6,1502.2 2561.7,1506.1 2568.8,1499.7 2575.9,1503.7 2583.0,1498.8 2590.1,1500.8 2597.2,1495.3 2604.3,1492.8 2611.4,1493.1 2618.5,1479.7 2625.6,1481.6 2632.7,1475.9 2639.8,1433.3 2646.9,1380.4 2654.0,1421.4 2661.1,1476.6 2668.2,1478.7 2675.3,1483.1 2682.4,1482.0 2689.5,1484.0 2696.6,1489.5 2703.7,1485.3 2710.8,1488.2 2717.9,1490.7 2725.0,1480.5 2732.1,1454.7 2739.2,1467.0 2746.3,1455.2 2753.4,1443.7 2760.5,1467.5 2767.6,1472.2 2774.7,1487.1 2781.8,1489.9 2788.9,1483.2 2796.0,1488.3 2803.1,1480.1 2810.2,1487.3 2817.3,1488.2 2824.4,1493.9 2831.5,1490.9 2838.7,1489.8 2845.8,1490.1 2852.9,1486.9 2860.0,1489.4 2867.1,1490.2 2874.2,1492.5 2881.3,1496.3 2888.4,1499.6 2895.5,1501.4 2902.6,1506.7 2909.7,1501.4" fill="none" stroke="#ffc90e" stroke-width="5.4" stroke-linejoin="round" stroke-dasharray="5.4 5.4"/>
<polyline points="317.3,1508.9 324.4,1506.5 331.5,1508.5 338.6,1509.5 345.7,1507.7 352.8,1508.1 359.9,1512.5 367.0,1506.7 374.1,1511.0 381.2,1508.7 388.3,1507.2 395.4,1508.3 402.5,1508.2 409.6,1507.1 416.7,1512.5 423.8,1510.6 430.9,1514.6 438.0,1510.9 445.1,1513.0 452.2,1505.6 459.3,1513.1 466.5,1504.6 473.6,1509.5 480.7,1511.7 487.8,1504.6 494.9,1508.4 502.0,1509.7 509.1,1507.7 516.2,1506.0 523.3,1511.2 530.4,1512.3 537.5,1511.1 544.6,1506.7 551.7,1507.6 558.8,1511.0 565.9,1508.1 573.0,1510.9 580.1,1512.6 587.2,1510.6 594.3,1512.3 601.4,1505.4 608.5,1515.0 615.6,1506.8 622.7,1509.6 629.8,1508.5 636.9,1508.9 644.0,1506.7 651.1,1511.2 658.2,1514.7 665.3,1511.5 672.4,1511.5 679.5,1512.3 686.6,1511.5 693.7,1509.6 700.8,1508.4 707.9,1513.3 715.0,1512.9 722.1,1512.1 729.2,1507.4 736.3,1513.8 743.4,1511.0 750.5,1509.0 757.6,1509.8 764.8,1514.0 771.9,1515.5 779.0,1510.9 786.1,1508.9 793.2,1511.7 800.3,1509.3 807.4,1509.3 814.5,1511.3 821.6,1510.8 828.7,1509.1 835.8,1510.4 842.9,1511.1 850.0,1508.9 857.1,1509.9 864.2,1513.0 871.3,1510.3 878.4,1512.9 885.5,1509.0 892.6,1509.3 899.7,1509.9 906.8,1506.3 913.9,1513.0 921.0,1505.8 928.1,1510.2 935.2,1507.4 942.3,1511.7 949.4,1508.4 956.5,1506.8 963.6,1508.9 970.7,1508.0 977.8,1503.1 984.9,1508.2 992.0,1504.7 999.1,1503.4 1006.2,1502.4 1013.3,1500.3 1020.4,1500.7 1027.5,1498.2 1034.6,1495.9 1041.7,1485.6 1048.8,1493.9 1055.9,1484.2 1063.1,1477.8 1070.2,1479.4 1077.3,1475.2 1084.4,1481.1 1091.5,1472.6 1098.6,1466.1 1105.7,1444.8 1112.8,1419.3 1119.9,1407.8 1127.0,1383.2 1134.1,1369.7 1141.2,1343.6 1148.3,1344.5 1155.4,1272.8 1162.5,1262.6 1169.6,1223.6 1176.7,1155.6 1183.8,1048.5 1190.9,1050.0 1198.0,952.1 1205.1,1102.0 1212.2,845.1 1219.3,1102.0 1226.4,1262.6 1233.5,1289.8 1240.6,1316.2 1247.7,1338.4 1254.8,1370.5 1261.9,1369.7 1269.0,1298.0 1276.1,1187.7 1283.2,1369.7 1290.3,1394.2 1297.4,1402.9 1304.5,1420.1 1311.6,1444.6 1318.7,1448.8 1325.8,1455.7 1332.9,1472.2 1340.0,1468.4 1347.1,1476.8 1354.3,1485.4 1361.4,1483.9 1368.5,1495.5 1375.6,1498.0 1382.7,1500.9 1389.8,1508.5 1396.9,1514.2 1404.0,1511.4 1411.1,1511.8 1418.2,1512.4 1425.3,1511.4 1432.4,1503.9 1439.5,1509.7 1446.6,1514.3 1453.7,1510.0 1460.8,1515.1 1467.9,1513.4 1475.0,1514.8 1482.1,1515.7 1489.2,1517.0 1496.3,1519.1 1503.4,1515.1 1510.5,1517.0 1517.6,1518.5 1524.7,1515.9 1531.8,1512.0 1538.9,1492.2 1546.0,1509.1 1553.1,1514.0 1560.2,1519.6 1567.3,1518.5 1574.4,1516.3 1581.5,1515.0 1588.6,1516.7 1595.7,1516.6 1602.8,1519.7 1609.9,1516.0 1617.0,1520.0 1624.1,1506.0 1631.2,1489.3 1638.3,1508.4 1645.4,1516.0 1652.6,1515.9 1659.7,1517.7 1666.8,1520.9 1673.9,1515.9 1681.0,1521.2 1688.1,1522.7 1695.2,1517.6 1702.3,1510.7 1709.4,1506.0 1716.5,1517.9 1723.6,1518.1 1730.7,1518.2 1737.8,1519.6 1744.9,1519.0 1752.0,1517.9 1759.1,1513.9 1766.2,1511.2 1773.3,1498.5 1780.4,1497.0 1787.5,1494.0 1794.6,1507.2 1801.7,1512.8 1808.8,1508.2 1815.9,1517.3 1823.0,1511.6 1830.1,1514.2 1837.2,1518.0 1844.3,1515.1 1851.4,1520.0 1858.5,1514.4 1865.6,1518.0 1872.7,1519.3 1879.8,1517.6 1886.9,1516.8 1894.0,1517.6 1901.1,1506.8 1908.2,1505.4 1915.3,1509.8 1922.4,1511.2 1929.5,1516.5 1936.6,1515.2 1943.7,1509.8 1950.9,1514.2 1958.0,1513.3 1965.1,1514.9 1972.2,1509.1 1979.3,1514.3 1986.4,1513.0 1993.5,1512.1 2000.6,1510.5 2007.7,1513.1 2014.8,1511.1 2021.9,1511.8 2029.0,1509.3 2036.1,1498.6 2043.2,1486.1 2050.3,1485.6 2057.4,1488.4 2064.5,1497.2 2071.6,1503.2 2078.7,1498.3 2085.8,1503.1 2092.9,1503.6 2100.0,1511.1 2107.1,1507.9 2114.2,1509.3 2121.3,1503.6 2128.4,1510.8 2135.5,1509.5 2142.6,1509.2 2149.7,1501.2 2156.8,1496.1 2163.9,1488.8 2171.0,1500.3 2178.1,1498.9 2185.2,1502.6 2192.3,1502.5 2199.4,1507.0 2206.5,1504.4 2213.6,1504.3 2220.7,1507.1 2227.8,1507.9 2234.9,1506.7 2242.1,1506.6 2249.2,1508.5 2256.3,1507.1 2263.4,1502.1 2270.5,1506.9 2277.6,1499.9 2284.7,1503.1 2291.8,1423.2 2298.9,1359.0 2306.0,1405.0 2313.1,1477.3 2320.2,1478.4 2327.3,1489.5 2334.4,1488.6 2341.5,1491.5 2348.6,1501.4 2355.7,1498.5 2362.8,1499.9 2369.9,1502.8 2377.0,1504.6 2384.1,1462.0 2391.2,1410.2 2398.3,1453.1 2405.4,1484.6 2412.5,1481.1 2419.6,1485.5 2426.7,1491.6 2433.8,1491.9 2440.9,1499.1 2448.0,1496.8 2455.1,1496.2 2462.2,1500.9 2469.3,1497.2 2476.4,1494.8 2483.5,1496.3 2490.6,1498.1 2497.7,1504.0 2504.8,1499.5 2511.9,1501.7 2519.0,1501.9 2526.1,1500.6 2533.2,1496.7 2540.4,1486.1 2547.5,1496.0 2554.6,1503.2 2561.7,1499.3 2568.8,1497.9 2575.9,1504.0 2583.0,1503.0 2590.1,1502.9 2597.2,1500.7 2604.3,1507.0 2611.4,1502.5 2618.5,1505.3 2625.6,1506.7 2632.7,1495.1 2639.8,1467.0 2646.9,1493.1 2654.0,1497.9 2661.1,1506.1 2668.2,1506.9 2675.3,1511.5 2682.4,1504.6 2689.5,1509.0 2696.6,1508.7 2703.7,1505.9 2710.8,1506.3 2717.9,1509.9 2725.0,1507.9 2732.1,1508.0 2739.2,1505.4 2746.3,1502.9 2753.4,1500.8 2760.5,1495.9 2767.6,1494.3 2774.7,1502.3 2781.8,1505.8 2788.9,1504.7 2796.0,1510.3 2803.1,1508.7 2810.2,1511.9 2817.3,1509.0 2824.4,1509.3 2831.5,1513.2 2838.7,1511.6 2845.8,1511.2 2852.9,1515.3 2860.0,1511.0 2867.1,1501.9 2874.2,1499.4 2881.3,1508.7 2888.4,1510.3 2895.5,1510.3 2902.6,1511.4 2909.7,1514.2" fill="none" stroke="#ff7043" stroke-width="5.4" stroke-linejoin="round" stroke-dasharray="5.4 5.4"/>
<polyline points="317.3,1522.3 324.4,1521.2 331.5,1522.9 338.6,1523.6 345.7,1524.3 352.8,1522.4 359.9,1521.4 367.0,1523.5 374.1,1523.0 381.2,1523.4 388.3,1520.2 395.4,1521.6 402.5,1523.7 409.6,1523.3 416.7,1524.9 423.8,1520.9 430.9,1525.3 438.0,1523.4 445.1,1521.5 452.2,1526.4 459.3,1519.7 466.5,1525.2 473.6,1520.7 480.7,1520.1 487.8,1520.8 494.9,1522.9 502.0,1520.5 509.1,1523.0 516.2,1519.4 523.3,1521.4 530.4,1523.9 537.5,1521.3 544.6,1520.0 551.7,1523.3 558.8,1524.9 565.9,1523.8 573.0,1520.3 580.1,1524.1 587.2,1526.3 594.3,1519.4 601.4,1523.6 608.5,1522.6 615.6,1520.6 622.7,1521.3 629.8,1526.0 636.9,1525.1 644.0,1523.2 651.1,1525.3 658.2,1523.3 665.3,1527.1 672.4,1526.1 679.5,1526.1 686.6,1522.5 693.7,1525.0 700.8,1519.6 707.9,1519.9 715.0,1523.3 722.1,1523.8 729.2,1525.0 736.3,1524.1 743.4,1523.3 750.5,1519.8 757.6,1526.2 764.8,1520.2 771.9,1522.8 779.0,1519.5 786.1,1521.3 793.2,1517.3 800.3,1521.9 807.4,1518.9 814.5,1518.9 821.6,1519.0 828.7,1521.9 835.8,1520.2 842.9,1521.5 850.0,1520.3 857.1,1515.8 864.2,1518.0 871.3,1518.0 878.4,1516.7 885.5,1518.4 892.6,1520.0 899.7,1519.6 906.8,1518.6 913.9,1518.5 921.0,1515.4 928.1,1515.7 935.2,1513.2 942.3,1516.2 949.4,1514.1 956.5,1516.8 963.6,1514.2 970.7,1512.9 977.8,1517.3 984.9,1515.5 992.0,1515.0 999.1,1511.7 1006.2,1513.6 1013.3,1517.7 1020.4,1517.6 1027.5,1511.2 1034.6,1517.3 1041.7,1512.2 1048.8,1517.4 1055.9,1517.8 1063.1,1516.6 1070.2,1514.2 1077.3,1489.4 1084.4,1477.5 1091.5,1447.0 1098.6,1423.2 1105.7,1268.0 1112.8,1284.0 1119.9,1139.5 1127.0,1035.9 1134.1,987.5 1141.2,1013.2 1148.3,1094.5 1155.4,1209.1 1162.5,1385.8 1169.6,1341.7 1176.7,1273.3 1183.8,1315.4 1190.9,1369.7 1198.0,1373.8 1205.1,1403.9 1212.2,1426.4 1219.3,1414.7 1226.4,1401.8 1233.5,1390.6 1240.6,1375.7 1247.7,1385.8 1254.8,1391.0 1261.9,1392.0 1269.0,1417.9 1276.1,1421.0 1283.2,1426.4 1290.3,1439.4 1297.4,1446.1 1304.5,1462.1 1311.6,1464.6 1318.7,1475.7 1325.8,1476.7 1332.9,1463.9 1340.0,1459.9 1347.1,1454.4 1354.3,1447.9 1361.4,1445.0 1368.5,1409.3 1375.6,1411.8 1382.7,1406.6 1389.8,1382.5 1396.9,1402.0 1404.0,1437.0 1411.1,1420.4 1418.2,1390.0 1425.3,1431.0 1432.4,1461.4 1439.5,1501.1 1446.6,1502.7 1453.7,1507.7 1460.8,1512.8 1467.9,1509.4 1475.0,1513.5 1482.1,1514.7 1489.2,1517.4 1496.3,1513.6 1503.4,1520.2 1510.5,1514.5 1517.6,1515.6 1524.7,1519.6 1531.8,1517.6 1538.9,1515.2 1546.0,1497.0 1553.1,1488.2 1560.2,1494.2 1567.3,1508.6 1574.4,1513.2 1581.5,1516.8 1588.6,1514.1 1595.7,1516.9 1602.8,1518.4 1609.9,1513.4 1617.0,1509.3 1624.1,1514.6 1631.2,1513.9 1638.3,1515.3 1645.4,1518.9 1652.6,1517.9 1659.7,1521.5 1666.8,1522.5 1673.9,1515.0 1681.0,1518.5 1688.1,1517.8 1695.2,1519.6 1702.3,1522.2 1709.4,1520.9 1716.5,1520.8 1723.6,1513.8 1730.7,1502.4 1737.8,1498.0 1744.9,1505.2 1752.0,1513.0 1759.1,1515.0 1766.2,1520.4 1773.3,1516.5 1780.4,1518.5 1787.5,1520.5 1794.6,1519.1 1801.7,1519.3 1808.8,1512.2 1815.9,1503.7 1823.0,1497.5 1830.1,1505.2 1837.2,1509.8 1844.3,1516.4 1851.4,1517.1 1858.5,1519.5 1865.6,1517.5 1872.7,1520.5 1879.8,1521.0 1886.9,1518.1 1894.0,1518.2 1901.1,1517.1 1908.2,1519.1 1915.3,1507.1 1922.4,1457.3 1929.5,1458.8 1936.6,1440.6 1943.7,1404.9 1950.9,1391.1 1958.0,1397.5 1965.1,1449.7 1972.2,1495.6 1979.3,1509.6 1986.4,1508.4 1993.5,1513.2 2000.6,1518.7 2007.7,1516.1 2014.8,1521.2 2021.9,1519.6 2029.0,1517.0 2036.1,1513.5 2043.2,1500.7 2050.3,1515.4 2057.4,1516.6 2064.5,1517.4 2071.6,1517.1 2078.7,1520.0 2085.8,1521.1 2092.9,1517.6 2100.0,1517.4 2107.1,1520.1 2114.2,1517.9 2121.3,1519.5 2128.4,1521.2 2135.5,1518.6 2142.6,1522.0 2149.7,1519.6 2156.8,1518.3 2163.9,1508.8 2171.0,1494.8 2178.1,1484.3 2185.2,1500.2 2192.3,1508.1 2199.4,1513.8 2206.5,1515.2 2213.6,1513.9 2220.7,1518.3 2227.8,1521.6 2234.9,1516.2 2242.1,1516.5 2249.2,1518.1 2256.3,1517.2 2263.4,1519.7 2270.5,1517.8 2277.6,1518.1 2284.7,1515.7 2291.8,1508.8 2298.9,1495.3 2306.0,1505.7 2313.1,1510.8 2320.2,1514.0 2327.3,1517.0 2334.4,1516.8 2341.5,1518.5 2348.6,1516.8 2355.7,1518.3 2362.8,1517.9 2369.9,1517.4 2377.0,1514.6 2384.1,1504.1 2391.2,1495.7 2398.3,1509.8 2405.4,1516.2 2412.5,1518.9 2419.6,1516.5 2426.7,1517.8 2433.8,1514.2 2440.9,1517.0 2448.0,1517.5 2455.1,1518.0 2462.2,1519.7 2469.3,1519.4 2476.4,1515.8 2483.5,1517.2 2490.6,1512.6 2497.7,1509.0 2504.8,1500.9 2511.9,1500.0 2519.0,1508.1 2526.1,1508.6 2533.2,1508.5 2540.4,1509.8 2547.5,1513.4 2554.6,1516.7 2561.7,1517.1 2568.8,1516.2 2575.9,1516.6 2583.0,1517.4 2590.1,1515.6 2597.2,1519.5 2604.3,1514.2 2611.4,1518.5 2618.5,1508.7 2625.6,1498.7 2632.7,1513.2 2639.8,1516.9 2646.9,1517.4 2654.0,1515.4 2661.1,1520.0 2668.2,1520.1 2675.3,1516.2 2682.4,1516.8 2689.5,1516.9 2696.6,1518.1 2703.7,1518.6 2710.8,1516.1 2717.9,1517.5 2725.0,1516.3 2732.1,1510.0 2739.2,1505.5 2746.3,1512.3 2753.4,1515.6 2760.5,1511.3 2767.6,1514.8 2774.7,1515.0 2781.8,1515.1 2788.9,1514.7 2796.0,1516.5 2803.1,1518.7 2810.2,1514.1 2817.3,1517.5 2824.4,1517.7 2831.5,1515.6 2838.7,1514.1 2845.8,1514.3 2852.9,1516.7 2860.0,1512.6 2867.1,1505.8 2874.2,1497.7 2881.3,1511.2 2888.4,1514.4 2895.5,1515.8 2902.6,1513.6 2909.7,1515.3" fill="none" stroke="#c8c8c8" stroke-width="5.4" stroke-linejoin="round" stroke-dasharray="5.4 5.4"/>
<polyline points="317.3,1498.2 324.4,1498.7 331.5,1498.1 338.6,1497.6 345.7,1500.7 352.8,1495.1 359.9,1502.9 367.0,1495.2 374.1,1497.5 381.2,1499.4 388.3,1502.8 395.4,1495.0 402.5,1495.4 409.6,1493.9 416.7,1498.9 423.8,1496.9 430.9,1498.4 438.0,1498.0 445.1,1500.7 452.2,1495.8 459.3,1494.3 466.5,1497.4 473.6,1495.7 480.7,1496.3 487.8,1496.5 494.9,1500.9 502.0,1494.6 509.1,1501.4 516.2,1496.7 523.3,1500.9 530.4,1498.8 537.5,1498.2 544.6,1492.6 551.7,1498.4 558.8,1494.7 565.9,1502.0 573.0,1501.6 580.1,1497.4 587.2,1496.0 594.3,1493.1 601.4,1489.6 608.5,1482.1 615.6,1490.8 622.7,1492.8 629.8,1496.0 636.9,1492.4 644.0,1481.5 651.1,1470.3 658.2,1475.6 665.3,1486.7 672.4,1492.8 679.5,1493.6 686.6,1497.9 693.7,1490.7 700.8,1493.5 707.9,1497.3 715.0,1492.7 722.1,1491.5 729.2,1495.9 736.3,1496.4 743.4,1498.2 750.5,1499.5 757.6,1498.9 764.8,1500.4 771.9,1497.3 779.0,1497.5 786.1,1501.9 793.2,1494.7 800.3,1495.6 807.4,1494.2 814.5,1493.1 821.6,1498.1 828.7,1498.6 835.8,1495.2 842.9,1497.1 850.0,1499.7 857.1,1501.2 864.2,1500.5 871.3,1496.1 878.4,1500.1 885.5,1493.8 892.6,1494.3 899.7,1494.6 906.8,1495.4 913.9,1504.8 921.0,1494.3 928.1,1500.9 935.2,1496.4 942.3,1498.6 949.4,1502.4 956.5,1497.9 963.6,1498.2 970.7,1491.8 977.8,1494.5 984.9,1488.7 992.0,1489.7 999.1,1484.8 1006.2,1477.2 1013.3,1468.8 1020.4,1461.6 1027.5,1466.1 1034.6,1447.8 1041.7,1443.8 1048.8,1429.2 1055.9,1414.4 1063.1,1401.2 1070.2,1403.1 1077.3,1400.9 1084.4,1377.0 1091.5,1379.9 1098.6,1352.9 1105.7,1351.5 1112.8,1346.1 1119.9,1302.7 1127.0,1310.8 1134.1,1305.2 1141.2,1317.2 1148.3,1345.5 1155.4,1337.6 1162.5,1300.7 1169.6,1341.0 1176.7,1317.3 1183.8,1294.7 1190.9,1293.5 1198.0,1277.9 1205.1,1238.0 1212.2,1199.5 1219.3,1179.8 1226.4,1222.8 1233.5,1241.2 1240.6,1231.2 1247.7,1240.2 1254.8,1255.1 1261.9,1240.7 1269.0,1274.5 1276.1,1294.7 1283.2,1277.8 1290.3,1287.2 1297.4,1339.3 1304.5,1334.2 1311.6,1334.4 1318.7,1319.6 1325.8,1352.5 1332.9,1343.5 1340.0,1365.6 1347.1,1367.9 1354.3,1360.1 1361.4,1394.7 1368.5,1420.0 1375.6,1434.8 1382.7,1437.2 1389.8,1455.0 1396.9,1458.6 1404.0,1445.6 1411.1,1451.4 1418.2,1483.6 1425.3,1496.5 1432.4,1437.2 1439.5,1396.5 1446.6,1454.4 1453.7,1494.3 1460.8,1509.9 1467.9,1504.1 1475.0,1495.9 1482.1,1502.2 1489.2,1508.3 1496.3,1513.9 1503.4,1509.3 1510.5,1512.0 1517.6,1512.4 1524.7,1514.2 1531.8,1515.8 1538.9,1508.6 1546.0,1507.2 1553.1,1499.4 1560.2,1501.0 1567.3,1501.5 1574.4,1507.6 1581.5,1508.4 1588.6,1508.6 1595.7,1511.2 1602.8,1511.4 1609.9,1513.4 1617.0,1509.0 1624.1,1516.2 1631.2,1512.0 1638.3,1510.2 1645.4,1512.6 1652.6,1515.3 1659.7,1506.8 1666.8,1495.9 1673.9,1508.4 1681.0,1510.7 1688.1,1510.8 1695.2,1515.9 1702.3,1508.5 1709.4,1507.9 1716.5,1508.4 1723.6,1508.7 1730.7,1512.8 1737.8,1514.5 1744.9,1513.0 1752.0,1511.0 1759.1,1510.2 1766.2,1506.1 1773.3,1510.9 1780.4,1514.2 1787.5,1509.7 1794.6,1505.7 1801.7,1501.9 1808.8,1509.1 1815.9,1509.1 1823.0,1510.8 1830.1,1507.8 1837.2,1512.1 1844.3,1509.4 1851.4,1509.6 1858.5,1509.9 1865.6,1509.8 1872.7,1509.8 1879.8,1510.8 1886.9,1508.8 1894.0,1505.8 1901.1,1503.0 1908.2,1485.9 1915.3,1476.2 1922.4,1492.6 1929.5,1495.2 1936.6,1501.8 1943.7,1502.7 1950.9,1509.6 1958.0,1510.0 1965.1,1503.7 1972.2,1505.3 1979.3,1508.2 1986.4,1504.7 1993.5,1505.3 2000.6,1500.8 2007.7,1506.6 2014.8,1504.5 2021.9,1507.7 2029.0,1508.4 2036.1,1504.9 2043.2,1506.0 2050.3,1502.6 2057.4,1490.8 2064.5,1502.9 2071.6,1501.7 2078.7,1502.1 2085.8,1506.0 2092.9,1504.6 2100.0,1504.9 2107.1,1508.7 2114.2,1503.1 2121.3,1499.8 2128.4,1501.8 2135.5,1507.0 2142.6,1506.3 2149.7,1498.7 2156.8,1504.9 2163.9,1500.6 2171.0,1501.5 2178.1,1505.1 2185.2,1493.0 2192.3,1471.5 2199.4,1496.4 2206.5,1497.7 2213.6,1500.0 2220.7,1504.4 2227.8,1496.6 2234.9,1496.6 2242.1,1500.5 2249.2,1494.9 2256.3,1499.9 2263.4,1495.6 2270.5,1496.3 2277.6,1499.5 2284.7,1500.4 2291.8,1490.4 2298.9,1468.1 2306.0,1487.2 2313.1,1369.6 2320.2,1242.5 2327.3,1149.1 2334.4,1228.5 2341.5,1354.3 2348.6,1444.6 2355.7,1445.3 2362.8,1450.2 2369.9,1442.4 2377.0,1445.2 2384.1,1463.1 2391.2,1462.3 2398.3,1477.3 2405.4,1478.2 2412.5,1486.8 2419.6,1466.4 2426.7,1435.6 2433.8,1401.8 2440.9,1259.5 2448.0,1100.9 2455.1,1245.5 2462.2,1316.2 2469.3,1409.3 2476.4,1402.8 2483.5,1391.1 2490.6,620.2 2497.7,950.5 2504.8,1280.8 2511.9,1314.9 2519.0,1369.7 2526.1,1372.1 2533.2,1417.5 2540.4,1408.6 2547.5,1435.5 2554.6,1444.5 2561.7,1434.5 2568.8,1439.2 2575.9,1430.0 2583.0,1419.7 2590.1,1421.1 2597.2,1408.4 2604.3,1370.8 2611.4,1388.1 2618.5,1394.7 2625.6,1401.8 2632.7,1409.7 2639.8,1413.2 2646.9,1431.2 2654.0,1423.3 2661.1,1424.3 2668.2,1446.7 2675.3,1429.8 2682.4,1432.6 2689.5,1436.7 2696.6,1459.9 2703.7,1472.5 2710.8,1477.6 2717.9,1480.3 2725.0,1486.8 2732.1,1414.4 2739.2,1323.7 2746.3,1340.6 2753.4,1373.1 2760.5,1423.2 2767.6,1445.2 2774.7,1450.0 2781.8,1448.0 2788.9,1466.0 2796.0,1471.5 2803.1,1469.8 2810.2,1465.7 2817.3,1474.3 2824.4,1462.5 2831.5,1440.7 2838.7,1416.8 2845.8,1433.6 2852.9,1421.1 2860.0,1443.0 2867.1,1453.4 2874.2,1450.0 2881.3,1423.2 2888.4,1408.1 2895.5,1442.3 2902.6,1453.1 2909.7,1461.0" fill="none" stroke="#2541a0" stroke-width="5.4" stroke-linejoin="round" stroke-dasharray="5.4 5.4"/>
<polyline points="317.3,1472.5 324.4,1472.7 331.5,1469.4 338.6,1478.9 345.7,1481.0 352.8,1492.5 359.9,1482.6 367.0,1483.4 374.1,1492.8 381.2,1491.6 388.3,1495.7 395.4,1489.9 402.5,1487.0 409.6,1489.6 416.7,1489.0 423.8,1486.8 430.9,1496.4 438.0,1491.9 445.1,1496.0 452.2,1492.5 459.3,1498.1 466.5,1491.4 473.6,1490.7 480.7,1495.0 487.8,1495.3 494.9,1496.0 502.0,1496.0 509.1,1493.3 516.2,1500.3 523.3,1500.8 530.4,1499.0 537.5,1504.2 544.6,1502.5 551.7,1503.5 558.8,1506.0 565.9,1509.5 573.0,1503.1 580.1,1509.7 587.2,1505.5 594.3,1509.2 601.4,1510.6 608.5,1507.8 615.6,1507.9 622.7,1510.0 629.8,1512.6 636.9,1506.7 644.0,1509.9 651.1,1513.5 658.2,1511.9 665.3,1505.8 672.4,1511.3 679.5,1512.4 686.6,1510.0 693.7,1511.4 700.8,1507.8 707.9,1507.9 715.0,1511.3 722.1,1510.9 729.2,1505.3 736.3,1511.2 743.4,1508.9 750.5,1509.3 757.6,1510.8 764.8,1506.6 771.9,1508.3 779.0,1506.3 786.1,1507.5 793.2,1504.8 800.3,1503.7 807.4,1506.9 814.5,1508.5 821.6,1510.6 828.7,1506.2 835.8,1505.5 842.9,1502.7 850.0,1505.7 857.1,1512.4 864.2,1510.2 871.3,1505.7 878.4,1504.5 885.5,1507.2 892.6,1510.0 899.7,1503.4 906.8,1500.4 913.9,1508.5 921.0,1505.7 928.1,1498.7 935.2,1498.1 942.3,1488.5 949.4,1478.9 956.5,1467.5 963.6,1473.6 970.7,1462.8 977.8,1459.0 984.9,1460.7 992.0,1466.8 999.1,1463.7 1006.2,1471.4 1013.3,1475.3 1020.4,1472.5 1027.5,1482.1 1034.6,1477.1 1041.7,1478.5 1048.8,1486.3 1055.9,1484.3 1063.1,1465.2 1070.2,1444.1 1077.3,1423.2 1084.4,1381.2 1091.5,1351.5 1098.6,1355.5 1105.7,1354.0 1112.8,1384.3 1119.9,1384.8 1127.0,1383.6 1134.1,1388.3 1141.2,1419.3 1148.3,1421.5 1155.4,1428.3 1162.5,1443.6 1169.6,1446.7 1176.7,1436.8 1183.8,1413.9 1190.9,1411.5 1198.0,1402.9 1205.1,1385.7 1212.2,1371.1 1219.3,1387.0 1226.4,1363.0 1233.5,1361.1 1240.6,1255.0 1247.7,1102.0 1254.8,981.2 1261.9,744.4 1269.0,859.0 1276.1,1123.4 1283.2,1224.6 1290.3,1262.6 1297.4,1281.2 1304.5,1291.5 1311.6,1282.5 1318.7,1316.4 1325.8,1341.0 1332.9,1371.3 1340.0,1362.2 1347.1,1373.7 1354.3,1399.6 1361.4,1430.3 1368.5,1449.3 1375.6,1465.2 1382.7,1465.3 1389.8,1480.9 1396.9,1494.1 1404.0,1498.4 1411.1,1508.9 1418.2,1508.8 1425.3,1512.0 1432.4,1509.0 1439.5,1509.7 1446.6,1504.4 1453.7,1507.0 1460.8,1505.4 1467.9,1512.0 1475.0,1512.0 1482.1,1511.8 1489.2,1433.7 1496.3,1337.6 1503.4,1427.0 1510.5,1480.6 1517.6,1501.5 1524.7,1496.0 1531.8,1487.5 1538.9,1403.0 1546.0,1322.6 1553.1,1383.6 1560.2,1412.3 1567.3,1459.9 1574.4,1501.4 1581.5,1508.2 1588.6,1507.3 1595.7,1509.1 1602.8,1507.1 1609.9,1505.3 1617.0,1507.7 1624.1,1510.1 1631.2,1501.1 1638.3,1506.8 1645.4,1502.2 1652.6,1504.9 1659.7,1507.8 1666.8,1504.3 1673.9,1505.3 1681.0,1504.5 1688.1,1511.2 1695.2,1498.5 1702.3,1494.3 1709.4,1499.9 1716.5,1503.4 1723.6,1502.3 1730.7,1505.7 1737.8,1504.8 1744.9,1505.0 1752.0,1507.5 1759.1,1507.1 1766.2,1503.0 1773.3,1504.7 1780.4,1507.8 1787.5,1509.8 1794.6,1510.4 1801.7,1504.3 1808.8,1497.3 1815.9,1493.0 1823.0,1498.2 1830.1,1507.4 1837.2,1510.1 1844.3,1509.3 1851.4,1507.5 1858.5,1513.0 1865.6,1508.8 1872.7,1513.1 1879.8,1513.2 1886.9,1509.4 1894.0,1513.2 1901.1,1512.0 1908.2,1510.5 1915.3,1511.0 1922.4,1509.5 1929.5,1500.9 1936.6,1488.5 1943.7,1484.7 1950.9,1492.6 1958.0,1501.2 1965.1,1499.6 1972.2,1506.4 1979.3,1513.4 1986.4,1513.8 1993.5,1512.2 2000.6,1395.6 2007.7,1278.7 2014.8,1400.7 2021.9,1436.6 2029.0,1476.4 2036.1,1504.4 2043.2,1505.7 2050.3,1509.8 2057.4,1508.3 2064.5,1509.2 2071.6,1505.6 2078.7,1500.3 2085.8,1490.6 2092.9,1502.4 2100.0,1501.2 2107.1,1504.1 2114.2,1501.7 2121.3,1499.0 2128.4,1507.2 2135.5,1500.2 2142.6,1501.8 2149.7,1499.7 2156.8,1500.0 2163.9,1498.1 2171.0,1495.2 2178.1,1482.4 2185.2,1483.6 2192.3,1491.5 2199.4,1494.0 2206.5,1358.7 2213.6,1203.7 2220.7,1308.3 2227.8,1401.8 2234.9,1429.2 2242.1,1447.1 2249.2,1483.9 2256.3,1491.1 2263.4,1487.2 2270.5,1480.0 2277.6,1487.3 2284.7,1487.5 2291.8,1348.7 2298.9,1218.7 2306.0,1171.6 2313.1,1279.4 2320.2,1369.7 2327.3,1382.4 2334.4,1381.5 2341.5,1413.4 2348.6,1439.6 2355.7,1410.6 2362.8,1399.3 2369.9,1363.3 2377.0,1393.1 2384.1,1423.2 2391.2,1312.3 2398.3,1242.3 2405.4,1259.4 2412.5,1294.6 2419.6,1380.1 2426.7,1422.6 2433.8,1429.6 2440.9,1433.8 2448.0,1445.9 2455.1,1444.6 2462.2,1382.6 2469.3,1328.6 2476.4,1258.3 2483.5,1194.1 2490.6,1246.2 2497.7,1294.7 2504.8,1286.2 2511.9,1294.7 2519.0,1311.5 2526.1,1368.9 2533.2,1368.7 2540.4,1402.0 2547.5,1444.6 2554.6,1458.2 2561.7,1468.4 2568.8,1466.9 2575.9,1472.4 2583.0,1485.3 2590.1,1485.3 2597.2,1498.4 2604.3,1494.6 2611.4,1498.4 2618.5,1501.2 2625.6,1497.4 2632.7,1498.8 2639.8,1495.6 2646.9,1490.7 2654.0,1494.7 2661.1,1498.4 2668.2,1492.2 2675.3,1503.3 2682.4,1501.5 2689.5,1488.3 2696.6,1486.8 2703.7,1498.2 2710.8,1500.3 2717.9,1493.3 2725.0,1493.3 2732.1,1498.2 2739.2,1499.9 2746.3,1496.2 2753.4,1497.5 2760.5,1500.2 2767.6,1501.5 2774.7,1494.5 2781.8,1498.2 2788.9,1493.7 2796.0,1499.2 2803.1,1498.6 2810.2,1499.7 2817.3,1497.9 2824.4,1492.5 2831.5,1475.2 2838.7,1483.3 2845.8,1496.0 2852.9,1496.5 2860.0,1496.2 2867.1,1497.8 2874.2,1505.1 2881.3,1504.0 2888.4,1506.5 2895.5,1507.1 2902.6,1498.2 2909.7,1503.5" fill="none" stroke="#8fa0b5" stroke-width="5.4" stroke-linejoin="round" stroke-dasharray="5.4 5.4"/>
<polyline points="317.3,1514.2 324.4,1513.4 331.5,1513.0 338.6,1512.8 345.7,1517.7 352.8,1514.2 359.9,1516.0 367.0,1514.2 374.1,1518.3 381.2,1515.8 388.3,1511.6 395.4,1513.8 402.5,1516.6 409.6,1512.8 416.7,1515.6 423.8,1513.8 430.9,1513.7 438.0,1513.8 445.1,1515.3 452.2,1517.5 459.3,1513.4 466.5,1516.9 473.6,1513.5 480.7,1511.7 487.8,1511.8 494.9,1512.1 502.0,1514.9 509.1,1512.0 516.2,1516.7 523.3,1512.4 530.4,1519.0 537.5,1511.6 544.6,1513.4 551.7,1514.2 558.8,1513.7 565.9,1514.0 573.0,1514.5 580.1,1512.7 587.2,1512.6 594.3,1510.8 601.4,1513.3 608.5,1515.9 615.6,1514.2 622.7,1514.3 629.8,1513.1 636.9,1513.8 644.0,1513.7 651.1,1515.1 658.2,1511.7 665.3,1518.0 672.4,1517.7 679.5,1511.9 686.6,1511.4 693.7,1513.6 700.8,1517.7 707.9,1517.3 715.0,1514.6 722.1,1515.3 729.2,1511.5 736.3,1514.7 743.4,1514.2 750.5,1509.8 757.6,1514.8 764.8,1514.6 771.9,1514.7 779.0,1513.9 786.1,1510.8 793.2,1513.5 800.3,1511.0 807.4,1511.6 814.5,1512.1 821.6,1509.5 828.7,1507.8 835.8,1513.2 842.9,1509.8 850.0,1513.1 857.1,1511.0 864.2,1511.3 871.3,1511.2 878.4,1509.1 885.5,1508.7 892.6,1511.2 899.7,1511.2 906.8,1511.2 913.9,1510.1 921.0,1505.9 928.1,1509.6 935.2,1506.4 942.3,1514.1 949.4,1509.4 956.5,1513.0 963.6,1508.9 970.7,1506.4 977.8,1506.3 984.9,1504.5 992.0,1500.4 999.1,1501.2 1006.2,1503.3 1013.3,1501.2 1020.4,1498.2 1027.5,1498.2 1034.6,1486.3 1041.7,1490.7 1048.8,1483.6 1055.9,1472.4 1063.1,1466.1 1070.2,1453.5 1077.3,1442.0 1084.4,1417.6 1091.5,1403.3 1098.6,1401.8 1105.7,1371.7 1112.8,1369.0 1119.9,1337.6 1127.0,1356.1 1134.1,1360.7 1141.2,1369.7 1148.3,1352.8 1155.4,1329.2 1162.5,1297.8 1169.6,1294.7 1176.7,1269.2 1183.8,1252.7 1190.9,1267.4 1198.0,1262.6 1205.1,1311.1 1212.2,1340.2 1219.3,1345.6 1226.4,1369.7 1233.5,1381.2 1240.6,1407.9 1247.7,1428.8 1254.8,1444.6 1261.9,1445.0 1269.0,1458.8 1276.1,1461.1 1283.2,1458.4 1290.3,1464.7 1297.4,1475.7 1304.5,1477.6 1311.6,1486.3 1318.7,1492.6 1325.8,1487.8 1332.9,1496.6 1340.0,1501.5 1347.1,1503.0 1354.3,1508.2 1361.4,1504.6 1368.5,1502.8 1375.6,1503.5 1382.7,1500.9 1389.8,1495.7 1396.9,1503.0 1404.0,1500.9 1411.1,1505.9 1418.2,1509.2 1425.3,1508.6 1432.4,1510.1 1439.5,1509.6 1446.6,1510.7 1453.7,1511.4 1460.8,1510.6 1467.9,1514.1 1475.0,1513.8 1482.1,1516.4 1489.2,1508.0 1496.3,1492.8 1503.4,1504.3 1510.5,1511.3 1517.6,1338.8 1524.7,1129.9 1531.8,1329.2 1538.9,1436.6 1546.0,1485.9 1553.1,1512.0 1560.2,1516.9 1567.3,1510.4 1574.4,1509.6 1581.5,1504.8 1588.6,1505.7 1595.7,1506.0 1602.8,1509.5 1609.9,1510.8 1617.0,1512.4 1624.1,1515.1 1631.2,1511.2 1638.3,1507.6 1645.4,1507.7 1652.6,1505.9 1659.7,1499.4 1666.8,1507.4 1673.9,1505.2 1681.0,1513.1 1688.1,1511.0 1695.2,1511.7 1702.3,1405.1 1709.4,1289.4 1716.5,1369.3 1723.6,1438.3 1730.7,1485.5 1737.8,1503.3 1744.9,1506.3 1752.0,1510.5 1759.1,1512.4 1766.2,1514.0 1773.3,1511.2 1780.4,1516.5 1787.5,1517.7 1794.6,1514.6 1801.7,1514.6 1808.8,1510.8 1815.9,1515.7 1823.0,1515.1 1830.1,1512.0 1837.2,1508.7 1844.3,1492.0 1851.4,1512.1 1858.5,1514.7 1865.6,1509.7 1872.7,1514.0 1879.8,1514.4 1886.9,1517.6 1894.0,1512.2 1901.1,1515.1 1908.2,1515.2 1915.3,1513.8 1922.4,1514.4 1929.5,1513.0 1936.6,1507.0 1943.7,1497.5 1950.9,1491.6 1958.0,1506.0 1965.1,1506.3 1972.2,1508.2 1979.3,1510.8 1986.4,1513.5 1993.5,1509.6 2000.6,1506.3 2007.7,1499.7 2014.8,1493.0 2021.9,1499.0 2029.0,1506.7 2036.1,1503.1 2043.2,1510.7 2050.3,1509.4 2057.4,1511.0 2064.5,1515.1 2071.6,1515.8 2078.7,1515.0 2085.8,1514.6 2092.9,1516.8 2100.0,1508.2 2107.1,1499.9 2114.2,1485.0 2121.3,1497.4 2128.4,1506.6 2135.5,1506.4 2142.6,1510.7 2149.7,1511.2 2156.8,1512.9 2163.9,1508.2 2171.0,1495.0 2178.1,1491.9 2185.2,1501.1 2192.3,1504.5 2199.4,1506.2 2206.5,1509.2 2213.6,1516.6 2220.7,1516.4 2227.8,1508.1 2234.9,1510.3 2242.1,1496.8 2249.2,1495.6 2256.3,1501.2 2263.4,1498.8 2270.5,1508.1 2277.6,1512.3 2284.7,1509.2 2291.8,1507.1 2298.9,1514.0 2306.0,1509.9 2313.1,1513.1 2320.2,1512.7 2327.3,1512.6 2334.4,1515.4 2341.5,1514.1 2348.6,1514.6 2355.7,1507.6 2362.8,1500.8 2369.9,1502.1 2377.0,1507.1 2384.1,1505.5 2391.2,1512.2 2398.3,1512.7 2405.4,1513.9 2412.5,1514.0 2419.6,1514.6 2426.7,1515.5 2433.8,1505.8 2440.9,1490.0 2448.0,1506.0 2455.1,1511.2 2462.2,1512.0 2469.3,1517.2 2476.4,1515.2 2483.5,1511.0 2490.6,1512.5 2497.7,1515.5 2504.8,1515.5 2511.9,1515.5 2519.0,1513.2 2526.1,1514.0 2533.2,1509.8 2540.4,1502.2 2547.5,1492.6 2554.6,1505.8 2561.7,1507.7 2568.8,1507.7 2575.9,1514.1 2583.0,1513.6 2590.1,1510.0 2597.2,1514.6 2604.3,1514.8 2611.4,1515.0 2618.5,1512.4 2625.6,1516.2 2632.7,1515.0 2639.8,1511.5 2646.9,1502.6 2654.0,1506.3 2661.1,1513.4 2668.2,1510.5 2675.3,1514.2 2682.4,1510.3 2689.5,1513.7 2696.6,1512.0 2703.7,1512.0 2710.8,1511.6 2717.9,1516.2 2725.0,1514.4 2732.1,1509.9 2739.2,1517.0 2746.3,1513.2 2753.4,1515.7 2760.5,1515.1 2767.6,1512.7 2774.7,1505.6 2781.8,1509.6 2788.9,1510.6 2796.0,1515.9 2803.1,1517.5 2810.2,1518.4 2817.3,1512.2 2824.4,1510.9 2831.5,1498.6 2838.7,1492.3 2845.8,1497.4 2852.9,1500.2 2860.0,1509.2 2867.1,1510.1 2874.2,1513.0 2881.3,1515.5 2888.4,1515.0 2895.5,1510.9 2902.6,1514.3 2909.7,1514.2" fill="none" stroke="#ff9a33" stroke-width="5.4" stroke-linejoin="round" stroke-dasharray="5.4 5.4"/>
<polyline points="317.3,1515.3 324.4,1517.1 331.5,1517.5 338.6,1517.0 345.7,1515.5 352.8,1515.2 359.9,1515.8 367.0,1513.8 374.1,1515.2 381.2,1513.7 388.3,1518.0 395.4,1514.4 402.5,1519.2 409.6,1518.3 416.7,1516.0 423.8,1514.6 430.9,1517.4 438.0,1512.0 445.1,1512.0 452.2,1518.2 459.3,1517.8 466.5,1518.3 473.6,1513.5 480.7,1517.5 487.8,1513.7 494.9,1519.5 502.0,1516.6 509.1,1517.7 516.2,1511.7 523.3,1511.9 530.4,1514.5 537.5,1518.9 544.6,1519.3 551.7,1518.1 558.8,1518.5 565.9,1516.0 573.0,1513.3 580.1,1515.9 587.2,1518.5 594.3,1512.4 601.4,1514.1 608.5,1514.5 615.6,1519.7 622.7,1513.6 629.8,1519.8 636.9,1516.7 644.0,1513.9 651.1,1518.0 658.2,1513.6 665.3,1512.6 672.4,1514.9 679.5,1518.6 686.6,1516.9 693.7,1518.2 700.8,1518.0 707.9,1516.1 715.0,1518.6 722.1,1513.3 729.2,1518.4 736.3,1512.6 743.4,1515.8 750.5,1517.6 757.6,1514.0 764.8,1514.2 771.9,1512.6 779.0,1511.9 786.1,1515.2 793.2,1516.0 800.3,1512.2 807.4,1512.1 814.5,1510.5 821.6,1511.2 828.7,1510.6 835.8,1511.9 842.9,1513.0 850.0,1514.7 857.1,1511.1 864.2,1515.5 871.3,1511.3 878.4,1513.0 885.5,1509.5 892.6,1510.9 899.7,1511.5 906.8,1515.7 913.9,1509.4 921.0,1513.1 928.1,1508.5 935.2,1510.3 942.3,1513.5 949.4,1508.6 956.5,1512.1 963.6,1508.9 970.7,1508.8 977.8,1507.8 984.9,1503.7 992.0,1503.2 999.1,1496.8 1006.2,1496.7 1013.3,1497.6 1020.4,1489.2 1027.5,1487.5 1034.6,1485.1 1041.7,1469.4 1048.8,1472.2 1055.9,1456.3 1063.1,1459.9 1070.2,1454.2 1077.3,1445.7 1084.4,1418.7 1091.5,1371.9 1098.6,1316.2 1105.7,1214.5 1112.8,1164.1 1119.9,1276.4 1127.0,1369.7 1134.1,1342.5 1141.2,1312.0 1148.3,1261.6 1155.4,1271.1 1162.5,1266.1 1169.6,1294.7 1176.7,1299.3 1183.8,1305.5 1190.9,1314.3 1198.0,1333.8 1205.1,1339.8 1212.2,1337.6 1219.3,1352.9 1226.4,1381.2 1233.5,1382.2 1240.6,1401.8 1247.7,1401.5 1254.8,1407.7 1261.9,1418.5 1269.0,1437.9 1276.1,1444.6 1283.2,1443.4 1290.3,1447.1 1297.4,1458.4 1304.5,1457.2 1311.6,1466.1 1318.7,1472.1 1325.8,1468.1 1332.9,1478.7 1340.0,1488.3 1347.1,1488.9 1354.3,1492.7 1361.4,1500.0 1368.5,1498.6 1375.6,1503.6 1382.7,1508.9 1389.8,1509.4 1396.9,1507.4 1404.0,1512.7 1411.1,1507.3 1418.2,1492.3 1425.3,1469.0 1432.4,1492.6 1439.5,1500.7 1446.6,1504.3 1453.7,1512.9 1460.8,1514.5 1467.9,1513.3 1475.0,1517.5 1482.1,1520.3 1489.2,1517.0 1496.3,1516.5 1503.4,1517.3 1510.5,1516.9 1517.6,1519.3 1524.7,1516.7 1531.8,1513.9 1538.9,1513.3 1546.0,1506.7 1553.1,1498.2 1560.2,1484.6 1567.3,1497.1 1574.4,1503.4 1581.5,1511.1 1588.6,1510.6 1595.7,1509.1 1602.8,1511.6 1609.9,1514.7 1617.0,1506.5 1624.1,1509.6 1631.2,1516.5 1638.3,1517.6 1645.4,1516.2 1652.6,1519.2 1659.7,1513.9 1666.8,1516.8 1673.9,1516.0 1681.0,1518.9 1688.1,1518.2 1695.2,1515.3 1702.3,1513.2 1709.4,1515.2 1716.5,1504.0 1723.6,1495.1 1730.7,1500.7 1737.8,1511.5 1744.9,1510.1 1752.0,1516.4 1759.1,1515.9 1766.2,1514.0 1773.3,1517.3 1780.4,1514.3 1787.5,1511.8 1794.6,1515.0 1801.7,1515.4 1808.8,1513.8 1815.9,1513.9 1823.0,1511.2 1830.1,1512.4 1837.2,1515.3 1844.3,1516.4 1851.4,1517.5 1858.5,1507.1 1865.6,1490.5 1872.7,1504.5 1879.8,1511.6 1886.9,1511.7 1894.0,1511.0 1901.1,1512.6 1908.2,1510.0 1915.3,1517.8 1922.4,1518.6 1929.5,1516.4 1936.6,1515.3 1943.7,1516.2 1950.9,1510.4 1958.0,1515.5 1965.1,1508.7 1972.2,1492.1 1979.3,1490.3 1986.4,1480.7 1993.5,1486.1 2000.6,1491.0 2007.7,1497.3 2014.8,1504.9 2021.9,1511.0 2029.0,1504.5 2036.1,1512.5 2043.2,1511.4 2050.3,1513.4 2057.4,1512.4 2064.5,1511.0 2071.6,1511.5 2078.7,1511.4 2085.8,1517.4 2092.9,1510.9 2100.0,1510.4 2107.1,1512.1 2114.2,1509.8 2121.3,1508.8 2128.4,1512.4 2135.5,1510.1 2142.6,1515.8 2149.7,1514.0 2156.8,1513.1 2163.9,1511.5 2171.0,1515.2 2178.1,1513.8 2185.2,1513.5 2192.3,1516.2 2199.4,1513.5 2206.5,1511.5 2213.6,1512.3 2220.7,1511.8 2227.8,1512.7 2234.9,1511.8 2242.1,1515.8 2249.2,1505.1 2256.3,1503.8 2263.4,1507.7 2270.5,1510.2 2277.6,1512.6 2284.7,1511.0 2291.8,1513.6 2298.9,1511.7 2306.0,1512.5 2313.1,1514.8 2320.2,1510.5 2327.3,1510.6 2334.4,1511.1 2341.5,1514.8 2348.6,1513.1 2355.7,1510.1 2362.8,1510.2 2369.9,1509.4 2377.0,1515.1 2384.1,1508.0 2391.2,1493.0 2398.3,1506.2 2405.4,1507.8 2412.5,1509.2 2419.6,1514.0 2426.7,1509.5 2433.8,1508.4 2440.9,1513.7 2448.0,1516.5 2455.1,1513.4 2462.2,1513.0 2469.3,1511.1 2476.4,1512.2 2483.5,1512.7 2490.6,1506.9 2497.7,1507.1 2504.8,1509.6 2511.9,1508.6 2519.0,1502.4 2526.1,1511.2 2533.2,1506.6 2540.4,1512.8 2547.5,1512.8 2554.6,1509.4 2561.7,1511.5 2568.8,1509.3 2575.9,1514.3 2583.0,1509.7 2590.1,1506.7 2597.2,1510.2 2604.3,1508.1 2611.4,1508.6 2618.5,1509.4 2625.6,1510.2 2632.7,1509.6 2639.8,1511.0 2646.9,1515.0 2654.0,1507.1 2661.1,1507.9 2668.2,1492.9 2675.3,1483.0 2682.4,1481.3 2689.5,1486.4 2696.6,1490.3 2703.7,1494.1 2710.8,1495.1 2717.9,1504.3 2725.0,1508.7 2732.1,1506.4 2739.2,1512.8 2746.3,1507.8 2753.4,1510.4 2760.5,1507.8 2767.6,1506.9 2774.7,1503.0 2781.8,1504.2 2788.9,1504.8 2796.0,1507.8 2803.1,1506.9 2810.2,1510.0 2817.3,1509.0 2824.4,1512.0 2831.5,1506.8 2838.7,1507.6 2845.8,1511.8 2852.9,1513.9 2860.0,1505.1 2867.1,1497.0 2874.2,1476.1 2881.3,1498.7 2888.4,1498.4 2895.5,1502.0 2902.6,1504.3 2909.7,1507.2" fill="none" stroke="#36a32c" stroke-width="5.4" stroke-linejoin="round" stroke-dasharray="5.4 5.4"/>
<polyline points="317.3,1505.7 324.4,1505.0 331.5,1504.5 338.6,1506.2 345.7,1507.6 352.8,1506.2 359.9,1504.9 367.0,1503.8 374.1,1505.9 381.2,1506.0 388.3,1506.1 395.4,1505.3 402.5,1507.6 409.6,1504.0 416.7,1503.9 423.8,1505.7 430.9,1507.8 438.0,1508.2 445.1,1507.4 452.2,1508.3 459.3,1506.4 466.5,1506.3 473.6,1507.9 480.7,1506.8 487.8,1509.6 494.9,1510.1 502.0,1509.7 509.1,1509.8 516.2,1511.0 523.3,1509.0 530.4,1509.9 537.5,1511.0 544.6,1511.8 551.7,1512.1 558.8,1512.0 565.9,1511.8 573.0,1511.1 580.1,1510.9 587.2,1510.5 594.3,1513.1 601.4,1512.9 608.5,1512.5 615.6,1510.9 622.7,1512.5 629.8,1511.8 636.9,1511.6 644.0,1512.8 651.1,1513.1 658.2,1512.1 665.3,1512.6 672.4,1511.8 679.5,1513.9 686.6,1512.1 693.7,1513.5 700.8,1512.6 707.9,1513.3 715.0,1513.6 722.1,1513.0 729.2,1515.1 736.3,1514.7 743.4,1514.2 750.5,1514.2 757.6,1513.2 764.8,1514.8 771.9,1513.1 779.0,1514.8 786.1,1514.0 793.2,1513.6 800.3,1512.8 807.4,1513.2 814.5,1512.2 821.6,1512.6 828.7,1513.3 835.8,1512.8 842.9,1513.1 850.0,1511.6 857.1,1513.1 864.2,1513.4 871.3,1513.1 878.4,1513.0 885.5,1511.3 892.6,1511.5 899.7,1512.7 906.8,1512.1 913.9,1510.6 921.0,1510.3 928.1,1512.4 935.2,1510.1 942.3,1512.7 949.4,1509.7 956.5,1511.7 963.6,1511.0 970.7,1508.5 977.8,1510.5 984.9,1507.1 992.0,1505.1 999.1,1505.7 1006.2,1501.8 1013.3,1500.3 1020.4,1499.9 1027.5,1497.1 1034.6,1490.6 1041.7,1490.7 1048.8,1484.2 1055.9,1484.9 1063.1,1478.9 1070.2,1467.1 1077.3,1452.1 1084.4,1438.7 1091.5,1428.6 1098.6,1395.4 1105.7,1384.1 1112.8,1363.3 1119.9,1372.0 1127.0,1365.4 1134.1,1343.6 1141.2,1354.2 1148.3,1331.1 1155.4,1313.2 1162.5,1304.4 1169.6,1299.4 1176.7,1288.4 1183.8,1278.7 1190.9,1255.2 1198.0,1262.6 1205.1,1249.9 1212.2,1258.3 1219.3,1269.9 1226.4,1303.3 1233.5,1331.2 1240.6,1325.8 1247.7,1307.8 1254.8,1310.8 1261.9,1326.9 1269.0,1318.3 1276.1,1326.9 1283.2,1348.2 1290.3,1385.8 1297.4,1385.8 1304.5,1360.1 1311.6,1405.2 1318.7,1428.6 1325.8,1437.4 1332.9,1434.3 1340.0,1437.0 1347.1,1446.8 1354.3,1458.1 1361.4,1470.3 1368.5,1469.5 1375.6,1475.7 1382.7,1481.8 1389.8,1482.9 1396.9,1481.3 1404.0,1486.4 1411.1,1486.3 1418.2,1491.9 1425.3,1491.6 1432.4,1493.9 1439.5,1495.1 1446.6,1494.3 1453.7,1497.0 1460.8,1498.3 1467.9,1498.2 1475.0,1498.3 1482.1,1500.0 1489.2,1502.9 1496.3,1502.8 1503.4,1506.0 1510.5,1506.4 1517.6,1507.8 1524.7,1482.7 1531.8,1488.8 1538.9,1491.7 1546.0,1495.2 1553.1,1498.7 1560.2,1499.7 1567.3,1497.3 1574.4,1495.9 1581.5,1493.9 1588.6,1499.2 1595.7,1502.7 1602.8,1505.7 1609.9,1511.6 1617.0,1482.7 1624.1,1484.8 1631.2,1493.0 1638.3,1498.3 1645.4,1502.8 1652.6,1503.9 1659.7,1510.0 1666.8,1503.5 1673.9,1498.1 1681.0,1493.9 1688.1,1491.9 1695.2,1495.2 1702.3,1496.8 1709.4,1497.6 1716.5,1496.2 1723.6,1494.6 1730.7,1498.6 1737.8,1497.1 1744.9,1499.3 1752.0,1499.0 1759.1,1497.5 1766.2,1498.2 1773.3,1489.7 1780.4,1479.9 1787.5,1477.3 1794.6,1468.2 1801.7,1481.1 1808.8,1492.5 1815.9,1500.3 1823.0,1487.5 1830.1,1494.4 1837.2,1500.1 1844.3,1504.9 1851.4,1507.8 1858.5,1507.0 1865.6,1503.0 1872.7,1501.1 1879.8,1496.5 1886.9,1496.3 1894.0,1493.9 1901.1,1499.5 1908.2,1502.4 1915.3,1503.3 1922.4,1505.9 1929.5,1511.0 1936.6,1503.6 1943.7,1499.5 1950.9,1492.7 1958.0,1485.3 1965.1,1488.5 1972.2,1491.3 1979.3,1495.0 1986.4,1498.3 1993.5,1499.2 2000.6,1491.0 2007.7,1473.1 2014.8,1465.0 2021.9,1480.8 2029.0,1503.5 2036.1,1501.5 2043.2,1503.5 2050.3,1502.2 2057.4,1498.8 2064.5,1499.3 2071.6,1498.0 2078.7,1496.8 2085.8,1493.0 2092.9,1488.1 2100.0,1487.9 2107.1,1488.1 2114.2,1484.3 2121.3,1495.1 2128.4,1505.7 2135.5,1499.4 2142.6,1495.3 2149.7,1487.5 2156.8,1481.1 2163.9,1470.0 2171.0,1467.1 2178.1,1474.7 2185.2,1477.6 2192.3,1488.5 2199.4,1492.0 2206.5,1498.2 2213.6,1487.5 2220.7,1493.5 2227.8,1495.0 2234.9,1494.0 2242.1,1496.6 2249.2,1499.3 2256.3,1500.3 2263.4,1484.3 2270.5,1477.4 2277.6,1465.0 2284.7,1452.7 2291.8,1448.5 2298.9,1433.9 2306.0,1441.6 2313.1,1452.8 2320.2,1455.4 2327.3,1451.1 2334.4,1444.6 2341.5,1454.4 2348.6,1473.8 2355.7,1489.6 2362.8,1488.2 2369.9,1486.2 2377.0,1484.7 2384.1,1483.7 2391.2,1483.2 2398.3,1476.0 2405.4,1465.0 2412.5,1473.4 2419.6,1475.3 2426.7,1478.5 2433.8,1487.5 2440.9,1478.1 2448.0,1474.7 2455.1,1470.2 2462.2,1460.8 2469.3,1455.4 2476.4,1451.5 2483.5,1435.4 2490.6,1425.4 2497.7,1436.3 2504.8,1449.7 2511.9,1470.3 2519.0,1477.6 2526.1,1480.0 2533.2,1481.2 2540.4,1483.8 2547.5,1485.1 2554.6,1491.8 2561.7,1492.2 2568.8,1490.0 2575.9,1485.3 2583.0,1487.8 2590.1,1488.3 2597.2,1495.4 2604.3,1495.0 2611.4,1494.4 2618.5,1491.2 2625.6,1491.7 2632.7,1492.0 2639.8,1491.6 2646.9,1487.5 2654.0,1476.8 2661.1,1445.7 2668.2,1457.1 2675.3,1474.2 2682.4,1488.5 2689.5,1491.5 2696.6,1493.9 2703.7,1498.2 2710.8,1496.8 2717.9,1498.2 2725.0,1494.2 2732.1,1490.0 2739.2,1481.5 2746.3,1480.0 2753.4,1485.7 2760.5,1483.0 2767.6,1487.5 2774.7,1483.2 2781.8,1486.7 2788.9,1489.4 2796.0,1494.3 2803.1,1496.0 2810.2,1494.1 2817.3,1497.9 2824.4,1498.3 2831.5,1500.0 2838.7,1498.2 2845.8,1496.7 2852.9,1497.6 2860.0,1502.0 2867.1,1502.0 2874.2,1501.9 2881.3,1503.6 2888.4,1501.9 2895.5,1500.9 2902.6,1502.0 2909.7,1503.5" fill="none" stroke="#000000" stroke-width="5.4" stroke-linejoin="round"/>
<path d="M317.3,1504.5 L323.8,1516.9 L310.8,1516.9Z" fill="#8fcde0" stroke="#333333" stroke-width="2.7" stroke-linejoin="miter" stroke-miterlimit="2.2"/>
<path d="M352.8,1504.0 L359.3,1516.4 L346.3,1516.4Z" fill="#8fcde0" stroke="#333333" stroke-width="2.7" stroke-linejoin="miter" stroke-miterlimit="2.2"/>
<path d="M388.3,1501.2 L394.8,1513.6 L381.8,1513.6Z" fill="#8fcde0" stroke="#333333" stroke-width="2.7" stroke-linejoin="miter" stroke-miterlimit="2.2"/>
<path d="M423.8,1506.9 L430.3,1519.3 L417.3,1519.3Z" fill="#8fcde0" stroke="#333333" stroke-width="2.7" stroke-linejoin="miter" stroke-miterlimit="2.2"/>
<path d="M459.3,1507.5 L465.9,1519.9 L452.8,1519.9Z" fill="#8fcde0" stroke="#333333" stroke-width="2.7" stroke-linejoin="miter" stroke-miterlimit="2.2"/>
<path d="M494.9,1506.7 L501.4,1519.1 L488.4,1519.1Z" fill="#8fcde0" stroke="#333333" stroke-width="2.7" stroke-linejoin="miter" stroke-miterlimit="2.2"/>
<path d="M530.4,1508.1 L536.9,1520.5 L523.9,1520.5Z" fill="#8fcde0" stroke="#333333" stroke-width="2.7" stroke-linejoin="miter" stroke-miterlimit="2.2"/>
<path d="M565.9,1506.8 L572.4,1519.2 L559.4,1519.2Z" fill="#8fcde0" stroke="#333333" stroke-width="2.7" stroke-linejoin="miter" stroke-miterlimit="2.2"/>
<path d="M601.4,1508.0 L607.9,1520.4 L594.9,1520.4Z" fill="#8fcde0" stroke="#333333" stroke-width="2.7" stroke-linejoin="miter" stroke-miterlimit="2.2"/>
<path d="M636.9,1503.4 L643.4,1515.8 L630.4,1515.8Z" fill="#8fcde0" stroke="#333333" stroke-width="2.7" stroke-linejoin="miter" stroke-miterlimit="2.2"/>
<path d="M672.4,1505.4 L678.9,1517.8 L665.9,1517.8Z" fill="#8fcde0" stroke="#333333" stroke-width="2.7" stroke-linejoin="miter" stroke-miterlimit="2.2"/>
<path d="M707.9,1510.3 L714.4,1522.7 L701.4,1522.7Z" fill="#8fcde0" stroke="#333333" stroke-width="2.7" stroke-linejoin="miter" stroke-miterlimit="2.2"/>
<path d="M743.4,1507.7 L750.0,1520.1 L736.9,1520.1Z" fill="#8fcde0" stroke="#333333" stroke-width="2.7" stroke-linejoin="miter" stroke-miterlimit="2.2"/>
<path d="M779.0,1504.9 L785.5,1517.3 L772.4,1517.3Z" fill="#8fcde0" stroke="#333333" stroke-width="2.7" stroke-linejoin="miter" stroke-miterlimit="2.2"/>
<path d="M814.5,1504.9 L821.0,1517.3 L808.0,1517.3Z" fill="#8fcde0" stroke="#333333" stroke-width="2.7" stroke-linejoin="miter" stroke-miterlimit="2.2"/>
<path d="M850.0,1501.0 L856.5,1513.4 L843.5,1513.4Z" fill="#8fcde0" stroke="#333333" stroke-width="2.7" stroke-linejoin="miter" stroke-miterlimit="2.2"/>
<path d="M885.5,1501.2 L892.0,1513.6 L879.0,1513.6Z" fill="#8fcde0" stroke="#333333" stroke-width="2.7" stroke-linejoin="miter" stroke-miterlimit="2.2"/>
<path d="M921.0,1497.2 L927.5,1509.6 L914.5,1509.6Z" fill="#8fcde0" stroke="#333333" stroke-width="2.7" stroke-linejoin="miter" stroke-miterlimit="2.2"/>
<path d="M956.5,1495.5 L963.0,1507.9 L950.0,1507.9Z" fill="#8fcde0" stroke="#333333" stroke-width="2.7" stroke-linejoin="miter" stroke-miterlimit="2.2"/>
<path d="M992.0,1489.5 L998.5,1501.9 L985.5,1501.9Z" fill="#8fcde0" stroke="#333333" stroke-width="2.7" stroke-linejoin="miter" stroke-miterlimit="2.2"/>
<path d="M1027.5,1459.5 L1034.0,1471.9 L1021.0,1471.9Z" fill="#8fcde0" stroke="#333333" stroke-width="2.7" stroke-linejoin="miter" stroke-miterlimit="2.2"/>
<path d="M1063.1,1431.7 L1069.6,1444.1 L1056.5,1444.1Z" fill="#8fcde0" stroke="#333333" stroke-width="2.7" stroke-linejoin="miter" stroke-miterlimit="2.2"/>
<path d="M1098.6,1453.1 L1105.1,1465.5 L1092.1,1465.5Z" fill="#8fcde0" stroke="#333333" stroke-width="2.7" stroke-linejoin="miter" stroke-miterlimit="2.2"/>
<path d="M1134.1,1396.4 L1140.6,1408.8 L1127.6,1408.8Z" fill="#8fcde0" stroke="#333333" stroke-width="2.7" stroke-linejoin="miter" stroke-miterlimit="2.2"/>
<path d="M1169.6,1294.7 L1176.1,1307.1 L1163.1,1307.1Z" fill="#8fcde0" stroke="#333333" stroke-width="2.7" stroke-linejoin="miter" stroke-miterlimit="2.2"/>
<path d="M1205.1,1172.6 L1211.6,1185.0 L1198.6,1185.0Z" fill="#8fcde0" stroke="#333333" stroke-width="2.7" stroke-linejoin="miter" stroke-miterlimit="2.2"/>
<path d="M1240.6,1343.9 L1247.1,1356.3 L1234.1,1356.3Z" fill="#8fcde0" stroke="#333333" stroke-width="2.7" stroke-linejoin="miter" stroke-miterlimit="2.2"/>
<path d="M1276.1,1434.9 L1282.6,1447.3 L1269.6,1447.3Z" fill="#8fcde0" stroke="#333333" stroke-width="2.7" stroke-linejoin="miter" stroke-miterlimit="2.2"/>
<path d="M1311.6,1418.9 L1318.1,1431.3 L1305.1,1431.3Z" fill="#8fcde0" stroke="#333333" stroke-width="2.7" stroke-linejoin="miter" stroke-miterlimit="2.2"/>
<path d="M1347.1,1459.5 L1353.7,1471.9 L1340.6,1471.9Z" fill="#8fcde0" stroke="#333333" stroke-width="2.7" stroke-linejoin="miter" stroke-miterlimit="2.2"/>
<path d="M1382.7,1489.1 L1389.2,1501.5 L1376.2,1501.5Z" fill="#8fcde0" stroke="#333333" stroke-width="2.7" stroke-linejoin="miter" stroke-miterlimit="2.2"/>
<path d="M1418.2,1475.8 L1424.7,1488.2 L1411.7,1488.2Z" fill="#8fcde0" stroke="#333333" stroke-width="2.7" stroke-linejoin="miter" stroke-miterlimit="2.2"/>
<path d="M1453.7,1506.5 L1460.2,1518.9 L1447.2,1518.9Z" fill="#8fcde0" stroke="#333333" stroke-width="2.7" stroke-linejoin="miter" stroke-miterlimit="2.2"/>
<path d="M1489.2,1499.0 L1495.7,1511.4 L1482.7,1511.4Z" fill="#8fcde0" stroke="#333333" stroke-width="2.7" stroke-linejoin="miter" stroke-miterlimit="2.2"/>
<path d="M1524.7,1510.0 L1531.2,1522.4 L1518.2,1522.4Z" fill="#8fcde0" stroke="#333333" stroke-width="2.7" stroke-linejoin="miter" stroke-miterlimit="2.2"/>
<path d="M1560.2,1502.3 L1566.7,1514.7 L1553.7,1514.7Z" fill="#8fcde0" stroke="#333333" stroke-width="2.7" stroke-linejoin="miter" stroke-miterlimit="2.2"/>
<path d="M1595.7,1512.6 L1602.2,1525.0 L1589.2,1525.0Z" fill="#8fcde0" stroke="#333333" stroke-width="2.7" stroke-linejoin="miter" stroke-miterlimit="2.2"/>
<path d="M1631.2,1510.0 L1637.8,1522.4 L1624.7,1522.4Z" fill="#8fcde0" stroke="#333333" stroke-width="2.7" stroke-linejoin="miter" stroke-miterlimit="2.2"/>
<path d="M1666.8,1514.1 L1673.3,1526.5 L1660.2,1526.5Z" fill="#8fcde0" stroke="#333333" stroke-width="2.7" stroke-linejoin="miter" stroke-miterlimit="2.2"/>
<path d="M1702.3,1502.5 L1708.8,1514.9 L1695.8,1514.9Z" fill="#8fcde0" stroke="#333333" stroke-width="2.7" stroke-linejoin="miter" stroke-miterlimit="2.2"/>
<path d="M1737.8,1507.7 L1744.3,1520.1 L1731.3,1520.1Z" fill="#8fcde0" stroke="#333333" stroke-width="2.7" stroke-linejoin="miter" stroke-miterlimit="2.2"/>
<path d="M1773.3,1444.6 L1779.8,1457.0 L1766.8,1457.0Z" fill="#8fcde0" stroke="#333333" stroke-width="2.7" stroke-linejoin="miter" stroke-miterlimit="2.2"/>
<path d="M1808.8,1501.2 L1815.3,1513.6 L1802.3,1513.6Z" fill="#8fcde0" stroke="#333333" stroke-width="2.7" stroke-linejoin="miter" stroke-miterlimit="2.2"/>
<path d="M1844.3,1508.8 L1850.8,1521.2 L1837.8,1521.2Z" fill="#8fcde0" stroke="#333333" stroke-width="2.7" stroke-linejoin="miter" stroke-miterlimit="2.2"/>
<path d="M1879.8,1497.7 L1886.3,1510.1 L1873.3,1510.1Z" fill="#8fcde0" stroke="#333333" stroke-width="2.7" stroke-linejoin="miter" stroke-miterlimit="2.2"/>
<path d="M1915.3,1398.1 L1921.8,1410.5 L1908.8,1410.5Z" fill="#8fcde0" stroke="#333333" stroke-width="2.7" stroke-linejoin="miter" stroke-miterlimit="2.2"/>
<path d="M1950.9,1504.7 L1957.4,1517.1 L1944.3,1517.1Z" fill="#8fcde0" stroke="#333333" stroke-width="2.7" stroke-linejoin="miter" stroke-miterlimit="2.2"/>
<path d="M1986.4,1511.1 L1992.9,1523.5 L1979.9,1523.5Z" fill="#8fcde0" stroke="#333333" stroke-width="2.7" stroke-linejoin="miter" stroke-miterlimit="2.2"/>
<path d="M2021.9,1400.0 L2028.4,1412.4 L2015.4,1412.4Z" fill="#8fcde0" stroke="#333333" stroke-width="2.7" stroke-linejoin="miter" stroke-miterlimit="2.2"/>
<path d="M2057.4,1497.4 L2063.9,1509.8 L2050.9,1509.8Z" fill="#8fcde0" stroke="#333333" stroke-width="2.7" stroke-linejoin="miter" stroke-miterlimit="2.2"/>
<path d="M2092.9,1488.9 L2099.4,1501.3 L2086.4,1501.3Z" fill="#8fcde0" stroke="#333333" stroke-width="2.7" stroke-linejoin="miter" stroke-miterlimit="2.2"/>
<path d="M2128.4,1501.3 L2134.9,1513.7 L2121.9,1513.7Z" fill="#8fcde0" stroke="#333333" stroke-width="2.7" stroke-linejoin="miter" stroke-miterlimit="2.2"/>
<path d="M2163.9,1498.1 L2170.4,1510.5 L2157.4,1510.5Z" fill="#8fcde0" stroke="#333333" stroke-width="2.7" stroke-linejoin="miter" stroke-miterlimit="2.2"/>
<path d="M2199.4,1497.5 L2205.9,1509.9 L2192.9,1509.9Z" fill="#8fcde0" stroke="#333333" stroke-width="2.7" stroke-linejoin="miter" stroke-miterlimit="2.2"/>
<path d="M2234.9,1496.9 L2241.5,1509.3 L2228.4,1509.3Z" fill="#8fcde0" stroke="#333333" stroke-width="2.7" stroke-linejoin="miter" stroke-miterlimit="2.2"/>
<path d="M2270.5,1498.6 L2277.0,1511.0 L2263.9,1511.0Z" fill="#8fcde0" stroke="#333333" stroke-width="2.7" stroke-linejoin="miter" stroke-miterlimit="2.2"/>
<path d="M2306.0,1493.4 L2312.5,1505.8 L2299.5,1505.8Z" fill="#8fcde0" stroke="#333333" stroke-width="2.7" stroke-linejoin="miter" stroke-miterlimit="2.2"/>
<path d="M2341.5,1497.7 L2348.0,1510.1 L2335.0,1510.1Z" fill="#8fcde0" stroke="#333333" stroke-width="2.7" stroke-linejoin="miter" stroke-miterlimit="2.2"/>
<path d="M2377.0,1501.4 L2383.5,1513.8 L2370.5,1513.8Z" fill="#8fcde0" stroke="#333333" stroke-width="2.7" stroke-linejoin="miter" stroke-miterlimit="2.2"/>
<path d="M2412.5,1495.9 L2419.0,1508.3 L2406.0,1508.3Z" fill="#8fcde0" stroke="#333333" stroke-width="2.7" stroke-linejoin="miter" stroke-miterlimit="2.2"/>
<path d="M2448.0,1492.7 L2454.5,1505.1 L2441.5,1505.1Z" fill="#8fcde0" stroke="#333333" stroke-width="2.7" stroke-linejoin="miter" stroke-miterlimit="2.2"/>
<path d="M2483.5,1485.9 L2490.0,1498.3 L2477.0,1498.3Z" fill="#8fcde0" stroke="#333333" stroke-width="2.7" stroke-linejoin="miter" stroke-miterlimit="2.2"/>
<path d="M2519.0,1467.7 L2525.6,1480.1 L2512.5,1480.1Z" fill="#8fcde0" stroke="#333333" stroke-width="2.7" stroke-linejoin="miter" stroke-miterlimit="2.2"/>
<path d="M2554.6,1487.8 L2561.1,1500.2 L2548.0,1500.2Z" fill="#8fcde0" stroke="#333333" stroke-width="2.7" stroke-linejoin="miter" stroke-miterlimit="2.2"/>
<path d="M2590.1,1480.5 L2596.6,1492.9 L2583.6,1492.9Z" fill="#8fcde0" stroke="#333333" stroke-width="2.7" stroke-linejoin="miter" stroke-miterlimit="2.2"/>
<path d="M2625.6,1493.3 L2632.1,1505.7 L2619.1,1505.7Z" fill="#8fcde0" stroke="#333333" stroke-width="2.7" stroke-linejoin="miter" stroke-miterlimit="2.2"/>
<path d="M2661.1,1497.0 L2667.6,1509.4 L2654.6,1509.4Z" fill="#8fcde0" stroke="#333333" stroke-width="2.7" stroke-linejoin="miter" stroke-miterlimit="2.2"/>
<path d="M2696.6,1485.9 L2703.1,1498.3 L2690.1,1498.3Z" fill="#8fcde0" stroke="#333333" stroke-width="2.7" stroke-linejoin="miter" stroke-miterlimit="2.2"/>
<path d="M2732.1,1496.5 L2738.6,1508.9 L2725.6,1508.9Z" fill="#8fcde0" stroke="#333333" stroke-width="2.7" stroke-linejoin="miter" stroke-miterlimit="2.2"/>
<path d="M2767.6,1500.2 L2774.1,1512.6 L2761.1,1512.6Z" fill="#8fcde0" stroke="#333333" stroke-width="2.7" stroke-linejoin="miter" stroke-miterlimit="2.2"/>
<path d="M2803.1,1490.7 L2809.7,1503.1 L2796.6,1503.1Z" fill="#8fcde0" stroke="#333333" stroke-width="2.7" stroke-linejoin="miter" stroke-miterlimit="2.2"/>
<path d="M2838.7,1489.9 L2845.2,1502.3 L2832.1,1502.3Z" fill="#8fcde0" stroke="#333333" stroke-width="2.7" stroke-linejoin="miter" stroke-miterlimit="2.2"/>
<path d="M2874.2,1495.8 L2880.7,1508.2 L2867.7,1508.2Z" fill="#8fcde0" stroke="#333333" stroke-width="2.7" stroke-linejoin="miter" stroke-miterlimit="2.2"/>
<path d="M2909.7,1502.4 L2916.2,1514.8 L2903.2,1514.8Z" fill="#8fcde0" stroke="#333333" stroke-width="2.7" stroke-linejoin="miter" stroke-miterlimit="2.2"/>
<circle cx="331.5" cy="1495.0" r="5.9" fill="#ffc90e" stroke="#333333" stroke-width="2.7"/>
<circle cx="367.0" cy="1492.8" r="5.9" fill="#ffc90e" stroke="#333333" stroke-width="2.7"/>
<circle cx="402.5" cy="1488.5" r="5.9" fill="#ffc90e" stroke="#333333" stroke-width="2.7"/>
<circle cx="438.0" cy="1495.0" r="5.9" fill="#ffc90e" stroke="#333333" stroke-width="2.7"/>
<circle cx="473.6" cy="1491.8" r="5.9" fill="#ffc90e" stroke="#333333" stroke-width="2.7"/>
<circle cx="509.1" cy="1490.0" r="5.9" fill="#ffc90e" stroke="#333333" stroke-width="2.7"/>
<circle cx="544.6" cy="1501.9" r="5.9" fill="#ffc90e" stroke="#333333" stroke-width="2.7"/>
<circle cx="580.1" cy="1503.3" r="5.9" fill="#ffc90e" stroke="#333333" stroke-width="2.7"/>
<circle cx="615.6" cy="1501.2" r="5.9" fill="#ffc90e" stroke="#333333" stroke-width="2.7"/>
<circle cx="651.1" cy="1505.3" r="5.9" fill="#ffc90e" stroke="#333333" stroke-width="2.7"/>
<circle cx="686.6" cy="1507.2" r="5.9" fill="#ffc90e" stroke="#333333" stroke-width="2.7"/>
<circle cx="722.1" cy="1502.2" r="5.9" fill="#ffc90e" stroke="#333333" stroke-width="2.7"/>
<circle cx="764.8" cy="1501.1" r="5.9" fill="#ffc90e" stroke="#333333" stroke-width="2.7"/>
<circle cx="800.3" cy="1508.0" r="5.9" fill="#ffc90e" stroke="#333333" stroke-width="2.7"/>
<circle cx="835.8" cy="1505.7" r="5.9" fill="#ffc90e" stroke="#333333" stroke-width="2.7"/>
<circle cx="871.3" cy="1508.0" r="5.9" fill="#ffc90e" stroke="#333333" stroke-width="2.7"/>
<circle cx="906.8" cy="1503.4" r="5.9" fill="#ffc90e" stroke="#333333" stroke-width="2.7"/>
<circle cx="942.3" cy="1502.7" r="5.9" fill="#ffc90e" stroke="#333333" stroke-width="2.7"/>
<circle cx="977.8" cy="1501.4" r="5.9" fill="#ffc90e" stroke="#333333" stroke-width="2.7"/>
<circle cx="1013.3" cy="1500.5" r="5.9" fill="#ffc90e" stroke="#333333" stroke-width="2.7"/>
<circle cx="1048.8" cy="1489.0" r="5.9" fill="#ffc90e" stroke="#333333" stroke-width="2.7"/>
<circle cx="1084.4" cy="1309.7" r="5.9" fill="#ffc90e" stroke="#333333" stroke-width="2.7"/>
<circle cx="1119.9" cy="1428.0" r="5.9" fill="#ffc90e" stroke="#333333" stroke-width="2.7"/>
<circle cx="1155.4" cy="1375.0" r="5.9" fill="#ffc90e" stroke="#333333" stroke-width="2.7"/>
<circle cx="1190.9" cy="1447.9" r="5.9" fill="#ffc90e" stroke="#333333" stroke-width="2.7"/>
<circle cx="1226.4" cy="1458.6" r="5.9" fill="#ffc90e" stroke="#333333" stroke-width="2.7"/>
<circle cx="1261.9" cy="1461.8" r="5.9" fill="#ffc90e" stroke="#333333" stroke-width="2.7"/>
<circle cx="1297.4" cy="1436.1" r="5.9" fill="#ffc90e" stroke="#333333" stroke-width="2.7"/>
<circle cx="1332.9" cy="1468.7" r="5.9" fill="#ffc90e" stroke="#333333" stroke-width="2.7"/>
<circle cx="1368.5" cy="1505.5" r="5.9" fill="#ffc90e" stroke="#333333" stroke-width="2.7"/>
<circle cx="1404.0" cy="1514.6" r="5.9" fill="#ffc90e" stroke="#333333" stroke-width="2.7"/>
<circle cx="1439.5" cy="1493.7" r="5.9" fill="#ffc90e" stroke="#333333" stroke-width="2.7"/>
<circle cx="1475.0" cy="1517.8" r="5.9" fill="#ffc90e" stroke="#333333" stroke-width="2.7"/>
<circle cx="1510.5" cy="1523.6" r="5.9" fill="#ffc90e" stroke="#333333" stroke-width="2.7"/>
<circle cx="1546.0" cy="1521.0" r="5.9" fill="#ffc90e" stroke="#333333" stroke-width="2.7"/>
<circle cx="1581.5" cy="1518.5" r="5.9" fill="#ffc90e" stroke="#333333" stroke-width="2.7"/>
<circle cx="1617.0" cy="1522.5" r="5.9" fill="#ffc90e" stroke="#333333" stroke-width="2.7"/>
<circle cx="1652.6" cy="1522.4" r="5.9" fill="#ffc90e" stroke="#333333" stroke-width="2.7"/>
<circle cx="1688.1" cy="1524.2" r="5.9" fill="#ffc90e" stroke="#333333" stroke-width="2.7"/>
<circle cx="1723.6" cy="1510.6" r="5.9" fill="#ffc90e" stroke="#333333" stroke-width="2.7"/>
<circle cx="1759.1" cy="1522.6" r="5.9" fill="#ffc90e" stroke="#333333" stroke-width="2.7"/>
<circle cx="1794.6" cy="1512.4" r="5.9" fill="#ffc90e" stroke="#333333" stroke-width="2.7"/>
<circle cx="1830.1" cy="1407.3" r="5.9" fill="#ffc90e" stroke="#333333" stroke-width="2.7"/>
<circle cx="1865.6" cy="1507.7" r="5.9" fill="#ffc90e" stroke="#333333" stroke-width="2.7"/>
<circle cx="1901.1" cy="1510.3" r="5.9" fill="#ffc90e" stroke="#333333" stroke-width="2.7"/>
<circle cx="1936.6" cy="1515.6" r="5.9" fill="#ffc90e" stroke="#333333" stroke-width="2.7"/>
<circle cx="1972.2" cy="1516.4" r="5.9" fill="#ffc90e" stroke="#333333" stroke-width="2.7"/>
<circle cx="2007.7" cy="1507.3" r="5.9" fill="#ffc90e" stroke="#333333" stroke-width="2.7"/>
<circle cx="2043.2" cy="1508.3" r="5.9" fill="#ffc90e" stroke="#333333" stroke-width="2.7"/>
<circle cx="2078.7" cy="1516.3" r="5.9" fill="#ffc90e" stroke="#333333" stroke-width="2.7"/>
<circle cx="2114.2" cy="1512.1" r="5.9" fill="#ffc90e" stroke="#333333" stroke-width="2.7"/>
<circle cx="2149.7" cy="1502.1" r="5.9" fill="#ffc90e" stroke="#333333" stroke-width="2.7"/>
<circle cx="2185.2" cy="1485.7" r="5.9" fill="#ffc90e" stroke="#333333" stroke-width="2.7"/>
<circle cx="2220.7" cy="1487.1" r="5.9" fill="#ffc90e" stroke="#333333" stroke-width="2.7"/>
<circle cx="2256.3" cy="1495.9" r="5.9" fill="#ffc90e" stroke="#333333" stroke-width="2.7"/>
<circle cx="2291.8" cy="1491.1" r="5.9" fill="#ffc90e" stroke="#333333" stroke-width="2.7"/>
<circle cx="2327.3" cy="1479.7" r="5.9" fill="#ffc90e" stroke="#333333" stroke-width="2.7"/>
<circle cx="2362.8" cy="1504.6" r="5.9" fill="#ffc90e" stroke="#333333" stroke-width="2.7"/>
<circle cx="2398.3" cy="1506.9" r="5.9" fill="#ffc90e" stroke="#333333" stroke-width="2.7"/>
<circle cx="2433.8" cy="1511.0" r="5.9" fill="#ffc90e" stroke="#333333" stroke-width="2.7"/>
<circle cx="2469.3" cy="1514.5" r="5.9" fill="#ffc90e" stroke="#333333" stroke-width="2.7"/>
<circle cx="2504.8" cy="1511.6" r="5.9" fill="#ffc90e" stroke="#333333" stroke-width="2.7"/>
<circle cx="2540.4" cy="1510.0" r="5.9" fill="#ffc90e" stroke="#333333" stroke-width="2.7"/>
<circle cx="2575.9" cy="1512.8" r="5.9" fill="#ffc90e" stroke="#333333" stroke-width="2.7"/>
<circle cx="2611.4" cy="1511.7" r="5.9" fill="#ffc90e" stroke="#333333" stroke-width="2.7"/>
<circle cx="2646.9" cy="1504.8" r="5.9" fill="#ffc90e" stroke="#333333" stroke-width="2.7"/>
<circle cx="2682.4" cy="1508.9" r="5.9" fill="#ffc90e" stroke="#333333" stroke-width="2.7"/>
<circle cx="2717.9" cy="1511.7" r="5.9" fill="#ffc90e" stroke="#333333" stroke-width="2.7"/>
<circle cx="2753.4" cy="1422.2" r="5.9" fill="#ffc90e" stroke="#333333" stroke-width="2.7"/>
<circle cx="2788.9" cy="1488.4" r="5.9" fill="#ffc90e" stroke="#333333" stroke-width="2.7"/>
<circle cx="2824.4" cy="1501.1" r="5.9" fill="#ffc90e" stroke="#333333" stroke-width="2.7"/>
<circle cx="2860.0" cy="1501.8" r="5.9" fill="#ffc90e" stroke="#333333" stroke-width="2.7"/>
<circle cx="2895.5" cy="1503.7" r="5.9" fill="#ffc90e" stroke="#333333" stroke-width="2.7"/>
<rect x="311.3" y="1501.8" width="12.0" height="12.0" fill="#c8c8c8" stroke="#333333" stroke-width="2.7"/>
<rect x="346.8" y="1500.6" width="12.0" height="12.0" fill="#c8c8c8" stroke="#333333" stroke-width="2.7"/>
<rect x="382.3" y="1500.7" width="12.0" height="12.0" fill="#c8c8c8" stroke="#333333" stroke-width="2.7"/>
<rect x="417.8" y="1503.3" width="12.0" height="12.0" fill="#c8c8c8" stroke="#333333" stroke-width="2.7"/>
<rect x="453.3" y="1502.8" width="12.0" height="12.0" fill="#c8c8c8" stroke="#333333" stroke-width="2.7"/>
<rect x="488.9" y="1498.4" width="12.0" height="12.0" fill="#c8c8c8" stroke="#333333" stroke-width="2.7"/>
<rect x="524.4" y="1504.7" width="12.0" height="12.0" fill="#c8c8c8" stroke="#333333" stroke-width="2.7"/>
<rect x="559.9" y="1502.6" width="12.0" height="12.0" fill="#c8c8c8" stroke="#333333" stroke-width="2.7"/>
<rect x="595.4" y="1503.9" width="12.0" height="12.0" fill="#c8c8c8" stroke="#333333" stroke-width="2.7"/>
<rect x="630.9" y="1501.3" width="12.0" height="12.0" fill="#c8c8c8" stroke="#333333" stroke-width="2.7"/>
<rect x="666.4" y="1504.1" width="12.0" height="12.0" fill="#c8c8c8" stroke="#333333" stroke-width="2.7"/>
<rect x="701.9" y="1503.4" width="12.0" height="12.0" fill="#c8c8c8" stroke="#333333" stroke-width="2.7"/>
<rect x="744.5" y="1501.5" width="12.0" height="12.0" fill="#c8c8c8" stroke="#333333" stroke-width="2.7"/>
<rect x="780.1" y="1503.4" width="12.0" height="12.0" fill="#c8c8c8" stroke="#333333" stroke-width="2.7"/>
<rect x="815.6" y="1502.7" width="12.0" height="12.0" fill="#c8c8c8" stroke="#333333" stroke-width="2.7"/>
<rect x="851.1" y="1497.3" width="12.0" height="12.0" fill="#c8c8c8" stroke="#333333" stroke-width="2.7"/>
<rect x="886.6" y="1498.7" width="12.0" height="12.0" fill="#c8c8c8" stroke="#333333" stroke-width="2.7"/>
<rect x="922.1" y="1497.7" width="12.0" height="12.0" fill="#c8c8c8" stroke="#333333" stroke-width="2.7"/>
<rect x="957.6" y="1500.7" width="12.0" height="12.0" fill="#c8c8c8" stroke="#333333" stroke-width="2.7"/>
<rect x="993.1" y="1494.9" width="12.0" height="12.0" fill="#c8c8c8" stroke="#333333" stroke-width="2.7"/>
<rect x="1028.6" y="1493.6" width="12.0" height="12.0" fill="#c8c8c8" stroke="#333333" stroke-width="2.7"/>
<rect x="1064.2" y="1493.2" width="12.0" height="12.0" fill="#c8c8c8" stroke="#333333" stroke-width="2.7"/>
<rect x="1099.7" y="1495.4" width="12.0" height="12.0" fill="#c8c8c8" stroke="#333333" stroke-width="2.7"/>
<rect x="1135.2" y="1254.5" width="12.0" height="12.0" fill="#c8c8c8" stroke="#333333" stroke-width="2.7"/>
<rect x="1170.7" y="1058.5" width="12.0" height="12.0" fill="#c8c8c8" stroke="#333333" stroke-width="2.7"/>
<rect x="1206.2" y="1168.8" width="12.0" height="12.0" fill="#c8c8c8" stroke="#333333" stroke-width="2.7"/>
<rect x="1241.7" y="1372.3" width="12.0" height="12.0" fill="#c8c8c8" stroke="#333333" stroke-width="2.7"/>
<rect x="1277.2" y="1449.4" width="12.0" height="12.0" fill="#c8c8c8" stroke="#333333" stroke-width="2.7"/>
<rect x="1312.7" y="1449.4" width="12.0" height="12.0" fill="#c8c8c8" stroke="#333333" stroke-width="2.7"/>
<rect x="1348.3" y="1472.9" width="12.0" height="12.0" fill="#c8c8c8" stroke="#333333" stroke-width="2.7"/>
<rect x="1383.8" y="1502.4" width="12.0" height="12.0" fill="#c8c8c8" stroke="#333333" stroke-width="2.7"/>
<rect x="1419.3" y="1502.0" width="12.0" height="12.0" fill="#c8c8c8" stroke="#333333" stroke-width="2.7"/>
<rect x="1454.8" y="1512.8" width="12.0" height="12.0" fill="#c8c8c8" stroke="#333333" stroke-width="2.7"/>
<rect x="1490.3" y="1513.3" width="12.0" height="12.0" fill="#c8c8c8" stroke="#333333" stroke-width="2.7"/>
<rect x="1525.8" y="1484.1" width="12.0" height="12.0" fill="#c8c8c8" stroke="#333333" stroke-width="2.7"/>
<rect x="1561.3" y="1508.3" width="12.0" height="12.0" fill="#c8c8c8" stroke="#333333" stroke-width="2.7"/>
<rect x="1596.8" y="1510.3" width="12.0" height="12.0" fill="#c8c8c8" stroke="#333333" stroke-width="2.7"/>
<rect x="1632.3" y="1495.6" width="12.0" height="12.0" fill="#c8c8c8" stroke="#333333" stroke-width="2.7"/>
<rect x="1667.9" y="1348.7" width="12.0" height="12.0" fill="#c8c8c8" stroke="#333333" stroke-width="2.7"/>
<rect x="1703.4" y="1499.9" width="12.0" height="12.0" fill="#c8c8c8" stroke="#333333" stroke-width="2.7"/>
<rect x="1738.9" y="1497.4" width="12.0" height="12.0" fill="#c8c8c8" stroke="#333333" stroke-width="2.7"/>
<rect x="1774.4" y="977.2" width="12.0" height="12.0" fill="#c8c8c8" stroke="#333333" stroke-width="2.7"/>
<rect x="1809.9" y="1488.6" width="12.0" height="12.0" fill="#c8c8c8" stroke="#333333" stroke-width="2.7"/>
<rect x="1845.4" y="1496.9" width="12.0" height="12.0" fill="#c8c8c8" stroke="#333333" stroke-width="2.7"/>
<rect x="1880.9" y="1504.0" width="12.0" height="12.0" fill="#c8c8c8" stroke="#333333" stroke-width="2.7"/>
<rect x="1916.4" y="1510.3" width="12.0" height="12.0" fill="#c8c8c8" stroke="#333333" stroke-width="2.7"/>
<rect x="1952.0" y="1495.5" width="12.0" height="12.0" fill="#c8c8c8" stroke="#333333" stroke-width="2.7"/>
<rect x="1987.5" y="1508.4" width="12.0" height="12.0" fill="#c8c8c8" stroke="#333333" stroke-width="2.7"/>
<rect x="2023.0" y="1510.7" width="12.0" height="12.0" fill="#c8c8c8" stroke="#333333" stroke-width="2.7"/>
<rect x="2058.5" y="1506.4" width="12.0" height="12.0" fill="#c8c8c8" stroke="#333333" stroke-width="2.7"/>
<rect x="2094.0" y="1506.6" width="12.0" height="12.0" fill="#c8c8c8" stroke="#333333" stroke-width="2.7"/>
<rect x="2129.5" y="1510.0" width="12.0" height="12.0" fill="#c8c8c8" stroke="#333333" stroke-width="2.7"/>
<rect x="2165.0" y="1509.3" width="12.0" height="12.0" fill="#c8c8c8" stroke="#333333" stroke-width="2.7"/>
<rect x="2200.5" y="1507.2" width="12.0" height="12.0" fill="#c8c8c8" stroke="#333333" stroke-width="2.7"/>
<rect x="2236.1" y="1505.6" width="12.0" height="12.0" fill="#c8c8c8" stroke="#333333" stroke-width="2.7"/>
<rect x="2271.6" y="1503.5" width="12.0" height="12.0" fill="#c8c8c8" stroke="#333333" stroke-width="2.7"/>
<rect x="2307.1" y="1494.9" width="12.0" height="12.0" fill="#c8c8c8" stroke="#333333" stroke-width="2.7"/>
<rect x="2342.6" y="1505.4" width="12.0" height="12.0" fill="#c8c8c8" stroke="#333333" stroke-width="2.7"/>
<rect x="2378.1" y="1501.0" width="12.0" height="12.0" fill="#c8c8c8" stroke="#333333" stroke-width="2.7"/>
<rect x="2413.6" y="1500.4" width="12.0" height="12.0" fill="#c8c8c8" stroke="#333333" stroke-width="2.7"/>
<rect x="2449.1" y="1489.7" width="12.0" height="12.0" fill="#c8c8c8" stroke="#333333" stroke-width="2.7"/>
<rect x="2484.6" y="1498.8" width="12.0" height="12.0" fill="#c8c8c8" stroke="#333333" stroke-width="2.7"/>
<rect x="2520.1" y="1489.9" width="12.0" height="12.0" fill="#c8c8c8" stroke="#333333" stroke-width="2.7"/>
<rect x="2555.7" y="1488.2" width="12.0" height="12.0" fill="#c8c8c8" stroke="#333333" stroke-width="2.7"/>
<rect x="2591.2" y="1455.4" width="12.0" height="12.0" fill="#c8c8c8" stroke="#333333" stroke-width="2.7"/>
<rect x="2626.7" y="1385.1" width="12.0" height="12.0" fill="#c8c8c8" stroke="#333333" stroke-width="2.7"/>
<rect x="2662.2" y="1338.0" width="12.0" height="12.0" fill="#c8c8c8" stroke="#333333" stroke-width="2.7"/>
<rect x="2697.7" y="1445.1" width="12.0" height="12.0" fill="#c8c8c8" stroke="#333333" stroke-width="2.7"/>
<rect x="2733.2" y="1476.5" width="12.0" height="12.0" fill="#c8c8c8" stroke="#333333" stroke-width="2.7"/>
<rect x="2768.7" y="1465.4" width="12.0" height="12.0" fill="#c8c8c8" stroke="#333333" stroke-width="2.7"/>
<rect x="2804.2" y="1462.2" width="12.0" height="12.0" fill="#c8c8c8" stroke="#333333" stroke-width="2.7"/>
<rect x="2839.8" y="1487.9" width="12.0" height="12.0" fill="#c8c8c8" stroke="#333333" stroke-width="2.7"/>
<rect x="2875.3" y="1493.2" width="12.0" height="12.0" fill="#c8c8c8" stroke="#333333" stroke-width="2.7"/>
<path d="M338.6,1516.7 L340.7,1521.3 L345.6,1521.9 L341.9,1525.2 L343.0,1530.1 L338.6,1527.6 L334.3,1530.1 L335.3,1525.2 L331.6,1521.9 L336.6,1521.3Z" fill="#8fa0b5" stroke="#333333" stroke-width="2.8" stroke-linejoin="round"/>
<path d="M374.1,1519.5 L376.2,1524.1 L381.2,1524.7 L377.4,1528.0 L378.5,1532.9 L374.1,1530.4 L369.8,1532.9 L370.8,1528.0 L367.1,1524.7 L372.1,1524.1Z" fill="#8fa0b5" stroke="#333333" stroke-width="2.8" stroke-linejoin="round"/>
<path d="M409.6,1515.5 L411.7,1520.1 L416.7,1520.6 L412.9,1523.9 L414.0,1528.9 L409.6,1526.3 L405.3,1528.9 L406.3,1523.9 L402.6,1520.6 L407.6,1520.1Z" fill="#8fa0b5" stroke="#333333" stroke-width="2.8" stroke-linejoin="round"/>
<path d="M445.1,1521.7 L447.2,1526.3 L452.2,1526.8 L448.5,1530.1 L449.5,1535.1 L445.1,1532.5 L440.8,1535.1 L441.8,1530.1 L438.1,1526.8 L443.1,1526.3Z" fill="#8fa0b5" stroke="#333333" stroke-width="2.8" stroke-linejoin="round"/>
<path d="M480.7,1517.2 L482.7,1521.8 L487.7,1522.3 L484.0,1525.7 L485.0,1530.6 L480.7,1528.1 L476.3,1530.6 L477.3,1525.7 L473.6,1522.3 L478.6,1521.8Z" fill="#8fa0b5" stroke="#333333" stroke-width="2.8" stroke-linejoin="round"/>
<path d="M516.2,1519.4 L518.2,1523.9 L523.2,1524.5 L519.5,1527.8 L520.5,1532.7 L516.2,1530.2 L511.8,1532.7 L512.9,1527.8 L509.1,1524.5 L514.1,1523.9Z" fill="#8fa0b5" stroke="#333333" stroke-width="2.8" stroke-linejoin="round"/>
<path d="M551.7,1516.1 L553.7,1520.7 L558.7,1521.2 L555.0,1524.6 L556.0,1529.5 L551.7,1527.0 L547.3,1529.5 L548.4,1524.6 L544.6,1521.2 L549.6,1520.7Z" fill="#8fa0b5" stroke="#333333" stroke-width="2.8" stroke-linejoin="round"/>
<path d="M587.2,1517.1 L589.2,1521.7 L594.2,1522.2 L590.5,1525.5 L591.5,1530.5 L587.2,1527.9 L582.8,1530.5 L583.9,1525.5 L580.2,1522.2 L585.1,1521.7Z" fill="#8fa0b5" stroke="#333333" stroke-width="2.8" stroke-linejoin="round"/>
<path d="M622.7,1520.7 L624.7,1525.3 L629.7,1525.8 L626.0,1529.2 L627.1,1534.1 L622.7,1531.6 L618.4,1534.1 L619.4,1529.2 L615.7,1525.8 L620.7,1525.3Z" fill="#8fa0b5" stroke="#333333" stroke-width="2.8" stroke-linejoin="round"/>
<path d="M658.2,1518.1 L660.3,1522.7 L665.3,1523.2 L661.5,1526.6 L662.6,1531.5 L658.2,1529.0 L653.9,1531.5 L654.9,1526.6 L651.2,1523.2 L656.2,1522.7Z" fill="#8fa0b5" stroke="#333333" stroke-width="2.8" stroke-linejoin="round"/>
<path d="M693.7,1517.1 L695.8,1521.7 L700.8,1522.2 L697.0,1525.6 L698.1,1530.5 L693.7,1528.0 L689.4,1530.5 L690.4,1525.6 L686.7,1522.2 L691.7,1521.7Z" fill="#8fa0b5" stroke="#333333" stroke-width="2.8" stroke-linejoin="round"/>
<path d="M729.2,1519.9 L731.3,1524.5 L736.3,1525.0 L732.5,1528.4 L733.6,1533.3 L729.2,1530.8 L724.9,1533.3 L725.9,1528.4 L722.2,1525.0 L727.2,1524.5Z" fill="#8fa0b5" stroke="#333333" stroke-width="2.8" stroke-linejoin="round"/>
<path d="M771.9,1515.8 L773.9,1520.4 L778.9,1520.9 L775.2,1524.3 L776.2,1529.2 L771.9,1526.7 L767.5,1529.2 L768.5,1524.3 L764.8,1520.9 L769.8,1520.4Z" fill="#8fa0b5" stroke="#333333" stroke-width="2.8" stroke-linejoin="round"/>
<path d="M807.4,1517.0 L809.4,1521.6 L814.4,1522.1 L810.7,1525.5 L811.7,1530.4 L807.4,1527.9 L803.0,1530.4 L804.1,1525.5 L800.3,1522.1 L805.3,1521.6Z" fill="#8fa0b5" stroke="#333333" stroke-width="2.8" stroke-linejoin="round"/>
<path d="M842.9,1511.5 L844.9,1516.1 L849.9,1516.6 L846.2,1520.0 L847.2,1524.9 L842.9,1522.4 L838.5,1524.9 L839.6,1520.0 L835.8,1516.6 L840.8,1516.1Z" fill="#8fa0b5" stroke="#333333" stroke-width="2.8" stroke-linejoin="round"/>
<path d="M878.4,1511.5 L880.4,1516.1 L885.4,1516.7 L881.7,1520.0 L882.7,1524.9 L878.4,1522.4 L874.0,1524.9 L875.1,1520.0 L871.4,1516.7 L876.3,1516.1Z" fill="#8fa0b5" stroke="#333333" stroke-width="2.8" stroke-linejoin="round"/>
<path d="M913.9,1514.7 L915.9,1519.3 L920.9,1519.8 L917.2,1523.2 L918.3,1528.1 L913.9,1525.6 L909.6,1528.1 L910.6,1523.2 L906.9,1519.8 L911.9,1519.3Z" fill="#8fa0b5" stroke="#333333" stroke-width="2.8" stroke-linejoin="round"/>
<path d="M949.4,1509.6 L951.5,1514.2 L956.5,1514.8 L952.7,1518.1 L953.8,1523.0 L949.4,1520.5 L945.1,1523.0 L946.1,1518.1 L942.4,1514.8 L947.4,1514.2Z" fill="#8fa0b5" stroke="#333333" stroke-width="2.8" stroke-linejoin="round"/>
<path d="M984.9,1504.4 L987.0,1509.0 L992.0,1509.6 L988.2,1512.9 L989.3,1517.8 L984.9,1515.3 L980.6,1517.8 L981.6,1512.9 L977.9,1509.6 L982.9,1509.0Z" fill="#8fa0b5" stroke="#333333" stroke-width="2.8" stroke-linejoin="round"/>
<path d="M1020.4,1493.1 L1022.5,1497.6 L1027.5,1498.2 L1023.7,1501.5 L1024.8,1506.4 L1020.4,1503.9 L1016.1,1506.4 L1017.1,1501.5 L1013.4,1498.2 L1018.4,1497.6Z" fill="#8fa0b5" stroke="#333333" stroke-width="2.8" stroke-linejoin="round"/>
<path d="M1055.9,1444.3 L1058.0,1448.8 L1063.0,1449.4 L1059.3,1452.7 L1060.3,1457.6 L1055.9,1455.1 L1051.6,1457.6 L1052.6,1452.7 L1048.9,1449.4 L1053.9,1448.8Z" fill="#8fa0b5" stroke="#333333" stroke-width="2.8" stroke-linejoin="round"/>
<path d="M1091.5,1324.3 L1093.5,1328.9 L1098.5,1329.5 L1094.8,1332.8 L1095.8,1337.7 L1091.5,1335.2 L1087.1,1337.7 L1088.2,1332.8 L1084.4,1329.5 L1089.4,1328.9Z" fill="#8fa0b5" stroke="#333333" stroke-width="2.8" stroke-linejoin="round"/>
<path d="M1127.0,1313.6 L1129.0,1318.2 L1134.0,1318.7 L1130.3,1322.1 L1131.3,1327.0 L1127.0,1324.5 L1122.6,1327.0 L1123.7,1322.1 L1119.9,1318.7 L1124.9,1318.2Z" fill="#8fa0b5" stroke="#333333" stroke-width="2.8" stroke-linejoin="round"/>
<path d="M1162.5,1420.7 L1164.5,1425.3 L1169.5,1425.8 L1165.8,1429.2 L1166.8,1434.1 L1162.5,1431.6 L1158.1,1434.1 L1159.2,1429.2 L1155.4,1425.8 L1160.4,1425.3Z" fill="#8fa0b5" stroke="#333333" stroke-width="2.8" stroke-linejoin="round"/>
<path d="M1198.0,1464.6 L1200.0,1469.2 L1205.0,1469.7 L1201.3,1473.1 L1202.3,1478.0 L1198.0,1475.5 L1193.6,1478.0 L1194.7,1473.1 L1191.0,1469.7 L1196.0,1469.2Z" fill="#8fa0b5" stroke="#333333" stroke-width="2.8" stroke-linejoin="round"/>
<path d="M1233.5,1468.9 L1235.6,1473.5 L1240.5,1474.0 L1236.8,1477.4 L1237.9,1482.3 L1233.5,1479.8 L1229.2,1482.3 L1230.2,1477.4 L1226.5,1474.0 L1231.5,1473.5Z" fill="#8fa0b5" stroke="#333333" stroke-width="2.8" stroke-linejoin="round"/>
<path d="M1269.0,1474.2 L1271.1,1478.8 L1276.1,1479.4 L1272.3,1482.7 L1273.4,1487.6 L1269.0,1485.1 L1264.7,1487.6 L1265.7,1482.7 L1262.0,1479.4 L1267.0,1478.8Z" fill="#8fa0b5" stroke="#333333" stroke-width="2.8" stroke-linejoin="round"/>
<path d="M1304.5,1444.3 L1306.6,1448.8 L1311.6,1449.4 L1307.8,1452.7 L1308.9,1457.6 L1304.5,1455.1 L1300.2,1457.6 L1301.2,1452.7 L1297.5,1449.4 L1302.5,1448.8Z" fill="#8fa0b5" stroke="#333333" stroke-width="2.8" stroke-linejoin="round"/>
<path d="M1340.0,1477.1 L1342.1,1481.7 L1347.1,1482.2 L1343.4,1485.6 L1344.4,1490.5 L1340.0,1488.0 L1335.7,1490.5 L1336.7,1485.6 L1333.0,1482.2 L1338.0,1481.7Z" fill="#8fa0b5" stroke="#333333" stroke-width="2.8" stroke-linejoin="round"/>
<path d="M1375.6,1498.9 L1377.6,1503.5 L1382.6,1504.0 L1378.9,1507.4 L1379.9,1512.3 L1375.6,1509.8 L1371.2,1512.3 L1372.2,1507.4 L1368.5,1504.0 L1373.5,1503.5Z" fill="#8fa0b5" stroke="#333333" stroke-width="2.8" stroke-linejoin="round"/>
<path d="M1411.1,1515.8 L1413.1,1520.4 L1418.1,1520.9 L1414.4,1524.3 L1415.4,1529.2 L1411.1,1526.7 L1406.7,1529.2 L1407.8,1524.3 L1404.0,1520.9 L1409.0,1520.4Z" fill="#8fa0b5" stroke="#333333" stroke-width="2.8" stroke-linejoin="round"/>
<path d="M1446.6,1513.6 L1448.6,1518.2 L1453.6,1518.7 L1449.9,1522.0 L1450.9,1527.0 L1446.6,1524.4 L1442.2,1527.0 L1443.3,1522.0 L1439.5,1518.7 L1444.5,1518.2Z" fill="#8fa0b5" stroke="#333333" stroke-width="2.8" stroke-linejoin="round"/>
<path d="M1482.1,1514.4 L1484.1,1519.0 L1489.1,1519.5 L1485.4,1522.8 L1486.4,1527.8 L1482.1,1525.2 L1477.7,1527.8 L1478.8,1522.8 L1475.1,1519.5 L1480.0,1519.0Z" fill="#8fa0b5" stroke="#333333" stroke-width="2.8" stroke-linejoin="round"/>
<path d="M1517.6,1513.3 L1519.6,1517.9 L1524.6,1518.4 L1520.9,1521.8 L1522.0,1526.7 L1517.6,1524.2 L1513.3,1526.7 L1514.3,1521.8 L1510.6,1518.4 L1515.6,1517.9Z" fill="#8fa0b5" stroke="#333333" stroke-width="2.8" stroke-linejoin="round"/>
<path d="M1553.1,1463.7 L1555.2,1468.3 L1560.2,1468.8 L1556.4,1472.2 L1557.5,1477.1 L1553.1,1474.6 L1548.8,1477.1 L1549.8,1472.2 L1546.1,1468.8 L1551.1,1468.3Z" fill="#8fa0b5" stroke="#333333" stroke-width="2.8" stroke-linejoin="round"/>
<path d="M1588.6,1449.2 L1590.7,1453.8 L1595.7,1454.3 L1591.9,1457.7 L1593.0,1462.6 L1588.6,1460.1 L1584.3,1462.6 L1585.3,1457.7 L1581.6,1454.3 L1586.6,1453.8Z" fill="#8fa0b5" stroke="#333333" stroke-width="2.8" stroke-linejoin="round"/>
<path d="M1624.1,1504.6 L1626.2,1509.2 L1631.2,1509.7 L1627.4,1513.1 L1628.5,1518.0 L1624.1,1515.5 L1619.8,1518.0 L1620.8,1513.1 L1617.1,1509.7 L1622.1,1509.2Z" fill="#8fa0b5" stroke="#333333" stroke-width="2.8" stroke-linejoin="round"/>
<path d="M1659.7,1509.6 L1661.7,1514.2 L1666.7,1514.7 L1663.0,1518.1 L1664.0,1523.0 L1659.7,1520.5 L1655.3,1523.0 L1656.3,1518.1 L1652.6,1514.7 L1657.6,1514.2Z" fill="#8fa0b5" stroke="#333333" stroke-width="2.8" stroke-linejoin="round"/>
<path d="M1695.2,1501.3 L1697.2,1505.9 L1702.2,1506.4 L1698.5,1509.8 L1699.5,1514.7 L1695.2,1512.2 L1690.8,1514.7 L1691.9,1509.8 L1688.1,1506.4 L1693.1,1505.9Z" fill="#8fa0b5" stroke="#333333" stroke-width="2.8" stroke-linejoin="round"/>
<path d="M1730.7,1507.2 L1732.7,1511.8 L1737.7,1512.4 L1734.0,1515.7 L1735.0,1520.6 L1730.7,1518.1 L1726.3,1520.6 L1727.4,1515.7 L1723.6,1512.4 L1728.6,1511.8Z" fill="#8fa0b5" stroke="#333333" stroke-width="2.8" stroke-linejoin="round"/>
<path d="M1766.2,1487.8 L1768.2,1492.4 L1773.2,1492.9 L1769.5,1496.3 L1770.5,1501.2 L1766.2,1498.7 L1761.8,1501.2 L1762.9,1496.3 L1759.2,1492.9 L1764.1,1492.4Z" fill="#8fa0b5" stroke="#333333" stroke-width="2.8" stroke-linejoin="round"/>
<path d="M1801.7,1505.2 L1803.7,1509.8 L1808.7,1510.3 L1805.0,1513.7 L1806.1,1518.6 L1801.7,1516.1 L1797.4,1518.6 L1798.4,1513.7 L1794.7,1510.3 L1799.7,1509.8Z" fill="#8fa0b5" stroke="#333333" stroke-width="2.8" stroke-linejoin="round"/>
<path d="M1837.2,1500.6 L1839.3,1505.2 L1844.3,1505.7 L1840.5,1509.1 L1841.6,1514.0 L1837.2,1511.5 L1832.9,1514.0 L1833.9,1509.1 L1830.2,1505.7 L1835.2,1505.2Z" fill="#8fa0b5" stroke="#333333" stroke-width="2.8" stroke-linejoin="round"/>
<path d="M1872.7,1509.3 L1874.8,1513.9 L1879.8,1514.4 L1876.0,1517.8 L1877.1,1522.7 L1872.7,1520.2 L1868.4,1522.7 L1869.4,1517.8 L1865.7,1514.4 L1870.7,1513.9Z" fill="#8fa0b5" stroke="#333333" stroke-width="2.8" stroke-linejoin="round"/>
<path d="M1908.2,1503.4 L1910.3,1508.0 L1915.3,1508.5 L1911.5,1511.8 L1912.6,1516.8 L1908.2,1514.2 L1903.9,1516.8 L1904.9,1511.8 L1901.2,1508.5 L1906.2,1508.0Z" fill="#8fa0b5" stroke="#333333" stroke-width="2.8" stroke-linejoin="round"/>
<path d="M1943.7,1502.0 L1945.8,1506.6 L1950.8,1507.1 L1947.1,1510.5 L1948.1,1515.4 L1943.7,1512.9 L1939.4,1515.4 L1940.4,1510.5 L1936.7,1507.1 L1941.7,1506.6Z" fill="#8fa0b5" stroke="#333333" stroke-width="2.8" stroke-linejoin="round"/>
<path d="M1979.3,1490.6 L1981.3,1495.1 L1986.3,1495.7 L1982.6,1499.0 L1983.6,1503.9 L1979.3,1501.4 L1974.9,1503.9 L1976.0,1499.0 L1972.2,1495.7 L1977.2,1495.1Z" fill="#8fa0b5" stroke="#333333" stroke-width="2.8" stroke-linejoin="round"/>
<path d="M2014.8,1502.7 L2016.8,1507.3 L2021.8,1507.8 L2018.1,1511.2 L2019.1,1516.1 L2014.8,1513.6 L2010.4,1516.1 L2011.5,1511.2 L2007.7,1507.8 L2012.7,1507.3Z" fill="#8fa0b5" stroke="#333333" stroke-width="2.8" stroke-linejoin="round"/>
<path d="M2050.3,1503.9 L2052.3,1508.5 L2057.3,1509.0 L2053.6,1512.4 L2054.6,1517.3 L2050.3,1514.8 L2045.9,1517.3 L2047.0,1512.4 L2043.2,1509.0 L2048.2,1508.5Z" fill="#8fa0b5" stroke="#333333" stroke-width="2.8" stroke-linejoin="round"/>
<path d="M2085.8,1439.1 L2087.8,1443.6 L2092.8,1444.2 L2089.1,1447.5 L2090.1,1452.4 L2085.8,1449.9 L2081.4,1452.4 L2082.5,1447.5 L2078.8,1444.2 L2083.8,1443.6Z" fill="#8fa0b5" stroke="#333333" stroke-width="2.8" stroke-linejoin="round"/>
<path d="M2121.3,1431.4 L2123.4,1436.0 L2128.3,1436.5 L2124.6,1439.9 L2125.7,1444.8 L2121.3,1442.3 L2117.0,1444.8 L2118.0,1439.9 L2114.3,1436.5 L2119.3,1436.0Z" fill="#8fa0b5" stroke="#333333" stroke-width="2.8" stroke-linejoin="round"/>
<path d="M2156.8,1364.0 L2158.9,1368.5 L2163.9,1369.1 L2160.1,1372.4 L2161.2,1377.3 L2156.8,1374.8 L2152.5,1377.3 L2153.5,1372.4 L2149.8,1369.1 L2154.8,1368.5Z" fill="#8fa0b5" stroke="#333333" stroke-width="2.8" stroke-linejoin="round"/>
<path d="M2192.3,1471.9 L2194.4,1476.4 L2199.4,1477.0 L2195.6,1480.3 L2196.7,1485.2 L2192.3,1482.7 L2188.0,1485.2 L2189.0,1480.3 L2185.3,1477.0 L2190.3,1476.4Z" fill="#8fa0b5" stroke="#333333" stroke-width="2.8" stroke-linejoin="round"/>
<path d="M2227.8,1484.2 L2229.9,1488.8 L2234.9,1489.4 L2231.2,1492.7 L2232.2,1497.6 L2227.8,1495.1 L2223.5,1497.6 L2224.5,1492.7 L2220.8,1489.4 L2225.8,1488.8Z" fill="#8fa0b5" stroke="#333333" stroke-width="2.8" stroke-linejoin="round"/>
<path d="M2263.4,1483.0 L2265.4,1487.6 L2270.4,1488.1 L2266.7,1491.5 L2267.7,1496.4 L2263.4,1493.9 L2259.0,1496.4 L2260.0,1491.5 L2256.3,1488.1 L2261.3,1487.6Z" fill="#8fa0b5" stroke="#333333" stroke-width="2.8" stroke-linejoin="round"/>
<path d="M2298.9,1484.1 L2300.9,1488.6 L2305.9,1489.2 L2302.2,1492.5 L2303.2,1497.4 L2298.9,1494.9 L2294.5,1497.4 L2295.6,1492.5 L2291.8,1489.2 L2296.8,1488.6Z" fill="#8fa0b5" stroke="#333333" stroke-width="2.8" stroke-linejoin="round"/>
<path d="M2334.4,1493.6 L2336.4,1498.2 L2341.4,1498.7 L2337.7,1502.0 L2338.7,1507.0 L2334.4,1504.4 L2330.0,1507.0 L2331.1,1502.0 L2327.3,1498.7 L2332.3,1498.2Z" fill="#8fa0b5" stroke="#333333" stroke-width="2.8" stroke-linejoin="round"/>
<path d="M2369.9,1493.4 L2371.9,1497.9 L2376.9,1498.5 L2373.2,1501.8 L2374.2,1506.7 L2369.9,1504.2 L2365.5,1506.7 L2366.6,1501.8 L2362.9,1498.5 L2367.8,1497.9Z" fill="#8fa0b5" stroke="#333333" stroke-width="2.8" stroke-linejoin="round"/>
<path d="M2405.4,1473.9 L2407.4,1478.5 L2412.4,1479.0 L2408.7,1482.3 L2409.8,1487.3 L2405.4,1484.7 L2401.1,1487.3 L2402.1,1482.3 L2398.4,1479.0 L2403.4,1478.5Z" fill="#8fa0b5" stroke="#333333" stroke-width="2.8" stroke-linejoin="round"/>
<path d="M2440.9,1492.3 L2443.0,1496.9 L2448.0,1497.4 L2444.2,1500.8 L2445.3,1505.7 L2440.9,1503.2 L2436.6,1505.7 L2437.6,1500.8 L2433.9,1497.4 L2438.9,1496.9Z" fill="#8fa0b5" stroke="#333333" stroke-width="2.8" stroke-linejoin="round"/>
<path d="M2476.4,1493.3 L2478.5,1497.9 L2483.5,1498.4 L2479.7,1501.8 L2480.8,1506.7 L2476.4,1504.2 L2472.1,1506.7 L2473.1,1501.8 L2469.4,1498.4 L2474.4,1497.9Z" fill="#8fa0b5" stroke="#333333" stroke-width="2.8" stroke-linejoin="round"/>
<path d="M2511.9,1495.9 L2514.0,1500.5 L2519.0,1501.1 L2515.2,1504.4 L2516.3,1509.3 L2511.9,1506.8 L2507.6,1509.3 L2508.6,1504.4 L2504.9,1501.1 L2509.9,1500.5Z" fill="#8fa0b5" stroke="#333333" stroke-width="2.8" stroke-linejoin="round"/>
<path d="M2547.5,1498.1 L2549.5,1502.7 L2554.5,1503.2 L2550.8,1506.6 L2551.8,1511.5 L2547.5,1509.0 L2543.1,1511.5 L2544.1,1506.6 L2540.4,1503.2 L2545.4,1502.7Z" fill="#8fa0b5" stroke="#333333" stroke-width="2.8" stroke-linejoin="round"/>
<path d="M2583.0,1504.6 L2585.0,1509.2 L2590.0,1509.7 L2586.3,1513.1 L2587.3,1518.0 L2583.0,1515.5 L2578.6,1518.0 L2579.7,1513.1 L2575.9,1509.7 L2580.9,1509.2Z" fill="#8fa0b5" stroke="#333333" stroke-width="2.8" stroke-linejoin="round"/>
<path d="M2618.5,1491.2 L2620.5,1495.8 L2625.5,1496.3 L2621.8,1499.7 L2622.8,1504.6 L2618.5,1502.1 L2614.1,1504.6 L2615.2,1499.7 L2611.4,1496.3 L2616.4,1495.8Z" fill="#8fa0b5" stroke="#333333" stroke-width="2.8" stroke-linejoin="round"/>
<path d="M2654.0,1496.6 L2656.0,1501.2 L2661.0,1501.7 L2657.3,1505.1 L2658.3,1510.0 L2654.0,1507.5 L2649.6,1510.0 L2650.7,1505.1 L2647.0,1501.7 L2651.9,1501.2Z" fill="#8fa0b5" stroke="#333333" stroke-width="2.8" stroke-linejoin="round"/>
<path d="M2689.5,1490.5 L2691.5,1495.1 L2696.5,1495.6 L2692.8,1499.0 L2693.9,1503.9 L2689.5,1501.4 L2685.2,1503.9 L2686.2,1499.0 L2682.5,1495.6 L2687.5,1495.1Z" fill="#8fa0b5" stroke="#333333" stroke-width="2.8" stroke-linejoin="round"/>
<path d="M2725.0,1475.3 L2727.1,1479.9 L2732.1,1480.4 L2728.3,1483.8 L2729.4,1488.7 L2725.0,1486.2 L2720.7,1488.7 L2721.7,1483.8 L2718.0,1480.4 L2723.0,1479.9Z" fill="#8fa0b5" stroke="#333333" stroke-width="2.8" stroke-linejoin="round"/>
<path d="M2760.5,1488.8 L2762.6,1493.4 L2767.6,1494.0 L2763.8,1497.3 L2764.9,1502.2 L2760.5,1499.7 L2756.2,1502.2 L2757.2,1497.3 L2753.5,1494.0 L2758.5,1493.4Z" fill="#8fa0b5" stroke="#333333" stroke-width="2.8" stroke-linejoin="round"/>
<path d="M2796.0,1420.7 L2798.1,1425.3 L2803.1,1425.8 L2799.3,1429.2 L2800.4,1434.1 L2796.0,1431.6 L2791.7,1434.1 L2792.7,1429.2 L2789.0,1425.8 L2794.0,1425.3Z" fill="#8fa0b5" stroke="#333333" stroke-width="2.8" stroke-linejoin="round"/>
<path d="M2831.5,1468.9 L2833.6,1473.5 L2838.6,1474.0 L2834.9,1477.4 L2835.9,1482.3 L2831.5,1479.8 L2827.2,1482.3 L2828.2,1477.4 L2824.5,1474.0 L2829.5,1473.5Z" fill="#8fa0b5" stroke="#333333" stroke-width="2.8" stroke-linejoin="round"/>
<path d="M2867.1,1485.7 L2869.1,1490.3 L2874.1,1490.8 L2870.4,1494.2 L2871.4,1499.1 L2867.1,1496.6 L2862.7,1499.1 L2863.8,1494.2 L2860.0,1490.8 L2865.0,1490.3Z" fill="#8fa0b5" stroke="#333333" stroke-width="2.8" stroke-linejoin="round"/>
<path d="M2902.6,1489.2 L2904.6,1493.8 L2909.6,1494.3 L2905.9,1497.7 L2906.9,1502.6 L2902.6,1500.1 L2898.2,1502.6 L2899.3,1497.7 L2895.5,1494.3 L2900.5,1493.8Z" fill="#8fa0b5" stroke="#333333" stroke-width="2.8" stroke-linejoin="round"/>
<path d="M324.4,1493.2 L330.4,1499.2 L324.4,1505.2 L318.4,1499.2Z" fill="#36a32c" stroke="#333333" stroke-width="2.9" stroke-linejoin="miter" stroke-miterlimit="1.5"/>
<path d="M359.9,1498.6 L365.9,1504.6 L359.9,1510.6 L353.9,1504.6Z" fill="#36a32c" stroke="#333333" stroke-width="2.9" stroke-linejoin="miter" stroke-miterlimit="1.5"/>
<path d="M395.4,1496.1 L401.4,1502.1 L395.4,1508.1 L389.4,1502.1Z" fill="#36a32c" stroke="#333333" stroke-width="2.9" stroke-linejoin="miter" stroke-miterlimit="1.5"/>
<path d="M430.9,1498.9 L436.9,1504.9 L430.9,1510.9 L424.9,1504.9Z" fill="#36a32c" stroke="#333333" stroke-width="2.9" stroke-linejoin="miter" stroke-miterlimit="1.5"/>
<path d="M466.5,1498.3 L472.5,1504.3 L466.5,1510.3 L460.5,1504.3Z" fill="#36a32c" stroke="#333333" stroke-width="2.9" stroke-linejoin="miter" stroke-miterlimit="1.5"/>
<path d="M502.0,1505.9 L508.0,1511.9 L502.0,1517.9 L496.0,1511.9Z" fill="#36a32c" stroke="#333333" stroke-width="2.9" stroke-linejoin="miter" stroke-miterlimit="1.5"/>
<path d="M537.5,1502.9 L543.5,1508.9 L537.5,1514.9 L531.5,1508.9Z" fill="#36a32c" stroke="#333333" stroke-width="2.9" stroke-linejoin="miter" stroke-miterlimit="1.5"/>
<path d="M573.0,1504.5 L579.0,1510.5 L573.0,1516.5 L567.0,1510.5Z" fill="#36a32c" stroke="#333333" stroke-width="2.9" stroke-linejoin="miter" stroke-miterlimit="1.5"/>
<path d="M608.5,1500.6 L614.5,1506.6 L608.5,1512.6 L602.5,1506.6Z" fill="#36a32c" stroke="#333333" stroke-width="2.9" stroke-linejoin="miter" stroke-miterlimit="1.5"/>
<path d="M644.0,1503.8 L650.0,1509.8 L644.0,1515.8 L638.0,1509.8Z" fill="#36a32c" stroke="#333333" stroke-width="2.9" stroke-linejoin="miter" stroke-miterlimit="1.5"/>
<path d="M679.5,1505.5 L685.5,1511.5 L679.5,1517.5 L673.5,1511.5Z" fill="#36a32c" stroke="#333333" stroke-width="2.9" stroke-linejoin="miter" stroke-miterlimit="1.5"/>
<path d="M715.0,1504.7 L721.0,1510.7 L715.0,1516.7 L709.0,1510.7Z" fill="#36a32c" stroke="#333333" stroke-width="2.9" stroke-linejoin="miter" stroke-miterlimit="1.5"/>
<path d="M757.6,1507.5 L763.6,1513.5 L757.6,1519.5 L751.6,1513.5Z" fill="#36a32c" stroke="#333333" stroke-width="2.9" stroke-linejoin="miter" stroke-miterlimit="1.5"/>
<path d="M793.2,1505.8 L799.2,1511.8 L793.2,1517.8 L787.2,1511.8Z" fill="#36a32c" stroke="#333333" stroke-width="2.9" stroke-linejoin="miter" stroke-miterlimit="1.5"/>
<path d="M828.7,1506.5 L834.7,1512.5 L828.7,1518.5 L822.7,1512.5Z" fill="#36a32c" stroke="#333333" stroke-width="2.9" stroke-linejoin="miter" stroke-miterlimit="1.5"/>
<path d="M864.2,1511.4 L870.2,1517.4 L864.2,1523.4 L858.2,1517.4Z" fill="#36a32c" stroke="#333333" stroke-width="2.9" stroke-linejoin="miter" stroke-miterlimit="1.5"/>
<path d="M899.7,1510.4 L905.7,1516.4 L899.7,1522.4 L893.7,1516.4Z" fill="#36a32c" stroke="#333333" stroke-width="2.9" stroke-linejoin="miter" stroke-miterlimit="1.5"/>
<path d="M935.2,1510.0 L941.2,1516.0 L935.2,1522.0 L929.2,1516.0Z" fill="#36a32c" stroke="#333333" stroke-width="2.9" stroke-linejoin="miter" stroke-miterlimit="1.5"/>
<path d="M970.7,1515.5 L976.7,1521.5 L970.7,1527.5 L964.7,1521.5Z" fill="#36a32c" stroke="#333333" stroke-width="2.9" stroke-linejoin="miter" stroke-miterlimit="1.5"/>
<path d="M1006.2,1514.0 L1012.2,1520.0 L1006.2,1526.0 L1000.2,1520.0Z" fill="#36a32c" stroke="#333333" stroke-width="2.9" stroke-linejoin="miter" stroke-miterlimit="1.5"/>
<path d="M1041.7,1516.8 L1047.7,1522.8 L1041.7,1528.8 L1035.7,1522.8Z" fill="#36a32c" stroke="#333333" stroke-width="2.9" stroke-linejoin="miter" stroke-miterlimit="1.5"/>
<path d="M1077.3,1500.7 L1083.3,1506.7 L1077.3,1512.7 L1071.3,1506.7Z" fill="#36a32c" stroke="#333333" stroke-width="2.9" stroke-linejoin="miter" stroke-miterlimit="1.5"/>
<path d="M1112.8,1377.6 L1118.8,1383.6 L1112.8,1389.6 L1106.8,1383.6Z" fill="#36a32c" stroke="#333333" stroke-width="2.9" stroke-linejoin="miter" stroke-miterlimit="1.5"/>
<path d="M1148.3,1332.6 L1154.3,1338.6 L1148.3,1344.6 L1142.3,1338.6Z" fill="#36a32c" stroke="#333333" stroke-width="2.9" stroke-linejoin="miter" stroke-miterlimit="1.5"/>
<path d="M1183.8,1319.8 L1189.8,1325.8 L1183.8,1331.8 L1177.8,1325.8Z" fill="#36a32c" stroke="#333333" stroke-width="2.9" stroke-linejoin="miter" stroke-miterlimit="1.5"/>
<path d="M1219.3,1163.5 L1225.3,1169.5 L1219.3,1175.5 L1213.3,1169.5Z" fill="#36a32c" stroke="#333333" stroke-width="2.9" stroke-linejoin="miter" stroke-miterlimit="1.5"/>
<path d="M1254.8,1224.5 L1260.8,1230.5 L1254.8,1236.5 L1248.8,1230.5Z" fill="#36a32c" stroke="#333333" stroke-width="2.9" stroke-linejoin="miter" stroke-miterlimit="1.5"/>
<path d="M1290.3,1391.5 L1296.3,1397.5 L1290.3,1403.5 L1284.3,1397.5Z" fill="#36a32c" stroke="#333333" stroke-width="2.9" stroke-linejoin="miter" stroke-miterlimit="1.5"/>
<path d="M1325.8,1459.0 L1331.8,1465.0 L1325.8,1471.0 L1319.8,1465.0Z" fill="#36a32c" stroke="#333333" stroke-width="2.9" stroke-linejoin="miter" stroke-miterlimit="1.5"/>
<path d="M1361.4,1492.2 L1367.4,1498.2 L1361.4,1504.2 L1355.4,1498.2Z" fill="#36a32c" stroke="#333333" stroke-width="2.9" stroke-linejoin="miter" stroke-miterlimit="1.5"/>
<path d="M1396.9,1516.3 L1402.9,1522.3 L1396.9,1528.3 L1390.9,1522.3Z" fill="#36a32c" stroke="#333333" stroke-width="2.9" stroke-linejoin="miter" stroke-miterlimit="1.5"/>
<path d="M1432.4,1479.3 L1438.4,1485.3 L1432.4,1491.3 L1426.4,1485.3Z" fill="#36a32c" stroke="#333333" stroke-width="2.9" stroke-linejoin="miter" stroke-miterlimit="1.5"/>
<path d="M1467.9,1514.2 L1473.9,1520.2 L1467.9,1526.2 L1461.9,1520.2Z" fill="#36a32c" stroke="#333333" stroke-width="2.9" stroke-linejoin="miter" stroke-miterlimit="1.5"/>
<path d="M1503.4,1476.5 L1509.4,1482.5 L1503.4,1488.5 L1497.4,1482.5Z" fill="#36a32c" stroke="#333333" stroke-width="2.9" stroke-linejoin="miter" stroke-miterlimit="1.5"/>
<path d="M1538.9,1512.9 L1544.9,1518.9 L1538.9,1524.9 L1532.9,1518.9Z" fill="#36a32c" stroke="#333333" stroke-width="2.9" stroke-linejoin="miter" stroke-miterlimit="1.5"/>
<path d="M1574.4,1509.7 L1580.4,1515.7 L1574.4,1521.7 L1568.4,1515.7Z" fill="#36a32c" stroke="#333333" stroke-width="2.9" stroke-linejoin="miter" stroke-miterlimit="1.5"/>
<path d="M1609.9,1508.0 L1615.9,1514.0 L1609.9,1520.0 L1603.9,1514.0Z" fill="#36a32c" stroke="#333333" stroke-width="2.9" stroke-linejoin="miter" stroke-miterlimit="1.5"/>
<path d="M1645.4,1464.7 L1651.4,1470.7 L1645.4,1476.7 L1639.4,1470.7Z" fill="#36a32c" stroke="#333333" stroke-width="2.9" stroke-linejoin="miter" stroke-miterlimit="1.5"/>
<path d="M1681.0,1506.3 L1687.0,1512.3 L1681.0,1518.3 L1675.0,1512.3Z" fill="#36a32c" stroke="#333333" stroke-width="2.9" stroke-linejoin="miter" stroke-miterlimit="1.5"/>
<path d="M1716.5,1509.4 L1722.5,1515.4 L1716.5,1521.4 L1710.5,1515.4Z" fill="#36a32c" stroke="#333333" stroke-width="2.9" stroke-linejoin="miter" stroke-miterlimit="1.5"/>
<path d="M1752.0,1510.5 L1758.0,1516.5 L1752.0,1522.5 L1746.0,1516.5Z" fill="#36a32c" stroke="#333333" stroke-width="2.9" stroke-linejoin="miter" stroke-miterlimit="1.5"/>
<path d="M1787.5,1513.8 L1793.5,1519.8 L1787.5,1525.8 L1781.5,1519.8Z" fill="#36a32c" stroke="#333333" stroke-width="2.9" stroke-linejoin="miter" stroke-miterlimit="1.5"/>
<path d="M1823.0,1495.9 L1829.0,1501.9 L1823.0,1507.9 L1817.0,1501.9Z" fill="#36a32c" stroke="#333333" stroke-width="2.9" stroke-linejoin="miter" stroke-miterlimit="1.5"/>
<path d="M1858.5,1507.7 L1864.5,1513.7 L1858.5,1519.7 L1852.5,1513.7Z" fill="#36a32c" stroke="#333333" stroke-width="2.9" stroke-linejoin="miter" stroke-miterlimit="1.5"/>
<path d="M1894.0,1512.9 L1900.0,1518.9 L1894.0,1524.9 L1888.0,1518.9Z" fill="#36a32c" stroke="#333333" stroke-width="2.9" stroke-linejoin="miter" stroke-miterlimit="1.5"/>
<path d="M1929.5,1511.9 L1935.5,1517.9 L1929.5,1523.9 L1923.5,1517.9Z" fill="#36a32c" stroke="#333333" stroke-width="2.9" stroke-linejoin="miter" stroke-miterlimit="1.5"/>
<path d="M1965.1,1507.5 L1971.1,1513.5 L1965.1,1519.5 L1959.1,1513.5Z" fill="#36a32c" stroke="#333333" stroke-width="2.9" stroke-linejoin="miter" stroke-miterlimit="1.5"/>
<path d="M2000.6,1511.0 L2006.6,1517.0 L2000.6,1523.0 L1994.6,1517.0Z" fill="#36a32c" stroke="#333333" stroke-width="2.9" stroke-linejoin="miter" stroke-miterlimit="1.5"/>
<path d="M2036.1,1504.9 L2042.1,1510.9 L2036.1,1516.9 L2030.1,1510.9Z" fill="#36a32c" stroke="#333333" stroke-width="2.9" stroke-linejoin="miter" stroke-miterlimit="1.5"/>
<path d="M2071.6,1489.3 L2077.6,1495.3 L2071.6,1501.3 L2065.6,1495.3Z" fill="#36a32c" stroke="#333333" stroke-width="2.9" stroke-linejoin="miter" stroke-miterlimit="1.5"/>
<path d="M2107.1,1499.6 L2113.1,1505.6 L2107.1,1511.6 L2101.1,1505.6Z" fill="#36a32c" stroke="#333333" stroke-width="2.9" stroke-linejoin="miter" stroke-miterlimit="1.5"/>
<path d="M2142.6,1496.1 L2148.6,1502.1 L2142.6,1508.1 L2136.6,1502.1Z" fill="#36a32c" stroke="#333333" stroke-width="2.9" stroke-linejoin="miter" stroke-miterlimit="1.5"/>
<path d="M2178.1,1495.1 L2184.1,1501.1 L2178.1,1507.1 L2172.1,1501.1Z" fill="#36a32c" stroke="#333333" stroke-width="2.9" stroke-linejoin="miter" stroke-miterlimit="1.5"/>
<path d="M2213.6,1484.4 L2219.6,1490.4 L2213.6,1496.4 L2207.6,1490.4Z" fill="#36a32c" stroke="#333333" stroke-width="2.9" stroke-linejoin="miter" stroke-miterlimit="1.5"/>
<path d="M2249.2,1484.3 L2255.2,1490.3 L2249.2,1496.3 L2243.2,1490.3Z" fill="#36a32c" stroke="#333333" stroke-width="2.9" stroke-linejoin="miter" stroke-miterlimit="1.5"/>
<path d="M2284.7,1492.6 L2290.7,1498.6 L2284.7,1504.6 L2278.7,1498.6Z" fill="#36a32c" stroke="#333333" stroke-width="2.9" stroke-linejoin="miter" stroke-miterlimit="1.5"/>
<path d="M2320.2,1493.6 L2326.2,1499.6 L2320.2,1505.6 L2314.2,1499.6Z" fill="#36a32c" stroke="#333333" stroke-width="2.9" stroke-linejoin="miter" stroke-miterlimit="1.5"/>
<path d="M2355.7,1496.8 L2361.7,1502.8 L2355.7,1508.8 L2349.7,1502.8Z" fill="#36a32c" stroke="#333333" stroke-width="2.9" stroke-linejoin="miter" stroke-miterlimit="1.5"/>
<path d="M2391.2,1490.3 L2397.2,1496.3 L2391.2,1502.3 L2385.2,1496.3Z" fill="#36a32c" stroke="#333333" stroke-width="2.9" stroke-linejoin="miter" stroke-miterlimit="1.5"/>
<path d="M2426.7,1429.1 L2432.7,1435.1 L2426.7,1441.1 L2420.7,1435.1Z" fill="#36a32c" stroke="#333333" stroke-width="2.9" stroke-linejoin="miter" stroke-miterlimit="1.5"/>
<path d="M2462.2,1444.0 L2468.2,1450.0 L2462.2,1456.0 L2456.2,1450.0Z" fill="#36a32c" stroke="#333333" stroke-width="2.9" stroke-linejoin="miter" stroke-miterlimit="1.5"/>
<path d="M2497.7,1497.8 L2503.7,1503.8 L2497.7,1509.8 L2491.7,1503.8Z" fill="#36a32c" stroke="#333333" stroke-width="2.9" stroke-linejoin="miter" stroke-miterlimit="1.5"/>
<path d="M2533.2,1486.1 L2539.2,1492.1 L2533.2,1498.1 L2527.2,1492.1Z" fill="#36a32c" stroke="#333333" stroke-width="2.9" stroke-linejoin="miter" stroke-miterlimit="1.5"/>
<path d="M2568.8,1489.0 L2574.8,1495.0 L2568.8,1501.0 L2562.8,1495.0Z" fill="#36a32c" stroke="#333333" stroke-width="2.9" stroke-linejoin="miter" stroke-miterlimit="1.5"/>
<path d="M2604.3,1495.2 L2610.3,1501.2 L2604.3,1507.2 L2598.3,1501.2Z" fill="#36a32c" stroke="#333333" stroke-width="2.9" stroke-linejoin="miter" stroke-miterlimit="1.5"/>
<path d="M2639.8,1491.4 L2645.8,1497.4 L2639.8,1503.4 L2633.8,1497.4Z" fill="#36a32c" stroke="#333333" stroke-width="2.9" stroke-linejoin="miter" stroke-miterlimit="1.5"/>
<path d="M2675.3,1486.1 L2681.3,1492.1 L2675.3,1498.1 L2669.3,1492.1Z" fill="#36a32c" stroke="#333333" stroke-width="2.9" stroke-linejoin="miter" stroke-miterlimit="1.5"/>
<path d="M2710.8,1494.2 L2716.8,1500.2 L2710.8,1506.2 L2704.8,1500.2Z" fill="#36a32c" stroke="#333333" stroke-width="2.9" stroke-linejoin="miter" stroke-miterlimit="1.5"/>
<path d="M2746.3,1484.6 L2752.3,1490.6 L2746.3,1496.6 L2740.3,1490.6Z" fill="#36a32c" stroke="#333333" stroke-width="2.9" stroke-linejoin="miter" stroke-miterlimit="1.5"/>
<path d="M2781.8,1446.1 L2787.8,1452.1 L2781.8,1458.1 L2775.8,1452.1Z" fill="#36a32c" stroke="#333333" stroke-width="2.9" stroke-linejoin="miter" stroke-miterlimit="1.5"/>
<path d="M2817.3,1486.8 L2823.3,1492.8 L2817.3,1498.8 L2811.3,1492.8Z" fill="#36a32c" stroke="#333333" stroke-width="2.9" stroke-linejoin="miter" stroke-miterlimit="1.5"/>
<path d="M2852.9,1492.2 L2858.9,1498.2 L2852.9,1504.2 L2846.9,1498.2Z" fill="#36a32c" stroke="#333333" stroke-width="2.9" stroke-linejoin="miter" stroke-miterlimit="1.5"/>
<path d="M2888.4,1439.0 L2894.4,1445.0 L2888.4,1451.0 L2882.4,1445.0Z" fill="#36a32c" stroke="#333333" stroke-width="2.9" stroke-linejoin="miter" stroke-miterlimit="1.5"/>
<path d="M338.7,1503.0 L342.6,1499.1 L345.7,1502.2 L348.8,1499.1 L352.7,1503.0 L349.6,1506.1 L352.7,1509.2 L348.8,1513.1 L345.7,1510.0 L342.6,1513.1 L338.7,1509.2 L341.8,1506.1Z" fill="#333333" stroke="#333333" stroke-width="0.8"/>
<path d="M374.2,1502.4 L378.1,1498.5 L381.2,1501.6 L384.3,1498.5 L388.2,1502.4 L385.1,1505.5 L388.2,1508.6 L384.3,1512.5 L381.2,1509.4 L378.1,1512.5 L374.2,1508.6 L377.3,1505.5Z" fill="#333333" stroke="#333333" stroke-width="0.8"/>
<path d="M409.7,1503.6 L413.6,1499.7 L416.7,1502.8 L419.8,1499.7 L423.7,1503.6 L420.6,1506.7 L423.7,1509.8 L419.8,1513.7 L416.7,1510.6 L413.6,1513.7 L409.7,1509.8 L412.8,1506.7Z" fill="#333333" stroke="#333333" stroke-width="0.8"/>
<path d="M445.2,1508.8 L449.1,1504.9 L452.2,1508.0 L455.3,1504.9 L459.2,1508.8 L456.1,1511.9 L459.2,1515.0 L455.3,1518.9 L452.2,1515.8 L449.1,1518.9 L445.2,1515.0 L448.3,1511.9Z" fill="#333333" stroke="#333333" stroke-width="0.8"/>
<path d="M480.8,1503.9 L484.7,1500.0 L487.8,1503.1 L490.9,1500.0 L494.8,1503.9 L491.7,1507.0 L494.8,1510.1 L490.9,1514.0 L487.8,1510.9 L484.7,1514.0 L480.8,1510.1 L483.9,1507.0Z" fill="#333333" stroke="#333333" stroke-width="0.8"/>
<path d="M516.3,1508.6 L520.2,1504.7 L523.3,1507.8 L526.4,1504.7 L530.3,1508.6 L527.2,1511.7 L530.3,1514.8 L526.4,1518.7 L523.3,1515.6 L520.2,1518.7 L516.3,1514.8 L519.4,1511.7Z" fill="#333333" stroke="#333333" stroke-width="0.8"/>
<path d="M551.8,1506.6 L555.7,1502.7 L558.8,1505.8 L561.9,1502.7 L565.8,1506.6 L562.7,1509.7 L565.8,1512.8 L561.9,1516.7 L558.8,1513.6 L555.7,1516.7 L551.8,1512.8 L554.9,1509.7Z" fill="#333333" stroke="#333333" stroke-width="0.8"/>
<path d="M587.3,1505.2 L591.2,1501.3 L594.3,1504.4 L597.4,1501.3 L601.3,1505.2 L598.2,1508.3 L601.3,1511.4 L597.4,1515.3 L594.3,1512.2 L591.2,1515.3 L587.3,1511.4 L590.4,1508.3Z" fill="#333333" stroke="#333333" stroke-width="0.8"/>
<path d="M622.8,1505.7 L626.7,1501.8 L629.8,1504.9 L632.9,1501.8 L636.8,1505.7 L633.7,1508.8 L636.8,1511.9 L632.9,1515.8 L629.8,1512.7 L626.7,1515.8 L622.8,1511.9 L625.9,1508.8Z" fill="#333333" stroke="#333333" stroke-width="0.8"/>
<path d="M658.3,1505.4 L662.2,1501.5 L665.3,1504.6 L668.4,1501.5 L672.3,1505.4 L669.2,1508.5 L672.3,1511.6 L668.4,1515.5 L665.3,1512.4 L662.2,1515.5 L658.3,1511.6 L661.4,1508.5Z" fill="#333333" stroke="#333333" stroke-width="0.8"/>
<path d="M693.8,1506.1 L697.7,1502.2 L700.8,1505.3 L703.9,1502.2 L707.8,1506.1 L704.7,1509.2 L707.8,1512.3 L703.9,1516.2 L700.8,1513.1 L697.7,1516.2 L693.8,1512.3 L696.9,1509.2Z" fill="#333333" stroke="#333333" stroke-width="0.8"/>
<path d="M729.3,1505.0 L733.2,1501.1 L736.3,1504.2 L739.4,1501.1 L743.3,1505.0 L740.2,1508.1 L743.3,1511.2 L739.4,1515.1 L736.3,1512.0 L733.2,1515.1 L729.3,1511.2 L732.4,1508.1Z" fill="#333333" stroke="#333333" stroke-width="0.8"/>
<path d="M736.4,1503.6 L740.3,1499.7 L743.4,1502.8 L746.5,1499.7 L750.4,1503.6 L747.3,1506.7 L750.4,1509.8 L746.5,1513.7 L743.4,1510.6 L740.3,1513.7 L736.4,1509.8 L739.5,1506.7Z" fill="#333333" stroke="#333333" stroke-width="0.8"/>
<path d="M772.0,1503.2 L775.9,1499.3 L779.0,1502.4 L782.1,1499.3 L786.0,1503.2 L782.9,1506.3 L786.0,1509.4 L782.1,1513.3 L779.0,1510.2 L775.9,1513.3 L772.0,1509.4 L775.1,1506.3Z" fill="#333333" stroke="#333333" stroke-width="0.8"/>
<path d="M807.5,1502.4 L811.4,1498.5 L814.5,1501.6 L817.6,1498.5 L821.5,1502.4 L818.4,1505.5 L821.5,1508.6 L817.6,1512.5 L814.5,1509.4 L811.4,1512.5 L807.5,1508.6 L810.6,1505.5Z" fill="#333333" stroke="#333333" stroke-width="0.8"/>
<path d="M843.0,1501.9 L846.9,1498.0 L850.0,1501.1 L853.1,1498.0 L857.0,1501.9 L853.9,1505.0 L857.0,1508.1 L853.1,1512.0 L850.0,1508.9 L846.9,1512.0 L843.0,1508.1 L846.1,1505.0Z" fill="#333333" stroke="#333333" stroke-width="0.8"/>
<path d="M878.5,1502.0 L882.4,1498.1 L885.5,1501.2 L888.6,1498.1 L892.5,1502.0 L889.4,1505.1 L892.5,1508.2 L888.6,1512.1 L885.5,1509.0 L882.4,1512.1 L878.5,1508.2 L881.6,1505.1Z" fill="#333333" stroke="#333333" stroke-width="0.8"/>
<path d="M914.0,1501.7 L917.9,1497.8 L921.0,1500.9 L924.1,1497.8 L928.0,1501.7 L924.9,1504.8 L928.0,1507.9 L924.1,1511.8 L921.0,1508.7 L917.9,1511.8 L914.0,1507.9 L917.1,1504.8Z" fill="#333333" stroke="#333333" stroke-width="0.8"/>
<path d="M949.5,1504.6 L953.4,1500.7 L956.5,1503.8 L959.6,1500.7 L963.5,1504.6 L960.4,1507.7 L963.5,1510.8 L959.6,1514.7 L956.5,1511.6 L953.4,1514.7 L949.5,1510.8 L952.6,1507.7Z" fill="#333333" stroke="#333333" stroke-width="0.8"/>
<path d="M985.0,1495.1 L988.9,1491.2 L992.0,1494.3 L995.1,1491.2 L999.0,1495.1 L995.9,1498.2 L999.0,1501.3 L995.1,1505.2 L992.0,1502.1 L988.9,1505.2 L985.0,1501.3 L988.1,1498.2Z" fill="#333333" stroke="#333333" stroke-width="0.8"/>
<path d="M1020.5,1456.5 L1024.4,1452.6 L1027.5,1455.7 L1030.6,1452.6 L1034.5,1456.5 L1031.4,1459.6 L1034.5,1462.7 L1030.6,1466.6 L1027.5,1463.5 L1024.4,1466.6 L1020.5,1462.7 L1023.6,1459.6Z" fill="#333333" stroke="#333333" stroke-width="0.8"/>
<path d="M1056.1,1397.6 L1060.0,1393.7 L1063.1,1396.8 L1066.2,1393.7 L1070.1,1397.6 L1067.0,1400.7 L1070.1,1403.8 L1066.2,1407.7 L1063.1,1404.6 L1060.0,1407.7 L1056.1,1403.8 L1059.2,1400.7Z" fill="#333333" stroke="#333333" stroke-width="0.8"/>
<path d="M1091.6,1193.1 L1095.5,1189.2 L1098.6,1192.3 L1101.7,1189.2 L1105.6,1193.1 L1102.5,1196.2 L1105.6,1199.3 L1101.7,1203.2 L1098.6,1200.1 L1095.5,1203.2 L1091.6,1199.3 L1094.7,1196.2Z" fill="#333333" stroke="#333333" stroke-width="0.8"/>
<path d="M1127.1,1283.1 L1131.0,1279.2 L1134.1,1282.3 L1137.2,1279.2 L1141.1,1283.1 L1138.0,1286.2 L1141.1,1289.3 L1137.2,1293.2 L1134.1,1290.1 L1131.0,1293.2 L1127.1,1289.3 L1130.2,1286.2Z" fill="#333333" stroke="#333333" stroke-width="0.8"/>
<path d="M1162.6,1334.5 L1166.5,1330.6 L1169.6,1333.7 L1172.7,1330.6 L1176.6,1334.5 L1173.5,1337.6 L1176.6,1340.7 L1172.7,1344.6 L1169.6,1341.5 L1166.5,1344.6 L1162.6,1340.7 L1165.7,1337.6Z" fill="#333333" stroke="#333333" stroke-width="0.8"/>
<path d="M1198.1,1316.3 L1202.0,1312.4 L1205.1,1315.5 L1208.2,1312.4 L1212.1,1316.3 L1209.0,1319.4 L1212.1,1322.5 L1208.2,1326.4 L1205.1,1323.3 L1202.0,1326.4 L1198.1,1322.5 L1201.2,1319.4Z" fill="#333333" stroke="#333333" stroke-width="0.8"/>
<path d="M1233.6,1355.9 L1237.5,1352.0 L1240.6,1355.1 L1243.7,1352.0 L1247.6,1355.9 L1244.5,1359.0 L1247.6,1362.1 L1243.7,1366.0 L1240.6,1362.9 L1237.5,1366.0 L1233.6,1362.1 L1236.7,1359.0Z" fill="#333333" stroke="#333333" stroke-width="0.8"/>
<path d="M1269.1,1382.7 L1273.0,1378.8 L1276.1,1381.9 L1279.2,1378.8 L1283.1,1382.7 L1280.0,1385.8 L1283.1,1388.9 L1279.2,1392.8 L1276.1,1389.7 L1273.0,1392.8 L1269.1,1388.9 L1272.2,1385.8Z" fill="#333333" stroke="#333333" stroke-width="0.8"/>
<path d="M1304.6,1436.2 L1308.5,1432.3 L1311.6,1435.4 L1314.7,1432.3 L1318.6,1436.2 L1315.5,1439.3 L1318.6,1442.4 L1314.7,1446.3 L1311.6,1443.2 L1308.5,1446.3 L1304.6,1442.4 L1307.7,1439.3Z" fill="#333333" stroke="#333333" stroke-width="0.8"/>
<path d="M1340.1,1435.1 L1344.0,1431.2 L1347.1,1434.3 L1350.2,1431.2 L1354.1,1435.1 L1351.0,1438.2 L1354.1,1441.3 L1350.2,1445.2 L1347.1,1442.1 L1344.0,1445.2 L1340.1,1441.3 L1343.2,1438.2Z" fill="#333333" stroke="#333333" stroke-width="0.8"/>
<path d="M1375.7,1438.3 L1379.6,1434.4 L1382.7,1437.5 L1385.8,1434.4 L1389.7,1438.3 L1386.6,1441.4 L1389.7,1444.5 L1385.8,1448.4 L1382.7,1445.3 L1379.6,1448.4 L1375.7,1444.5 L1378.8,1441.4Z" fill="#333333" stroke="#333333" stroke-width="0.8"/>
<path d="M1411.2,1433.0 L1415.1,1429.1 L1418.2,1432.2 L1421.3,1429.1 L1425.2,1433.0 L1422.1,1436.1 L1425.2,1439.2 L1421.3,1443.1 L1418.2,1440.0 L1415.1,1443.1 L1411.2,1439.2 L1414.3,1436.1Z" fill="#333333" stroke="#333333" stroke-width="0.8"/>
<path d="M1446.7,1465.5 L1450.6,1461.6 L1453.7,1464.7 L1456.8,1461.6 L1460.7,1465.5 L1457.6,1468.6 L1460.7,1471.7 L1456.8,1475.6 L1453.7,1472.5 L1450.6,1475.6 L1446.7,1471.7 L1449.8,1468.6Z" fill="#333333" stroke="#333333" stroke-width="0.8"/>
<path d="M1482.2,1511.1 L1486.1,1507.2 L1489.2,1510.3 L1492.3,1507.2 L1496.2,1511.1 L1493.1,1514.2 L1496.2,1517.3 L1492.3,1521.2 L1489.2,1518.1 L1486.1,1521.2 L1482.2,1517.3 L1485.3,1514.2Z" fill="#333333" stroke="#333333" stroke-width="0.8"/>
<path d="M1517.7,1508.2 L1521.6,1504.3 L1524.7,1507.4 L1527.8,1504.3 L1531.7,1508.2 L1528.6,1511.3 L1531.7,1514.4 L1527.8,1518.3 L1524.7,1515.2 L1521.6,1518.3 L1517.7,1514.4 L1520.8,1511.3Z" fill="#333333" stroke="#333333" stroke-width="0.8"/>
<path d="M1553.2,1512.4 L1557.1,1508.5 L1560.2,1511.6 L1563.3,1508.5 L1567.2,1512.4 L1564.1,1515.5 L1567.2,1518.6 L1563.3,1522.5 L1560.2,1519.4 L1557.1,1522.5 L1553.2,1518.6 L1556.3,1515.5Z" fill="#333333" stroke="#333333" stroke-width="0.8"/>
<path d="M1588.7,1507.9 L1592.6,1504.0 L1595.7,1507.1 L1598.8,1504.0 L1602.7,1507.9 L1599.6,1511.0 L1602.7,1514.1 L1598.8,1518.0 L1595.7,1514.9 L1592.6,1518.0 L1588.7,1514.1 L1591.8,1511.0Z" fill="#333333" stroke="#333333" stroke-width="0.8"/>
<path d="M1624.2,1507.6 L1628.1,1503.7 L1631.2,1506.8 L1634.3,1503.7 L1638.2,1507.6 L1635.1,1510.7 L1638.2,1513.8 L1634.3,1517.7 L1631.2,1514.6 L1628.1,1517.7 L1624.2,1513.8 L1627.3,1510.7Z" fill="#333333" stroke="#333333" stroke-width="0.8"/>
<path d="M1659.8,1465.1 L1663.7,1461.2 L1666.8,1464.3 L1669.9,1461.2 L1673.8,1465.1 L1670.7,1468.2 L1673.8,1471.3 L1669.9,1475.2 L1666.8,1472.1 L1663.7,1475.2 L1659.8,1471.3 L1662.9,1468.2Z" fill="#333333" stroke="#333333" stroke-width="0.8"/>
<path d="M1695.3,1514.9 L1699.2,1511.0 L1702.3,1514.1 L1705.4,1511.0 L1709.3,1514.9 L1706.2,1518.0 L1709.3,1521.1 L1705.4,1525.0 L1702.3,1521.9 L1699.2,1525.0 L1695.3,1521.1 L1698.4,1518.0Z" fill="#333333" stroke="#333333" stroke-width="0.8"/>
<path d="M1730.8,1493.3 L1734.7,1489.4 L1737.8,1492.5 L1740.9,1489.4 L1744.8,1493.3 L1741.7,1496.4 L1744.8,1499.5 L1740.9,1503.4 L1737.8,1500.3 L1734.7,1503.4 L1730.8,1499.5 L1733.9,1496.4Z" fill="#333333" stroke="#333333" stroke-width="0.8"/>
<path d="M1766.3,1505.1 L1770.2,1501.2 L1773.3,1504.3 L1776.4,1501.2 L1780.3,1505.1 L1777.2,1508.2 L1780.3,1511.3 L1776.4,1515.2 L1773.3,1512.1 L1770.2,1515.2 L1766.3,1511.3 L1769.4,1508.2Z" fill="#333333" stroke="#333333" stroke-width="0.8"/>
<path d="M1801.8,1435.2 L1805.7,1431.3 L1808.8,1434.4 L1811.9,1431.3 L1815.8,1435.2 L1812.7,1438.3 L1815.8,1441.4 L1811.9,1445.3 L1808.8,1442.2 L1805.7,1445.3 L1801.8,1441.4 L1804.9,1438.3Z" fill="#333333" stroke="#333333" stroke-width="0.8"/>
<path d="M1837.3,1499.9 L1841.2,1496.0 L1844.3,1499.1 L1847.4,1496.0 L1851.3,1499.9 L1848.2,1503.0 L1851.3,1506.1 L1847.4,1510.0 L1844.3,1506.9 L1841.2,1510.0 L1837.3,1506.1 L1840.4,1503.0Z" fill="#333333" stroke="#333333" stroke-width="0.8"/>
<path d="M1872.8,1507.8 L1876.7,1503.9 L1879.8,1507.0 L1882.9,1503.9 L1886.8,1507.8 L1883.7,1510.9 L1886.8,1514.0 L1882.9,1517.9 L1879.8,1514.8 L1876.7,1517.9 L1872.8,1514.0 L1875.9,1510.9Z" fill="#333333" stroke="#333333" stroke-width="0.8"/>
<path d="M1908.3,1502.3 L1912.2,1498.4 L1915.3,1501.5 L1918.4,1498.4 L1922.3,1502.3 L1919.2,1505.4 L1922.3,1508.5 L1918.4,1512.4 L1915.3,1509.3 L1912.2,1512.4 L1908.3,1508.5 L1911.4,1505.4Z" fill="#333333" stroke="#333333" stroke-width="0.8"/>
<path d="M1943.9,1471.0 L1947.8,1467.1 L1950.9,1470.2 L1954.0,1467.1 L1957.9,1471.0 L1954.8,1474.1 L1957.9,1477.2 L1954.0,1481.1 L1950.9,1478.0 L1947.8,1481.1 L1943.9,1477.2 L1947.0,1474.1Z" fill="#333333" stroke="#333333" stroke-width="0.8"/>
<path d="M1979.4,1506.2 L1983.3,1502.3 L1986.4,1505.4 L1989.5,1502.3 L1993.4,1506.2 L1990.3,1509.3 L1993.4,1512.4 L1989.5,1516.3 L1986.4,1513.2 L1983.3,1516.3 L1979.4,1512.4 L1982.5,1509.3Z" fill="#333333" stroke="#333333" stroke-width="0.8"/>
<path d="M2014.9,1502.8 L2018.8,1498.9 L2021.9,1502.0 L2025.0,1498.9 L2028.9,1502.8 L2025.8,1505.9 L2028.9,1509.0 L2025.0,1512.9 L2021.9,1509.8 L2018.8,1512.9 L2014.9,1509.0 L2018.0,1505.9Z" fill="#333333" stroke="#333333" stroke-width="0.8"/>
<path d="M2050.4,1491.3 L2054.3,1487.4 L2057.4,1490.5 L2060.5,1487.4 L2064.4,1491.3 L2061.3,1494.4 L2064.4,1497.5 L2060.5,1501.4 L2057.4,1498.3 L2054.3,1501.4 L2050.4,1497.5 L2053.5,1494.4Z" fill="#333333" stroke="#333333" stroke-width="0.8"/>
<path d="M2085.9,1503.4 L2089.8,1499.5 L2092.9,1502.6 L2096.0,1499.5 L2099.9,1503.4 L2096.8,1506.5 L2099.9,1509.6 L2096.0,1513.5 L2092.9,1510.4 L2089.8,1513.5 L2085.9,1509.6 L2089.0,1506.5Z" fill="#333333" stroke="#333333" stroke-width="0.8"/>
<path d="M2121.4,1500.1 L2125.3,1496.2 L2128.4,1499.3 L2131.5,1496.2 L2135.4,1500.1 L2132.3,1503.2 L2135.4,1506.3 L2131.5,1510.2 L2128.4,1507.1 L2125.3,1510.2 L2121.4,1506.3 L2124.5,1503.2Z" fill="#333333" stroke="#333333" stroke-width="0.8"/>
<path d="M2156.9,1370.6 L2160.8,1366.7 L2163.9,1369.8 L2167.0,1366.7 L2170.9,1370.6 L2167.8,1373.7 L2170.9,1376.8 L2167.0,1380.7 L2163.9,1377.6 L2160.8,1380.7 L2156.9,1376.8 L2160.0,1373.7Z" fill="#333333" stroke="#333333" stroke-width="0.8"/>
<path d="M2192.4,1489.9 L2196.3,1486.0 L2199.4,1489.1 L2202.5,1486.0 L2206.4,1489.9 L2203.3,1493.0 L2206.4,1496.1 L2202.5,1500.0 L2199.4,1496.9 L2196.3,1500.0 L2192.4,1496.1 L2195.5,1493.0Z" fill="#333333" stroke="#333333" stroke-width="0.8"/>
<path d="M2227.9,1492.8 L2231.8,1488.9 L2234.9,1492.0 L2238.0,1488.9 L2241.9,1492.8 L2238.8,1495.9 L2241.9,1499.0 L2238.0,1502.9 L2234.9,1499.8 L2231.8,1502.9 L2227.9,1499.0 L2231.0,1495.9Z" fill="#333333" stroke="#333333" stroke-width="0.8"/>
<path d="M2263.5,1496.3 L2267.4,1492.4 L2270.5,1495.5 L2273.6,1492.4 L2277.5,1496.3 L2274.4,1499.4 L2277.5,1502.5 L2273.6,1506.4 L2270.5,1503.3 L2267.4,1506.4 L2263.5,1502.5 L2266.6,1499.4Z" fill="#333333" stroke="#333333" stroke-width="0.8"/>
<path d="M2299.0,1495.2 L2302.9,1491.3 L2306.0,1494.4 L2309.1,1491.3 L2313.0,1495.2 L2309.9,1498.3 L2313.0,1501.4 L2309.1,1505.3 L2306.0,1502.2 L2302.9,1505.3 L2299.0,1501.4 L2302.1,1498.3Z" fill="#333333" stroke="#333333" stroke-width="0.8"/>
<path d="M2334.5,1476.1 L2338.4,1472.2 L2341.5,1475.3 L2344.6,1472.2 L2348.5,1476.1 L2345.4,1479.2 L2348.5,1482.3 L2344.6,1486.2 L2341.5,1483.1 L2338.4,1486.2 L2334.5,1482.3 L2337.6,1479.2Z" fill="#333333" stroke="#333333" stroke-width="0.8"/>
<path d="M2370.0,1492.7 L2373.9,1488.8 L2377.0,1491.9 L2380.1,1488.8 L2384.0,1492.7 L2380.9,1495.8 L2384.0,1498.9 L2380.1,1502.8 L2377.0,1499.7 L2373.9,1502.8 L2370.0,1498.9 L2373.1,1495.8Z" fill="#333333" stroke="#333333" stroke-width="0.8"/>
<path d="M2405.5,1499.3 L2409.4,1495.4 L2412.5,1498.5 L2415.6,1495.4 L2419.5,1499.3 L2416.4,1502.4 L2419.5,1505.5 L2415.6,1509.4 L2412.5,1506.3 L2409.4,1509.4 L2405.5,1505.5 L2408.6,1502.4Z" fill="#333333" stroke="#333333" stroke-width="0.8"/>
<path d="M2441.0,1489.2 L2444.9,1485.3 L2448.0,1488.4 L2451.1,1485.3 L2455.0,1489.2 L2451.9,1492.3 L2455.0,1495.4 L2451.1,1499.3 L2448.0,1496.2 L2444.9,1499.3 L2441.0,1495.4 L2444.1,1492.3Z" fill="#333333" stroke="#333333" stroke-width="0.8"/>
<path d="M2476.5,1503.5 L2480.4,1499.6 L2483.5,1502.7 L2486.6,1499.6 L2490.5,1503.5 L2487.4,1506.6 L2490.5,1509.7 L2486.6,1513.6 L2483.5,1510.5 L2480.4,1513.6 L2476.5,1509.7 L2479.6,1506.6Z" fill="#333333" stroke="#333333" stroke-width="0.8"/>
<path d="M2512.0,1501.8 L2515.9,1497.9 L2519.0,1501.0 L2522.1,1497.9 L2526.0,1501.8 L2522.9,1504.9 L2526.0,1508.0 L2522.1,1511.9 L2519.0,1508.8 L2515.9,1511.9 L2512.0,1508.0 L2515.1,1504.9Z" fill="#333333" stroke="#333333" stroke-width="0.8"/>
<path d="M2547.6,1499.1 L2551.5,1495.2 L2554.6,1498.3 L2557.7,1495.2 L2561.6,1499.1 L2558.5,1502.2 L2561.6,1505.3 L2557.7,1509.2 L2554.6,1506.1 L2551.5,1509.2 L2547.6,1505.3 L2550.7,1502.2Z" fill="#333333" stroke="#333333" stroke-width="0.8"/>
<path d="M2583.1,1505.6 L2587.0,1501.7 L2590.1,1504.8 L2593.2,1501.7 L2597.1,1505.6 L2594.0,1508.7 L2597.1,1511.8 L2593.2,1515.7 L2590.1,1512.6 L2587.0,1515.7 L2583.1,1511.8 L2586.2,1508.7Z" fill="#333333" stroke="#333333" stroke-width="0.8"/>
<path d="M2618.6,1506.0 L2622.5,1502.1 L2625.6,1505.2 L2628.7,1502.1 L2632.6,1506.0 L2629.5,1509.1 L2632.6,1512.2 L2628.7,1516.1 L2625.6,1513.0 L2622.5,1516.1 L2618.6,1512.2 L2621.7,1509.1Z" fill="#333333" stroke="#333333" stroke-width="0.8"/>
<path d="M2654.1,1504.7 L2658.0,1500.8 L2661.1,1503.9 L2664.2,1500.8 L2668.1,1504.7 L2665.0,1507.8 L2668.1,1510.9 L2664.2,1514.8 L2661.1,1511.7 L2658.0,1514.8 L2654.1,1510.9 L2657.2,1507.8Z" fill="#333333" stroke="#333333" stroke-width="0.8"/>
<path d="M2689.6,1505.8 L2693.5,1501.9 L2696.6,1505.0 L2699.7,1501.9 L2703.6,1505.8 L2700.5,1508.9 L2703.6,1512.0 L2699.7,1515.9 L2696.6,1512.8 L2693.5,1515.9 L2689.6,1512.0 L2692.7,1508.9Z" fill="#333333" stroke="#333333" stroke-width="0.8"/>
<path d="M2725.1,1506.8 L2729.0,1502.9 L2732.1,1506.0 L2735.2,1502.9 L2739.1,1506.8 L2736.0,1509.9 L2739.1,1513.0 L2735.2,1516.9 L2732.1,1513.8 L2729.0,1516.9 L2725.1,1513.0 L2728.2,1509.9Z" fill="#333333" stroke="#333333" stroke-width="0.8"/>
<path d="M2760.6,1504.1 L2764.5,1500.2 L2767.6,1503.3 L2770.7,1500.2 L2774.6,1504.1 L2771.5,1507.2 L2774.6,1510.3 L2770.7,1514.2 L2767.6,1511.1 L2764.5,1514.2 L2760.6,1510.3 L2763.7,1507.2Z" fill="#333333" stroke="#333333" stroke-width="0.8"/>
<path d="M2796.1,1506.8 L2800.0,1502.9 L2803.1,1506.0 L2806.2,1502.9 L2810.1,1506.8 L2807.0,1509.9 L2810.1,1513.0 L2806.2,1516.9 L2803.1,1513.8 L2800.0,1516.9 L2796.1,1513.0 L2799.2,1509.9Z" fill="#333333" stroke="#333333" stroke-width="0.8"/>
<path d="M2831.7,1502.5 L2835.6,1498.6 L2838.7,1501.7 L2841.8,1498.6 L2845.7,1502.5 L2842.6,1505.6 L2845.7,1508.7 L2841.8,1512.6 L2838.7,1509.5 L2835.6,1512.6 L2831.7,1508.7 L2834.8,1505.6Z" fill="#333333" stroke="#333333" stroke-width="0.8"/>
<path d="M2867.2,1504.4 L2871.1,1500.5 L2874.2,1503.6 L2877.3,1500.5 L2881.2,1504.4 L2878.1,1507.5 L2881.2,1510.6 L2877.3,1514.5 L2874.2,1511.4 L2871.1,1514.5 L2867.2,1510.6 L2870.3,1507.5Z" fill="#333333" stroke="#333333" stroke-width="0.8"/>
<path d="M2902.7,1505.8 L2906.6,1501.9 L2909.7,1505.0 L2912.8,1501.9 L2916.7,1505.8 L2913.6,1508.9 L2916.7,1512.0 L2912.8,1515.9 L2909.7,1512.8 L2906.6,1515.9 L2902.7,1512.0 L2905.8,1508.9Z" fill="#333333" stroke="#333333" stroke-width="0.8"/>
<path d="M331.5,1515.6 L338.0,1528.0 L325.0,1528.0Z" fill="#ffc90e" stroke="#333333" stroke-width="2.7" stroke-linejoin="miter" stroke-miterlimit="2.2"/>
<path d="M367.0,1513.4 L373.5,1525.8 L360.5,1525.8Z" fill="#ffc90e" stroke="#333333" stroke-width="2.7" stroke-linejoin="miter" stroke-miterlimit="2.2"/>
<path d="M402.5,1513.7 L409.0,1526.1 L396.0,1526.1Z" fill="#ffc90e" stroke="#333333" stroke-width="2.7" stroke-linejoin="miter" stroke-miterlimit="2.2"/>
<path d="M438.0,1515.1 L444.6,1527.5 L431.5,1527.5Z" fill="#ffc90e" stroke="#333333" stroke-width="2.7" stroke-linejoin="miter" stroke-miterlimit="2.2"/>
<path d="M473.6,1519.0 L480.1,1531.4 L467.0,1531.4Z" fill="#ffc90e" stroke="#333333" stroke-width="2.7" stroke-linejoin="miter" stroke-miterlimit="2.2"/>
<path d="M509.1,1519.0 L515.6,1531.4 L502.6,1531.4Z" fill="#ffc90e" stroke="#333333" stroke-width="2.7" stroke-linejoin="miter" stroke-miterlimit="2.2"/>
<path d="M544.6,1514.6 L551.1,1527.0 L538.1,1527.0Z" fill="#ffc90e" stroke="#333333" stroke-width="2.7" stroke-linejoin="miter" stroke-miterlimit="2.2"/>
<path d="M580.1,1517.2 L586.6,1529.6 L573.6,1529.6Z" fill="#ffc90e" stroke="#333333" stroke-width="2.7" stroke-linejoin="miter" stroke-miterlimit="2.2"/>
<path d="M615.6,1519.0 L622.1,1531.4 L609.1,1531.4Z" fill="#ffc90e" stroke="#333333" stroke-width="2.7" stroke-linejoin="miter" stroke-miterlimit="2.2"/>
<path d="M651.1,1516.1 L657.6,1528.5 L644.6,1528.5Z" fill="#ffc90e" stroke="#333333" stroke-width="2.7" stroke-linejoin="miter" stroke-miterlimit="2.2"/>
<path d="M686.6,1515.4 L693.1,1527.8 L680.1,1527.8Z" fill="#ffc90e" stroke="#333333" stroke-width="2.7" stroke-linejoin="miter" stroke-miterlimit="2.2"/>
<path d="M722.1,1518.7 L728.6,1531.1 L715.6,1531.1Z" fill="#ffc90e" stroke="#333333" stroke-width="2.7" stroke-linejoin="miter" stroke-miterlimit="2.2"/>
<path d="M764.8,1519.9 L771.3,1532.3 L758.2,1532.3Z" fill="#ffc90e" stroke="#333333" stroke-width="2.7" stroke-linejoin="miter" stroke-miterlimit="2.2"/>
<path d="M800.3,1515.9 L806.8,1528.3 L793.8,1528.3Z" fill="#ffc90e" stroke="#333333" stroke-width="2.7" stroke-linejoin="miter" stroke-miterlimit="2.2"/>
<path d="M835.8,1513.1 L842.3,1525.5 L829.3,1525.5Z" fill="#ffc90e" stroke="#333333" stroke-width="2.7" stroke-linejoin="miter" stroke-miterlimit="2.2"/>
<path d="M871.3,1514.9 L877.8,1527.3 L864.8,1527.3Z" fill="#ffc90e" stroke="#333333" stroke-width="2.7" stroke-linejoin="miter" stroke-miterlimit="2.2"/>
<path d="M906.8,1510.8 L913.3,1523.2 L900.3,1523.2Z" fill="#ffc90e" stroke="#333333" stroke-width="2.7" stroke-linejoin="miter" stroke-miterlimit="2.2"/>
<path d="M942.3,1511.5 L948.8,1523.9 L935.8,1523.9Z" fill="#ffc90e" stroke="#333333" stroke-width="2.7" stroke-linejoin="miter" stroke-miterlimit="2.2"/>
<path d="M977.8,1507.7 L984.3,1520.1 L971.3,1520.1Z" fill="#ffc90e" stroke="#333333" stroke-width="2.7" stroke-linejoin="miter" stroke-miterlimit="2.2"/>
<path d="M1013.3,1505.4 L1019.8,1517.8 L1006.8,1517.8Z" fill="#ffc90e" stroke="#333333" stroke-width="2.7" stroke-linejoin="miter" stroke-miterlimit="2.2"/>
<path d="M1048.8,1489.9 L1055.4,1502.3 L1042.3,1502.3Z" fill="#ffc90e" stroke="#333333" stroke-width="2.7" stroke-linejoin="miter" stroke-miterlimit="2.2"/>
<path d="M1084.4,1495.3 L1090.9,1507.7 L1077.8,1507.7Z" fill="#ffc90e" stroke="#333333" stroke-width="2.7" stroke-linejoin="miter" stroke-miterlimit="2.2"/>
<path d="M1119.9,1497.0 L1126.4,1509.4 L1113.4,1509.4Z" fill="#ffc90e" stroke="#333333" stroke-width="2.7" stroke-linejoin="miter" stroke-miterlimit="2.2"/>
<path d="M1155.4,1479.9 L1161.9,1492.3 L1148.9,1492.3Z" fill="#ffc90e" stroke="#333333" stroke-width="2.7" stroke-linejoin="miter" stroke-miterlimit="2.2"/>
<path d="M1190.9,1414.6 L1197.4,1427.0 L1184.4,1427.0Z" fill="#ffc90e" stroke="#333333" stroke-width="2.7" stroke-linejoin="miter" stroke-miterlimit="2.2"/>
<path d="M1226.4,1364.3 L1232.9,1376.7 L1219.9,1376.7Z" fill="#ffc90e" stroke="#333333" stroke-width="2.7" stroke-linejoin="miter" stroke-miterlimit="2.2"/>
<path d="M1261.9,1443.5 L1268.4,1455.9 L1255.4,1455.9Z" fill="#ffc90e" stroke="#333333" stroke-width="2.7" stroke-linejoin="miter" stroke-miterlimit="2.2"/>
<path d="M1297.4,1228.3 L1303.9,1240.7 L1290.9,1240.7Z" fill="#ffc90e" stroke="#333333" stroke-width="2.7" stroke-linejoin="miter" stroke-miterlimit="2.2"/>
<path d="M1332.9,1400.7 L1339.5,1413.1 L1326.4,1413.1Z" fill="#ffc90e" stroke="#333333" stroke-width="2.7" stroke-linejoin="miter" stroke-miterlimit="2.2"/>
<path d="M1368.5,1449.9 L1375.0,1462.3 L1361.9,1462.3Z" fill="#ffc90e" stroke="#333333" stroke-width="2.7" stroke-linejoin="miter" stroke-miterlimit="2.2"/>
<path d="M1404.0,1501.9 L1410.5,1514.3 L1397.5,1514.3Z" fill="#ffc90e" stroke="#333333" stroke-width="2.7" stroke-linejoin="miter" stroke-miterlimit="2.2"/>
<path d="M1439.5,1496.3 L1446.0,1508.7 L1433.0,1508.7Z" fill="#ffc90e" stroke="#333333" stroke-width="2.7" stroke-linejoin="miter" stroke-miterlimit="2.2"/>
<path d="M1475.0,1507.5 L1481.5,1519.9 L1468.5,1519.9Z" fill="#ffc90e" stroke="#333333" stroke-width="2.7" stroke-linejoin="miter" stroke-miterlimit="2.2"/>
<path d="M1510.5,1512.4 L1517.0,1524.8 L1504.0,1524.8Z" fill="#ffc90e" stroke="#333333" stroke-width="2.7" stroke-linejoin="miter" stroke-miterlimit="2.2"/>
<path d="M1546.0,1504.7 L1552.5,1517.1 L1539.5,1517.1Z" fill="#ffc90e" stroke="#333333" stroke-width="2.7" stroke-linejoin="miter" stroke-miterlimit="2.2"/>
<path d="M1581.5,1424.2 L1588.0,1436.6 L1575.0,1436.6Z" fill="#ffc90e" stroke="#333333" stroke-width="2.7" stroke-linejoin="miter" stroke-miterlimit="2.2"/>
<path d="M1617.0,1507.4 L1623.5,1519.8 L1610.5,1519.8Z" fill="#ffc90e" stroke="#333333" stroke-width="2.7" stroke-linejoin="miter" stroke-miterlimit="2.2"/>
<path d="M1652.6,1503.1 L1659.1,1515.5 L1646.0,1515.5Z" fill="#ffc90e" stroke="#333333" stroke-width="2.7" stroke-linejoin="miter" stroke-miterlimit="2.2"/>
<path d="M1688.1,1510.0 L1694.6,1522.4 L1681.6,1522.4Z" fill="#ffc90e" stroke="#333333" stroke-width="2.7" stroke-linejoin="miter" stroke-miterlimit="2.2"/>
<path d="M1723.6,1507.1 L1730.1,1519.5 L1717.1,1519.5Z" fill="#ffc90e" stroke="#333333" stroke-width="2.7" stroke-linejoin="miter" stroke-miterlimit="2.2"/>
<path d="M1759.1,1502.2 L1765.6,1514.6 L1752.6,1514.6Z" fill="#ffc90e" stroke="#333333" stroke-width="2.7" stroke-linejoin="miter" stroke-miterlimit="2.2"/>
<path d="M1794.6,1511.2 L1801.1,1523.6 L1788.1,1523.6Z" fill="#ffc90e" stroke="#333333" stroke-width="2.7" stroke-linejoin="miter" stroke-miterlimit="2.2"/>
<path d="M1830.1,1508.6 L1836.6,1521.0 L1823.6,1521.0Z" fill="#ffc90e" stroke="#333333" stroke-width="2.7" stroke-linejoin="miter" stroke-miterlimit="2.2"/>
<path d="M1865.6,1508.8 L1872.1,1521.2 L1859.1,1521.2Z" fill="#ffc90e" stroke="#333333" stroke-width="2.7" stroke-linejoin="miter" stroke-miterlimit="2.2"/>
<path d="M1901.1,1501.1 L1907.6,1513.5 L1894.6,1513.5Z" fill="#ffc90e" stroke="#333333" stroke-width="2.7" stroke-linejoin="miter" stroke-miterlimit="2.2"/>
<path d="M1936.6,1502.9 L1943.2,1515.3 L1930.1,1515.3Z" fill="#ffc90e" stroke="#333333" stroke-width="2.7" stroke-linejoin="miter" stroke-miterlimit="2.2"/>
<path d="M1972.2,1505.1 L1978.7,1517.5 L1965.6,1517.5Z" fill="#ffc90e" stroke="#333333" stroke-width="2.7" stroke-linejoin="miter" stroke-miterlimit="2.2"/>
<path d="M2007.7,1505.3 L2014.2,1517.7 L2001.2,1517.7Z" fill="#ffc90e" stroke="#333333" stroke-width="2.7" stroke-linejoin="miter" stroke-miterlimit="2.2"/>
<path d="M2043.2,1504.1 L2049.7,1516.5 L2036.7,1516.5Z" fill="#ffc90e" stroke="#333333" stroke-width="2.7" stroke-linejoin="miter" stroke-miterlimit="2.2"/>
<path d="M2078.7,1503.6 L2085.2,1516.0 L2072.2,1516.0Z" fill="#ffc90e" stroke="#333333" stroke-width="2.7" stroke-linejoin="miter" stroke-miterlimit="2.2"/>
<path d="M2114.2,1063.4 L2120.7,1075.8 L2107.7,1075.8Z" fill="#ffc90e" stroke="#333333" stroke-width="2.7" stroke-linejoin="miter" stroke-miterlimit="2.2"/>
<path d="M2149.7,1399.9 L2156.2,1412.3 L2143.2,1412.3Z" fill="#ffc90e" stroke="#333333" stroke-width="2.7" stroke-linejoin="miter" stroke-miterlimit="2.2"/>
<path d="M2185.2,1496.5 L2191.7,1508.9 L2178.7,1508.9Z" fill="#ffc90e" stroke="#333333" stroke-width="2.7" stroke-linejoin="miter" stroke-miterlimit="2.2"/>
<path d="M2220.7,1493.3 L2227.3,1505.7 L2214.2,1505.7Z" fill="#ffc90e" stroke="#333333" stroke-width="2.7" stroke-linejoin="miter" stroke-miterlimit="2.2"/>
<path d="M2256.3,1496.2 L2262.8,1508.6 L2249.7,1508.6Z" fill="#ffc90e" stroke="#333333" stroke-width="2.7" stroke-linejoin="miter" stroke-miterlimit="2.2"/>
<path d="M2291.8,1217.6 L2298.3,1230.0 L2285.3,1230.0Z" fill="#ffc90e" stroke="#333333" stroke-width="2.7" stroke-linejoin="miter" stroke-miterlimit="2.2"/>
<path d="M2327.3,1469.6 L2333.8,1482.0 L2320.8,1482.0Z" fill="#ffc90e" stroke="#333333" stroke-width="2.7" stroke-linejoin="miter" stroke-miterlimit="2.2"/>
<path d="M2362.8,1415.6 L2369.3,1428.0 L2356.3,1428.0Z" fill="#ffc90e" stroke="#333333" stroke-width="2.7" stroke-linejoin="miter" stroke-miterlimit="2.2"/>
<path d="M2398.3,1486.7 L2404.8,1499.1 L2391.8,1499.1Z" fill="#ffc90e" stroke="#333333" stroke-width="2.7" stroke-linejoin="miter" stroke-miterlimit="2.2"/>
<path d="M2433.8,1493.0 L2440.3,1505.4 L2427.3,1505.4Z" fill="#ffc90e" stroke="#333333" stroke-width="2.7" stroke-linejoin="miter" stroke-miterlimit="2.2"/>
<path d="M2469.3,1492.6 L2475.8,1505.0 L2462.8,1505.0Z" fill="#ffc90e" stroke="#333333" stroke-width="2.7" stroke-linejoin="miter" stroke-miterlimit="2.2"/>
<path d="M2504.8,1497.3 L2511.3,1509.7 L2498.3,1509.7Z" fill="#ffc90e" stroke="#333333" stroke-width="2.7" stroke-linejoin="miter" stroke-miterlimit="2.2"/>
<path d="M2540.4,1495.2 L2546.9,1507.6 L2533.8,1507.6Z" fill="#ffc90e" stroke="#333333" stroke-width="2.7" stroke-linejoin="miter" stroke-miterlimit="2.2"/>
<path d="M2575.9,1497.2 L2582.4,1509.6 L2569.4,1509.6Z" fill="#ffc90e" stroke="#333333" stroke-width="2.7" stroke-linejoin="miter" stroke-miterlimit="2.2"/>
<path d="M2611.4,1486.6 L2617.9,1499.0 L2604.9,1499.0Z" fill="#ffc90e" stroke="#333333" stroke-width="2.7" stroke-linejoin="miter" stroke-miterlimit="2.2"/>
<path d="M2646.9,1373.9 L2653.4,1386.3 L2640.4,1386.3Z" fill="#ffc90e" stroke="#333333" stroke-width="2.7" stroke-linejoin="miter" stroke-miterlimit="2.2"/>
<path d="M2682.4,1475.5 L2688.9,1487.9 L2675.9,1487.9Z" fill="#ffc90e" stroke="#333333" stroke-width="2.7" stroke-linejoin="miter" stroke-miterlimit="2.2"/>
<path d="M2717.9,1484.2 L2724.4,1496.6 L2711.4,1496.6Z" fill="#ffc90e" stroke="#333333" stroke-width="2.7" stroke-linejoin="miter" stroke-miterlimit="2.2"/>
<path d="M2753.4,1437.2 L2759.9,1449.6 L2746.9,1449.6Z" fill="#ffc90e" stroke="#333333" stroke-width="2.7" stroke-linejoin="miter" stroke-miterlimit="2.2"/>
<path d="M2788.9,1476.7 L2795.4,1489.1 L2782.4,1489.1Z" fill="#ffc90e" stroke="#333333" stroke-width="2.7" stroke-linejoin="miter" stroke-miterlimit="2.2"/>
<path d="M2824.4,1487.4 L2831.0,1499.8 L2817.9,1499.8Z" fill="#ffc90e" stroke="#333333" stroke-width="2.7" stroke-linejoin="miter" stroke-miterlimit="2.2"/>
<path d="M2860.0,1482.9 L2866.5,1495.3 L2853.4,1495.3Z" fill="#ffc90e" stroke="#333333" stroke-width="2.7" stroke-linejoin="miter" stroke-miterlimit="2.2"/>
<path d="M2895.5,1494.9 L2902.0,1507.3 L2889.0,1507.3Z" fill="#ffc90e" stroke="#333333" stroke-width="2.7" stroke-linejoin="miter" stroke-miterlimit="2.2"/>
<circle cx="317.3" cy="1522.3" r="5.9" fill="#c8c8c8" stroke="#333333" stroke-width="2.7"/>
<circle cx="352.8" cy="1522.4" r="5.9" fill="#c8c8c8" stroke="#333333" stroke-width="2.7"/>
<circle cx="388.3" cy="1520.2" r="5.9" fill="#c8c8c8" stroke="#333333" stroke-width="2.7"/>
<circle cx="423.8" cy="1520.9" r="5.9" fill="#c8c8c8" stroke="#333333" stroke-width="2.7"/>
<circle cx="459.3" cy="1519.7" r="5.9" fill="#c8c8c8" stroke="#333333" stroke-width="2.7"/>
<circle cx="494.9" cy="1522.9" r="5.9" fill="#c8c8c8" stroke="#333333" stroke-width="2.7"/>
<circle cx="530.4" cy="1523.9" r="5.9" fill="#c8c8c8" stroke="#333333" stroke-width="2.7"/>
<circle cx="565.9" cy="1523.8" r="5.9" fill="#c8c8c8" stroke="#333333" stroke-width="2.7"/>
<circle cx="601.4" cy="1523.6" r="5.9" fill="#c8c8c8" stroke="#333333" stroke-width="2.7"/>
<circle cx="636.9" cy="1525.1" r="5.9" fill="#c8c8c8" stroke="#333333" stroke-width="2.7"/>
<circle cx="672.4" cy="1526.1" r="5.9" fill="#c8c8c8" stroke="#333333" stroke-width="2.7"/>
<circle cx="707.9" cy="1519.9" r="5.9" fill="#c8c8c8" stroke="#333333" stroke-width="2.7"/>
<circle cx="750.5" cy="1519.8" r="5.9" fill="#c8c8c8" stroke="#333333" stroke-width="2.7"/>
<circle cx="786.1" cy="1521.3" r="5.9" fill="#c8c8c8" stroke="#333333" stroke-width="2.7"/>
<circle cx="821.6" cy="1519.0" r="5.9" fill="#c8c8c8" stroke="#333333" stroke-width="2.7"/>
<circle cx="857.1" cy="1515.8" r="5.9" fill="#c8c8c8" stroke="#333333" stroke-width="2.7"/>
<circle cx="892.6" cy="1520.0" r="5.9" fill="#c8c8c8" stroke="#333333" stroke-width="2.7"/>
<circle cx="928.1" cy="1515.7" r="5.9" fill="#c8c8c8" stroke="#333333" stroke-width="2.7"/>
<circle cx="963.6" cy="1514.2" r="5.9" fill="#c8c8c8" stroke="#333333" stroke-width="2.7"/>
<circle cx="999.1" cy="1511.7" r="5.9" fill="#c8c8c8" stroke="#333333" stroke-width="2.7"/>
<circle cx="1034.6" cy="1517.3" r="5.9" fill="#c8c8c8" stroke="#333333" stroke-width="2.7"/>
<circle cx="1070.2" cy="1514.2" r="5.9" fill="#c8c8c8" stroke="#333333" stroke-width="2.7"/>
<circle cx="1105.7" cy="1268.0" r="5.9" fill="#c8c8c8" stroke="#333333" stroke-width="2.7"/>
<circle cx="1141.2" cy="1013.2" r="5.9" fill="#c8c8c8" stroke="#333333" stroke-width="2.7"/>
<circle cx="1176.7" cy="1273.3" r="5.9" fill="#c8c8c8" stroke="#333333" stroke-width="2.7"/>
<circle cx="1212.2" cy="1426.4" r="5.9" fill="#c8c8c8" stroke="#333333" stroke-width="2.7"/>
<circle cx="1247.7" cy="1385.8" r="5.9" fill="#c8c8c8" stroke="#333333" stroke-width="2.7"/>
<circle cx="1283.2" cy="1426.4" r="5.9" fill="#c8c8c8" stroke="#333333" stroke-width="2.7"/>
<circle cx="1318.7" cy="1475.7" r="5.9" fill="#c8c8c8" stroke="#333333" stroke-width="2.7"/>
<circle cx="1354.3" cy="1447.9" r="5.9" fill="#c8c8c8" stroke="#333333" stroke-width="2.7"/>
<circle cx="1389.8" cy="1382.5" r="5.9" fill="#c8c8c8" stroke="#333333" stroke-width="2.7"/>
<circle cx="1425.3" cy="1431.0" r="5.9" fill="#c8c8c8" stroke="#333333" stroke-width="2.7"/>
<circle cx="1460.8" cy="1512.8" r="5.9" fill="#c8c8c8" stroke="#333333" stroke-width="2.7"/>
<circle cx="1496.3" cy="1513.6" r="5.9" fill="#c8c8c8" stroke="#333333" stroke-width="2.7"/>
<circle cx="1531.8" cy="1517.6" r="5.9" fill="#c8c8c8" stroke="#333333" stroke-width="2.7"/>
<circle cx="1567.3" cy="1508.6" r="5.9" fill="#c8c8c8" stroke="#333333" stroke-width="2.7"/>
<circle cx="1602.8" cy="1518.4" r="5.9" fill="#c8c8c8" stroke="#333333" stroke-width="2.7"/>
<circle cx="1638.3" cy="1515.3" r="5.9" fill="#c8c8c8" stroke="#333333" stroke-width="2.7"/>
<circle cx="1673.9" cy="1515.0" r="5.9" fill="#c8c8c8" stroke="#333333" stroke-width="2.7"/>
<circle cx="1709.4" cy="1520.9" r="5.9" fill="#c8c8c8" stroke="#333333" stroke-width="2.7"/>
<circle cx="1744.9" cy="1505.2" r="5.9" fill="#c8c8c8" stroke="#333333" stroke-width="2.7"/>
<circle cx="1780.4" cy="1518.5" r="5.9" fill="#c8c8c8" stroke="#333333" stroke-width="2.7"/>
<circle cx="1815.9" cy="1503.7" r="5.9" fill="#c8c8c8" stroke="#333333" stroke-width="2.7"/>
<circle cx="1851.4" cy="1517.1" r="5.9" fill="#c8c8c8" stroke="#333333" stroke-width="2.7"/>
<circle cx="1886.9" cy="1518.1" r="5.9" fill="#c8c8c8" stroke="#333333" stroke-width="2.7"/>
<circle cx="1922.4" cy="1457.3" r="5.9" fill="#c8c8c8" stroke="#333333" stroke-width="2.7"/>
<circle cx="1958.0" cy="1397.5" r="5.9" fill="#c8c8c8" stroke="#333333" stroke-width="2.7"/>
<circle cx="1993.5" cy="1513.2" r="5.9" fill="#c8c8c8" stroke="#333333" stroke-width="2.7"/>
<circle cx="2029.0" cy="1517.0" r="5.9" fill="#c8c8c8" stroke="#333333" stroke-width="2.7"/>
<circle cx="2064.5" cy="1517.4" r="5.9" fill="#c8c8c8" stroke="#333333" stroke-width="2.7"/>
<circle cx="2100.0" cy="1517.4" r="5.9" fill="#c8c8c8" stroke="#333333" stroke-width="2.7"/>
<circle cx="2135.5" cy="1518.6" r="5.9" fill="#c8c8c8" stroke="#333333" stroke-width="2.7"/>
<circle cx="2171.0" cy="1494.8" r="5.9" fill="#c8c8c8" stroke="#333333" stroke-width="2.7"/>
<circle cx="2206.5" cy="1515.2" r="5.9" fill="#c8c8c8" stroke="#333333" stroke-width="2.7"/>
<circle cx="2242.1" cy="1516.5" r="5.9" fill="#c8c8c8" stroke="#333333" stroke-width="2.7"/>
<circle cx="2277.6" cy="1518.1" r="5.9" fill="#c8c8c8" stroke="#333333" stroke-width="2.7"/>
<circle cx="2313.1" cy="1510.8" r="5.9" fill="#c8c8c8" stroke="#333333" stroke-width="2.7"/>
<circle cx="2348.6" cy="1516.8" r="5.9" fill="#c8c8c8" stroke="#333333" stroke-width="2.7"/>
<circle cx="2384.1" cy="1504.1" r="5.9" fill="#c8c8c8" stroke="#333333" stroke-width="2.7"/>
<circle cx="2419.6" cy="1516.5" r="5.9" fill="#c8c8c8" stroke="#333333" stroke-width="2.7"/>
<circle cx="2455.1" cy="1518.0" r="5.9" fill="#c8c8c8" stroke="#333333" stroke-width="2.7"/>
<circle cx="2490.6" cy="1512.6" r="5.9" fill="#c8c8c8" stroke="#333333" stroke-width="2.7"/>
<circle cx="2526.1" cy="1508.6" r="5.9" fill="#c8c8c8" stroke="#333333" stroke-width="2.7"/>
<circle cx="2561.7" cy="1517.1" r="5.9" fill="#c8c8c8" stroke="#333333" stroke-width="2.7"/>
<circle cx="2597.2" cy="1519.5" r="5.9" fill="#c8c8c8" stroke="#333333" stroke-width="2.7"/>
<circle cx="2632.7" cy="1513.2" r="5.9" fill="#c8c8c8" stroke="#333333" stroke-width="2.7"/>
<circle cx="2668.2" cy="1520.1" r="5.9" fill="#c8c8c8" stroke="#333333" stroke-width="2.7"/>
<circle cx="2703.7" cy="1518.6" r="5.9" fill="#c8c8c8" stroke="#333333" stroke-width="2.7"/>
<circle cx="2739.2" cy="1505.5" r="5.9" fill="#c8c8c8" stroke="#333333" stroke-width="2.7"/>
<circle cx="2774.7" cy="1515.0" r="5.9" fill="#c8c8c8" stroke="#333333" stroke-width="2.7"/>
<circle cx="2810.2" cy="1514.1" r="5.9" fill="#c8c8c8" stroke="#333333" stroke-width="2.7"/>
<circle cx="2845.8" cy="1514.3" r="5.9" fill="#c8c8c8" stroke="#333333" stroke-width="2.7"/>
<circle cx="2881.3" cy="1511.2" r="5.9" fill="#c8c8c8" stroke="#333333" stroke-width="2.7"/>
<rect x="332.6" y="1472.9" width="12.0" height="12.0" fill="#8fa0b5" stroke="#333333" stroke-width="2.7"/>
<rect x="368.1" y="1486.8" width="12.0" height="12.0" fill="#8fa0b5" stroke="#333333" stroke-width="2.7"/>
<rect x="403.6" y="1483.6" width="12.0" height="12.0" fill="#8fa0b5" stroke="#333333" stroke-width="2.7"/>
<rect x="439.1" y="1490.0" width="12.0" height="12.0" fill="#8fa0b5" stroke="#333333" stroke-width="2.7"/>
<rect x="474.7" y="1489.0" width="12.0" height="12.0" fill="#8fa0b5" stroke="#333333" stroke-width="2.7"/>
<rect x="510.2" y="1494.3" width="12.0" height="12.0" fill="#8fa0b5" stroke="#333333" stroke-width="2.7"/>
<rect x="545.7" y="1497.5" width="12.0" height="12.0" fill="#8fa0b5" stroke="#333333" stroke-width="2.7"/>
<rect x="581.2" y="1499.5" width="12.0" height="12.0" fill="#8fa0b5" stroke="#333333" stroke-width="2.7"/>
<rect x="616.7" y="1504.0" width="12.0" height="12.0" fill="#8fa0b5" stroke="#333333" stroke-width="2.7"/>
<rect x="652.2" y="1505.9" width="12.0" height="12.0" fill="#8fa0b5" stroke="#333333" stroke-width="2.7"/>
<rect x="687.7" y="1505.4" width="12.0" height="12.0" fill="#8fa0b5" stroke="#333333" stroke-width="2.7"/>
<rect x="723.2" y="1499.3" width="12.0" height="12.0" fill="#8fa0b5" stroke="#333333" stroke-width="2.7"/>
<rect x="765.9" y="1502.3" width="12.0" height="12.0" fill="#8fa0b5" stroke="#333333" stroke-width="2.7"/>
<rect x="801.4" y="1500.9" width="12.0" height="12.0" fill="#8fa0b5" stroke="#333333" stroke-width="2.7"/>
<rect x="836.9" y="1496.7" width="12.0" height="12.0" fill="#8fa0b5" stroke="#333333" stroke-width="2.7"/>
<rect x="872.4" y="1498.5" width="12.0" height="12.0" fill="#8fa0b5" stroke="#333333" stroke-width="2.7"/>
<rect x="907.9" y="1502.5" width="12.0" height="12.0" fill="#8fa0b5" stroke="#333333" stroke-width="2.7"/>
<rect x="943.4" y="1472.9" width="12.0" height="12.0" fill="#8fa0b5" stroke="#333333" stroke-width="2.7"/>
<rect x="978.9" y="1454.7" width="12.0" height="12.0" fill="#8fa0b5" stroke="#333333" stroke-width="2.7"/>
<rect x="1014.4" y="1466.5" width="12.0" height="12.0" fill="#8fa0b5" stroke="#333333" stroke-width="2.7"/>
<rect x="1049.9" y="1478.3" width="12.0" height="12.0" fill="#8fa0b5" stroke="#333333" stroke-width="2.7"/>
<rect x="1085.5" y="1345.5" width="12.0" height="12.0" fill="#8fa0b5" stroke="#333333" stroke-width="2.7"/>
<rect x="1121.0" y="1377.6" width="12.0" height="12.0" fill="#8fa0b5" stroke="#333333" stroke-width="2.7"/>
<rect x="1156.5" y="1437.6" width="12.0" height="12.0" fill="#8fa0b5" stroke="#333333" stroke-width="2.7"/>
<rect x="1192.0" y="1396.9" width="12.0" height="12.0" fill="#8fa0b5" stroke="#333333" stroke-width="2.7"/>
<rect x="1227.5" y="1355.1" width="12.0" height="12.0" fill="#8fa0b5" stroke="#333333" stroke-width="2.7"/>
<rect x="1263.0" y="853.0" width="12.0" height="12.0" fill="#8fa0b5" stroke="#333333" stroke-width="2.7"/>
<rect x="1298.5" y="1285.5" width="12.0" height="12.0" fill="#8fa0b5" stroke="#333333" stroke-width="2.7"/>
<rect x="1334.0" y="1356.2" width="12.0" height="12.0" fill="#8fa0b5" stroke="#333333" stroke-width="2.7"/>
<rect x="1369.6" y="1459.2" width="12.0" height="12.0" fill="#8fa0b5" stroke="#333333" stroke-width="2.7"/>
<rect x="1405.1" y="1502.9" width="12.0" height="12.0" fill="#8fa0b5" stroke="#333333" stroke-width="2.7"/>
<rect x="1440.6" y="1498.4" width="12.0" height="12.0" fill="#8fa0b5" stroke="#333333" stroke-width="2.7"/>
<rect x="1476.1" y="1505.8" width="12.0" height="12.0" fill="#8fa0b5" stroke="#333333" stroke-width="2.7"/>
<rect x="1511.6" y="1495.5" width="12.0" height="12.0" fill="#8fa0b5" stroke="#333333" stroke-width="2.7"/>
<rect x="1547.1" y="1377.6" width="12.0" height="12.0" fill="#8fa0b5" stroke="#333333" stroke-width="2.7"/>
<rect x="1582.6" y="1501.3" width="12.0" height="12.0" fill="#8fa0b5" stroke="#333333" stroke-width="2.7"/>
<rect x="1618.1" y="1504.1" width="12.0" height="12.0" fill="#8fa0b5" stroke="#333333" stroke-width="2.7"/>
<rect x="1653.7" y="1501.8" width="12.0" height="12.0" fill="#8fa0b5" stroke="#333333" stroke-width="2.7"/>
<rect x="1689.2" y="1492.5" width="12.0" height="12.0" fill="#8fa0b5" stroke="#333333" stroke-width="2.7"/>
<rect x="1724.7" y="1499.7" width="12.0" height="12.0" fill="#8fa0b5" stroke="#333333" stroke-width="2.7"/>
<rect x="1760.2" y="1497.0" width="12.0" height="12.0" fill="#8fa0b5" stroke="#333333" stroke-width="2.7"/>
<rect x="1795.7" y="1498.3" width="12.0" height="12.0" fill="#8fa0b5" stroke="#333333" stroke-width="2.7"/>
<rect x="1831.2" y="1504.1" width="12.0" height="12.0" fill="#8fa0b5" stroke="#333333" stroke-width="2.7"/>
<rect x="1866.7" y="1507.1" width="12.0" height="12.0" fill="#8fa0b5" stroke="#333333" stroke-width="2.7"/>
<rect x="1902.2" y="1504.5" width="12.0" height="12.0" fill="#8fa0b5" stroke="#333333" stroke-width="2.7"/>
<rect x="1937.7" y="1478.7" width="12.0" height="12.0" fill="#8fa0b5" stroke="#333333" stroke-width="2.7"/>
<rect x="1973.3" y="1507.4" width="12.0" height="12.0" fill="#8fa0b5" stroke="#333333" stroke-width="2.7"/>
<rect x="2008.8" y="1394.7" width="12.0" height="12.0" fill="#8fa0b5" stroke="#333333" stroke-width="2.7"/>
<rect x="2044.3" y="1503.8" width="12.0" height="12.0" fill="#8fa0b5" stroke="#333333" stroke-width="2.7"/>
<rect x="2079.8" y="1484.6" width="12.0" height="12.0" fill="#8fa0b5" stroke="#333333" stroke-width="2.7"/>
<rect x="2115.3" y="1493.0" width="12.0" height="12.0" fill="#8fa0b5" stroke="#333333" stroke-width="2.7"/>
<rect x="2150.8" y="1494.0" width="12.0" height="12.0" fill="#8fa0b5" stroke="#333333" stroke-width="2.7"/>
<rect x="2186.3" y="1485.5" width="12.0" height="12.0" fill="#8fa0b5" stroke="#333333" stroke-width="2.7"/>
<rect x="2221.8" y="1395.8" width="12.0" height="12.0" fill="#8fa0b5" stroke="#333333" stroke-width="2.7"/>
<rect x="2257.4" y="1481.2" width="12.0" height="12.0" fill="#8fa0b5" stroke="#333333" stroke-width="2.7"/>
<rect x="2292.9" y="1212.7" width="12.0" height="12.0" fill="#8fa0b5" stroke="#333333" stroke-width="2.7"/>
<rect x="2328.4" y="1375.5" width="12.0" height="12.0" fill="#8fa0b5" stroke="#333333" stroke-width="2.7"/>
<rect x="2363.9" y="1357.3" width="12.0" height="12.0" fill="#8fa0b5" stroke="#333333" stroke-width="2.7"/>
<rect x="2399.4" y="1253.4" width="12.0" height="12.0" fill="#8fa0b5" stroke="#333333" stroke-width="2.7"/>
<rect x="2434.9" y="1427.8" width="12.0" height="12.0" fill="#8fa0b5" stroke="#333333" stroke-width="2.7"/>
<rect x="2470.4" y="1252.3" width="12.0" height="12.0" fill="#8fa0b5" stroke="#333333" stroke-width="2.7"/>
<rect x="2505.9" y="1288.7" width="12.0" height="12.0" fill="#8fa0b5" stroke="#333333" stroke-width="2.7"/>
<rect x="2541.5" y="1438.6" width="12.0" height="12.0" fill="#8fa0b5" stroke="#333333" stroke-width="2.7"/>
<rect x="2577.0" y="1479.3" width="12.0" height="12.0" fill="#8fa0b5" stroke="#333333" stroke-width="2.7"/>
<rect x="2612.5" y="1495.2" width="12.0" height="12.0" fill="#8fa0b5" stroke="#333333" stroke-width="2.7"/>
<rect x="2648.0" y="1488.7" width="12.0" height="12.0" fill="#8fa0b5" stroke="#333333" stroke-width="2.7"/>
<rect x="2683.5" y="1482.3" width="12.0" height="12.0" fill="#8fa0b5" stroke="#333333" stroke-width="2.7"/>
<rect x="2719.0" y="1487.3" width="12.0" height="12.0" fill="#8fa0b5" stroke="#333333" stroke-width="2.7"/>
<rect x="2754.5" y="1494.2" width="12.0" height="12.0" fill="#8fa0b5" stroke="#333333" stroke-width="2.7"/>
<rect x="2790.0" y="1493.2" width="12.0" height="12.0" fill="#8fa0b5" stroke="#333333" stroke-width="2.7"/>
<rect x="2825.5" y="1469.2" width="12.0" height="12.0" fill="#8fa0b5" stroke="#333333" stroke-width="2.7"/>
<rect x="2861.1" y="1491.8" width="12.0" height="12.0" fill="#8fa0b5" stroke="#333333" stroke-width="2.7"/>
<rect x="2896.6" y="1492.2" width="12.0" height="12.0" fill="#8fa0b5" stroke="#333333" stroke-width="2.7"/>
<path d="M324.4,1510.3 L326.4,1514.8 L331.4,1515.4 L327.7,1518.7 L328.8,1523.6 L324.4,1521.1 L320.1,1523.6 L321.1,1518.7 L317.4,1515.4 L322.4,1514.8Z" fill="#36a32c" stroke="#333333" stroke-width="2.8" stroke-linejoin="round"/>
<path d="M359.9,1509.0 L362.0,1513.6 L367.0,1514.1 L363.2,1517.5 L364.3,1522.4 L359.9,1519.9 L355.6,1522.4 L356.6,1517.5 L352.9,1514.1 L357.9,1513.6Z" fill="#36a32c" stroke="#333333" stroke-width="2.8" stroke-linejoin="round"/>
<path d="M395.4,1507.6 L397.5,1512.2 L402.5,1512.7 L398.7,1516.1 L399.8,1521.0 L395.4,1518.5 L391.1,1521.0 L392.1,1516.1 L388.4,1512.7 L393.4,1512.2Z" fill="#36a32c" stroke="#333333" stroke-width="2.8" stroke-linejoin="round"/>
<path d="M430.9,1510.6 L433.0,1515.2 L438.0,1515.7 L434.2,1519.1 L435.3,1524.0 L430.9,1521.5 L426.6,1524.0 L427.6,1519.1 L423.9,1515.7 L428.9,1515.2Z" fill="#36a32c" stroke="#333333" stroke-width="2.8" stroke-linejoin="round"/>
<path d="M466.5,1511.5 L468.5,1516.1 L473.5,1516.6 L469.8,1519.9 L470.8,1524.9 L466.5,1522.4 L462.1,1524.9 L463.1,1519.9 L459.4,1516.6 L464.4,1516.1Z" fill="#36a32c" stroke="#333333" stroke-width="2.8" stroke-linejoin="round"/>
<path d="M502.0,1509.8 L504.0,1514.4 L509.0,1514.9 L505.3,1518.3 L506.3,1523.2 L502.0,1520.7 L497.6,1523.2 L498.7,1518.3 L494.9,1514.9 L499.9,1514.4Z" fill="#36a32c" stroke="#333333" stroke-width="2.8" stroke-linejoin="round"/>
<path d="M537.5,1512.0 L539.5,1516.6 L544.5,1517.2 L540.8,1520.5 L541.8,1525.4 L537.5,1522.9 L533.1,1525.4 L534.2,1520.5 L530.4,1517.2 L535.4,1516.6Z" fill="#36a32c" stroke="#333333" stroke-width="2.8" stroke-linejoin="round"/>
<path d="M573.0,1506.5 L575.0,1511.1 L580.0,1511.7 L576.3,1515.0 L577.3,1519.9 L573.0,1517.4 L568.6,1519.9 L569.7,1515.0 L565.9,1511.7 L570.9,1511.1Z" fill="#36a32c" stroke="#333333" stroke-width="2.8" stroke-linejoin="round"/>
<path d="M608.5,1507.7 L610.5,1512.3 L615.5,1512.8 L611.8,1516.2 L612.8,1521.1 L608.5,1518.6 L604.1,1521.1 L605.2,1516.2 L601.5,1512.8 L606.5,1512.3Z" fill="#36a32c" stroke="#333333" stroke-width="2.8" stroke-linejoin="round"/>
<path d="M644.0,1507.1 L646.1,1511.7 L651.0,1512.2 L647.3,1515.6 L648.4,1520.5 L644.0,1518.0 L639.7,1520.5 L640.7,1515.6 L637.0,1512.2 L642.0,1511.7Z" fill="#36a32c" stroke="#333333" stroke-width="2.8" stroke-linejoin="round"/>
<path d="M679.5,1511.8 L681.6,1516.4 L686.6,1516.9 L682.8,1520.3 L683.9,1525.2 L679.5,1522.7 L675.2,1525.2 L676.2,1520.3 L672.5,1516.9 L677.5,1516.4Z" fill="#36a32c" stroke="#333333" stroke-width="2.8" stroke-linejoin="round"/>
<path d="M715.0,1511.8 L717.1,1516.3 L722.1,1516.9 L718.3,1520.2 L719.4,1525.1 L715.0,1522.6 L710.7,1525.1 L711.7,1520.2 L708.0,1516.9 L713.0,1516.3Z" fill="#36a32c" stroke="#333333" stroke-width="2.8" stroke-linejoin="round"/>
<path d="M757.6,1507.2 L759.7,1511.8 L764.7,1512.3 L761.0,1515.7 L762.0,1520.6 L757.6,1518.1 L753.3,1520.6 L754.3,1515.7 L750.6,1512.3 L755.6,1511.8Z" fill="#36a32c" stroke="#333333" stroke-width="2.8" stroke-linejoin="round"/>
<path d="M793.2,1509.1 L795.2,1513.7 L800.2,1514.3 L796.5,1517.6 L797.5,1522.5 L793.2,1520.0 L788.8,1522.5 L789.9,1517.6 L786.1,1514.3 L791.1,1513.7Z" fill="#36a32c" stroke="#333333" stroke-width="2.8" stroke-linejoin="round"/>
<path d="M828.7,1503.8 L830.7,1508.4 L835.7,1508.9 L832.0,1512.3 L833.0,1517.2 L828.7,1514.7 L824.3,1517.2 L825.4,1512.3 L821.6,1508.9 L826.6,1508.4Z" fill="#36a32c" stroke="#333333" stroke-width="2.8" stroke-linejoin="round"/>
<path d="M864.2,1508.7 L866.2,1513.2 L871.2,1513.8 L867.5,1517.1 L868.5,1522.0 L864.2,1519.5 L859.8,1522.0 L860.9,1517.1 L857.1,1513.8 L862.1,1513.2Z" fill="#36a32c" stroke="#333333" stroke-width="2.8" stroke-linejoin="round"/>
<path d="M899.7,1504.7 L901.7,1509.3 L906.7,1509.8 L903.0,1513.2 L904.0,1518.1 L899.7,1515.6 L895.3,1518.1 L896.4,1513.2 L892.7,1509.8 L897.7,1509.3Z" fill="#36a32c" stroke="#333333" stroke-width="2.8" stroke-linejoin="round"/>
<path d="M935.2,1503.5 L937.3,1508.1 L942.2,1508.6 L938.5,1511.9 L939.6,1516.9 L935.2,1514.3 L930.9,1516.9 L931.9,1511.9 L928.2,1508.6 L933.2,1508.1Z" fill="#36a32c" stroke="#333333" stroke-width="2.8" stroke-linejoin="round"/>
<path d="M970.7,1502.0 L972.8,1506.6 L977.8,1507.1 L974.0,1510.5 L975.1,1515.4 L970.7,1512.9 L966.4,1515.4 L967.4,1510.5 L963.7,1507.1 L968.7,1506.6Z" fill="#36a32c" stroke="#333333" stroke-width="2.8" stroke-linejoin="round"/>
<path d="M1006.2,1489.9 L1008.3,1494.5 L1013.3,1495.0 L1009.5,1498.4 L1010.6,1503.3 L1006.2,1500.8 L1001.9,1503.3 L1002.9,1498.4 L999.2,1495.0 L1004.2,1494.5Z" fill="#36a32c" stroke="#333333" stroke-width="2.8" stroke-linejoin="round"/>
<path d="M1041.7,1462.6 L1043.8,1467.2 L1048.8,1467.7 L1045.1,1471.1 L1046.1,1476.0 L1041.7,1473.5 L1037.4,1476.0 L1038.4,1471.1 L1034.7,1467.7 L1039.7,1467.2Z" fill="#36a32c" stroke="#333333" stroke-width="2.8" stroke-linejoin="round"/>
<path d="M1077.3,1438.9 L1079.3,1443.5 L1084.3,1444.0 L1080.6,1447.4 L1081.6,1452.3 L1077.3,1449.8 L1072.9,1452.3 L1073.9,1447.4 L1070.2,1444.0 L1075.2,1443.5Z" fill="#36a32c" stroke="#333333" stroke-width="2.8" stroke-linejoin="round"/>
<path d="M1112.8,1157.3 L1114.8,1161.9 L1119.8,1162.4 L1116.1,1165.8 L1117.1,1170.7 L1112.8,1168.2 L1108.4,1170.7 L1109.5,1165.8 L1105.7,1162.4 L1110.7,1161.9Z" fill="#36a32c" stroke="#333333" stroke-width="2.8" stroke-linejoin="round"/>
<path d="M1148.3,1254.7 L1150.3,1259.3 L1155.3,1259.9 L1151.6,1263.2 L1152.6,1268.1 L1148.3,1265.6 L1143.9,1268.1 L1145.0,1263.2 L1141.2,1259.9 L1146.2,1259.3Z" fill="#36a32c" stroke="#333333" stroke-width="2.8" stroke-linejoin="round"/>
<path d="M1183.8,1298.6 L1185.8,1303.2 L1190.8,1303.8 L1187.1,1307.1 L1188.1,1312.0 L1183.8,1309.5 L1179.4,1312.0 L1180.5,1307.1 L1176.8,1303.8 L1181.7,1303.2Z" fill="#36a32c" stroke="#333333" stroke-width="2.8" stroke-linejoin="round"/>
<path d="M1219.3,1346.1 L1221.3,1350.7 L1226.3,1351.2 L1222.6,1354.6 L1223.7,1359.5 L1219.3,1357.0 L1215.0,1359.5 L1216.0,1354.6 L1212.3,1351.2 L1217.3,1350.7Z" fill="#36a32c" stroke="#333333" stroke-width="2.8" stroke-linejoin="round"/>
<path d="M1254.8,1400.9 L1256.9,1405.4 L1261.9,1406.0 L1258.1,1409.3 L1259.2,1414.2 L1254.8,1411.7 L1250.5,1414.2 L1251.5,1409.3 L1247.8,1406.0 L1252.8,1405.4Z" fill="#36a32c" stroke="#333333" stroke-width="2.8" stroke-linejoin="round"/>
<path d="M1290.3,1440.3 L1292.4,1444.9 L1297.4,1445.5 L1293.6,1448.8 L1294.7,1453.7 L1290.3,1451.2 L1286.0,1453.7 L1287.0,1448.8 L1283.3,1445.5 L1288.3,1444.9Z" fill="#36a32c" stroke="#333333" stroke-width="2.8" stroke-linejoin="round"/>
<path d="M1325.8,1461.3 L1327.9,1465.9 L1332.9,1466.4 L1329.1,1469.8 L1330.2,1474.7 L1325.8,1472.2 L1321.5,1474.7 L1322.5,1469.8 L1318.8,1466.4 L1323.8,1465.9Z" fill="#36a32c" stroke="#333333" stroke-width="2.8" stroke-linejoin="round"/>
<path d="M1361.4,1493.2 L1363.4,1497.8 L1368.4,1498.3 L1364.7,1501.7 L1365.7,1506.6 L1361.4,1504.1 L1357.0,1506.6 L1358.0,1501.7 L1354.3,1498.3 L1359.3,1497.8Z" fill="#36a32c" stroke="#333333" stroke-width="2.8" stroke-linejoin="round"/>
<path d="M1396.9,1500.6 L1398.9,1505.2 L1403.9,1505.7 L1400.2,1509.0 L1401.2,1514.0 L1396.9,1511.4 L1392.5,1514.0 L1393.6,1509.0 L1389.8,1505.7 L1394.8,1505.2Z" fill="#36a32c" stroke="#333333" stroke-width="2.8" stroke-linejoin="round"/>
<path d="M1432.4,1485.8 L1434.4,1490.4 L1439.4,1490.9 L1435.7,1494.2 L1436.7,1499.2 L1432.4,1496.6 L1428.0,1499.2 L1429.1,1494.2 L1425.3,1490.9 L1430.3,1490.4Z" fill="#36a32c" stroke="#333333" stroke-width="2.8" stroke-linejoin="round"/>
<path d="M1467.9,1506.5 L1469.9,1511.1 L1474.9,1511.6 L1471.2,1515.0 L1472.2,1519.9 L1467.9,1517.4 L1463.5,1519.9 L1464.6,1515.0 L1460.9,1511.6 L1465.8,1511.1Z" fill="#36a32c" stroke="#333333" stroke-width="2.8" stroke-linejoin="round"/>
<path d="M1503.4,1510.5 L1505.4,1515.1 L1510.4,1515.6 L1506.7,1519.0 L1507.8,1523.9 L1503.4,1521.4 L1499.1,1523.9 L1500.1,1519.0 L1496.4,1515.6 L1501.4,1515.1Z" fill="#36a32c" stroke="#333333" stroke-width="2.8" stroke-linejoin="round"/>
<path d="M1538.9,1506.5 L1541.0,1511.1 L1546.0,1511.6 L1542.2,1514.9 L1543.3,1519.9 L1538.9,1517.3 L1534.6,1519.9 L1535.6,1514.9 L1531.9,1511.6 L1536.9,1511.1Z" fill="#36a32c" stroke="#333333" stroke-width="2.8" stroke-linejoin="round"/>
<path d="M1574.4,1496.6 L1576.5,1501.1 L1581.5,1501.7 L1577.7,1505.0 L1578.8,1509.9 L1574.4,1507.4 L1570.1,1509.9 L1571.1,1505.0 L1567.4,1501.7 L1572.4,1501.1Z" fill="#36a32c" stroke="#333333" stroke-width="2.8" stroke-linejoin="round"/>
<path d="M1609.9,1507.9 L1612.0,1512.5 L1617.0,1513.0 L1613.2,1516.4 L1614.3,1521.3 L1609.9,1518.8 L1605.6,1521.3 L1606.6,1516.4 L1602.9,1513.0 L1607.9,1512.5Z" fill="#36a32c" stroke="#333333" stroke-width="2.8" stroke-linejoin="round"/>
<path d="M1645.4,1509.4 L1647.5,1514.0 L1652.5,1514.5 L1648.8,1517.8 L1649.8,1522.8 L1645.4,1520.3 L1641.1,1522.8 L1642.1,1517.8 L1638.4,1514.5 L1643.4,1514.0Z" fill="#36a32c" stroke="#333333" stroke-width="2.8" stroke-linejoin="round"/>
<path d="M1681.0,1512.1 L1683.0,1516.7 L1688.0,1517.2 L1684.3,1520.6 L1685.3,1525.5 L1681.0,1523.0 L1676.6,1525.5 L1677.7,1520.6 L1673.9,1517.2 L1678.9,1516.7Z" fill="#36a32c" stroke="#333333" stroke-width="2.8" stroke-linejoin="round"/>
<path d="M1716.5,1497.2 L1718.5,1501.8 L1723.5,1502.3 L1719.8,1505.7 L1720.8,1510.6 L1716.5,1508.1 L1712.1,1510.6 L1713.2,1505.7 L1709.4,1502.3 L1714.4,1501.8Z" fill="#36a32c" stroke="#333333" stroke-width="2.8" stroke-linejoin="round"/>
<path d="M1752.0,1509.6 L1754.0,1514.2 L1759.0,1514.7 L1755.3,1518.1 L1756.3,1523.0 L1752.0,1520.5 L1747.6,1523.0 L1748.7,1518.1 L1744.9,1514.7 L1749.9,1514.2Z" fill="#36a32c" stroke="#333333" stroke-width="2.8" stroke-linejoin="round"/>
<path d="M1787.5,1505.0 L1789.5,1509.6 L1794.5,1510.2 L1790.8,1513.5 L1791.8,1518.4 L1787.5,1515.9 L1783.1,1518.4 L1784.2,1513.5 L1780.5,1510.2 L1785.5,1509.6Z" fill="#36a32c" stroke="#333333" stroke-width="2.8" stroke-linejoin="round"/>
<path d="M1823.0,1504.4 L1825.1,1509.0 L1830.0,1509.5 L1826.3,1512.9 L1827.4,1517.8 L1823.0,1515.3 L1818.7,1517.8 L1819.7,1512.9 L1816.0,1509.5 L1821.0,1509.0Z" fill="#36a32c" stroke="#333333" stroke-width="2.8" stroke-linejoin="round"/>
<path d="M1858.5,1500.3 L1860.6,1504.9 L1865.6,1505.4 L1861.8,1508.8 L1862.9,1513.7 L1858.5,1511.2 L1854.2,1513.7 L1855.2,1508.8 L1851.5,1505.4 L1856.5,1504.9Z" fill="#36a32c" stroke="#333333" stroke-width="2.8" stroke-linejoin="round"/>
<path d="M1894.0,1504.2 L1896.1,1508.8 L1901.1,1509.3 L1897.3,1512.7 L1898.4,1517.6 L1894.0,1515.1 L1889.7,1517.6 L1890.7,1512.7 L1887.0,1509.3 L1892.0,1508.8Z" fill="#36a32c" stroke="#333333" stroke-width="2.8" stroke-linejoin="round"/>
<path d="M1929.5,1509.6 L1931.6,1514.2 L1936.6,1514.7 L1932.9,1518.1 L1933.9,1523.0 L1929.5,1520.5 L1925.2,1523.0 L1926.2,1518.1 L1922.5,1514.7 L1927.5,1514.2Z" fill="#36a32c" stroke="#333333" stroke-width="2.8" stroke-linejoin="round"/>
<path d="M1965.1,1501.9 L1967.1,1506.5 L1972.1,1507.1 L1968.4,1510.4 L1969.4,1515.3 L1965.1,1512.8 L1960.7,1515.3 L1961.7,1510.4 L1958.0,1507.1 L1963.0,1506.5Z" fill="#36a32c" stroke="#333333" stroke-width="2.8" stroke-linejoin="round"/>
<path d="M2000.6,1484.2 L2002.6,1488.8 L2007.6,1489.3 L2003.9,1492.7 L2004.9,1497.6 L2000.6,1495.1 L1996.2,1497.6 L1997.3,1492.7 L1993.5,1489.3 L1998.5,1488.8Z" fill="#36a32c" stroke="#333333" stroke-width="2.8" stroke-linejoin="round"/>
<path d="M2036.1,1505.6 L2038.1,1510.2 L2043.1,1510.8 L2039.4,1514.1 L2040.4,1519.0 L2036.1,1516.5 L2031.7,1519.0 L2032.8,1514.1 L2029.0,1510.8 L2034.0,1510.2Z" fill="#36a32c" stroke="#333333" stroke-width="2.8" stroke-linejoin="round"/>
<path d="M2071.6,1504.7 L2073.6,1509.3 L2078.6,1509.8 L2074.9,1513.1 L2075.9,1518.1 L2071.6,1515.5 L2067.2,1518.1 L2068.3,1513.1 L2064.6,1509.8 L2069.5,1509.3Z" fill="#36a32c" stroke="#333333" stroke-width="2.8" stroke-linejoin="round"/>
<path d="M2107.1,1505.3 L2109.1,1509.9 L2114.1,1510.4 L2110.4,1513.8 L2111.5,1518.7 L2107.1,1516.2 L2102.8,1518.7 L2103.8,1513.8 L2100.1,1510.4 L2105.1,1509.9Z" fill="#36a32c" stroke="#333333" stroke-width="2.8" stroke-linejoin="round"/>
<path d="M2142.6,1509.0 L2144.7,1513.6 L2149.7,1514.1 L2145.9,1517.4 L2147.0,1522.4 L2142.6,1519.8 L2138.3,1522.4 L2139.3,1517.4 L2135.6,1514.1 L2140.6,1513.6Z" fill="#36a32c" stroke="#333333" stroke-width="2.8" stroke-linejoin="round"/>
<path d="M2178.1,1507.0 L2180.2,1511.6 L2185.2,1512.1 L2181.4,1515.5 L2182.5,1520.4 L2178.1,1517.9 L2173.8,1520.4 L2174.8,1515.5 L2171.1,1512.1 L2176.1,1511.6Z" fill="#36a32c" stroke="#333333" stroke-width="2.8" stroke-linejoin="round"/>
<path d="M2213.6,1505.5 L2215.7,1510.1 L2220.7,1510.6 L2216.9,1514.0 L2218.0,1518.9 L2213.6,1516.4 L2209.3,1518.9 L2210.3,1514.0 L2206.6,1510.6 L2211.6,1510.1Z" fill="#36a32c" stroke="#333333" stroke-width="2.8" stroke-linejoin="round"/>
<path d="M2249.2,1498.2 L2251.2,1502.8 L2256.2,1503.4 L2252.5,1506.7 L2253.5,1511.6 L2249.2,1509.1 L2244.8,1511.6 L2245.8,1506.7 L2242.1,1503.4 L2247.1,1502.8Z" fill="#36a32c" stroke="#333333" stroke-width="2.8" stroke-linejoin="round"/>
<path d="M2284.7,1504.2 L2286.7,1508.7 L2291.7,1509.3 L2288.0,1512.6 L2289.0,1517.5 L2284.7,1515.0 L2280.3,1517.5 L2281.4,1512.6 L2277.6,1509.3 L2282.6,1508.7Z" fill="#36a32c" stroke="#333333" stroke-width="2.8" stroke-linejoin="round"/>
<path d="M2320.2,1503.7 L2322.2,1508.3 L2327.2,1508.8 L2323.5,1512.2 L2324.5,1517.1 L2320.2,1514.6 L2315.8,1517.1 L2316.9,1512.2 L2313.1,1508.8 L2318.1,1508.3Z" fill="#36a32c" stroke="#333333" stroke-width="2.8" stroke-linejoin="round"/>
<path d="M2355.7,1503.3 L2357.7,1507.9 L2362.7,1508.4 L2359.0,1511.8 L2360.0,1516.7 L2355.7,1514.2 L2351.3,1516.7 L2352.4,1511.8 L2348.7,1508.4 L2353.6,1507.9Z" fill="#36a32c" stroke="#333333" stroke-width="2.8" stroke-linejoin="round"/>
<path d="M2391.2,1486.1 L2393.2,1490.7 L2398.2,1491.3 L2394.5,1494.6 L2395.6,1499.5 L2391.2,1497.0 L2386.9,1499.5 L2387.9,1494.6 L2384.2,1491.3 L2389.2,1490.7Z" fill="#36a32c" stroke="#333333" stroke-width="2.8" stroke-linejoin="round"/>
<path d="M2426.7,1502.7 L2428.8,1507.3 L2433.8,1507.8 L2430.0,1511.2 L2431.1,1516.1 L2426.7,1513.6 L2422.4,1516.1 L2423.4,1511.2 L2419.7,1507.8 L2424.7,1507.3Z" fill="#36a32c" stroke="#333333" stroke-width="2.8" stroke-linejoin="round"/>
<path d="M2462.2,1506.2 L2464.3,1510.8 L2469.3,1511.3 L2465.5,1514.7 L2466.6,1519.6 L2462.2,1517.1 L2457.9,1519.6 L2458.9,1514.7 L2455.2,1511.3 L2460.2,1510.8Z" fill="#36a32c" stroke="#333333" stroke-width="2.8" stroke-linejoin="round"/>
<path d="M2497.7,1500.3 L2499.8,1504.9 L2504.8,1505.4 L2501.0,1508.7 L2502.1,1513.7 L2497.7,1511.1 L2493.4,1513.7 L2494.4,1508.7 L2490.7,1505.4 L2495.7,1504.9Z" fill="#36a32c" stroke="#333333" stroke-width="2.8" stroke-linejoin="round"/>
<path d="M2533.2,1499.8 L2535.3,1504.4 L2540.3,1504.9 L2536.6,1508.2 L2537.6,1513.2 L2533.2,1510.6 L2528.9,1513.2 L2529.9,1508.2 L2526.2,1504.9 L2531.2,1504.4Z" fill="#36a32c" stroke="#333333" stroke-width="2.8" stroke-linejoin="round"/>
<path d="M2568.8,1502.5 L2570.8,1507.1 L2575.8,1507.6 L2572.1,1511.0 L2573.1,1515.9 L2568.8,1513.4 L2564.4,1515.9 L2565.5,1511.0 L2561.7,1507.6 L2566.7,1507.1Z" fill="#36a32c" stroke="#333333" stroke-width="2.8" stroke-linejoin="round"/>
<path d="M2604.3,1501.3 L2606.3,1505.9 L2611.3,1506.5 L2607.6,1509.8 L2608.6,1514.7 L2604.3,1512.2 L2599.9,1514.7 L2601.0,1509.8 L2597.2,1506.5 L2602.2,1505.9Z" fill="#36a32c" stroke="#333333" stroke-width="2.8" stroke-linejoin="round"/>
<path d="M2639.8,1504.2 L2641.8,1508.8 L2646.8,1509.3 L2643.1,1512.7 L2644.1,1517.6 L2639.8,1515.1 L2635.4,1517.6 L2636.5,1512.7 L2632.7,1509.3 L2637.7,1508.8Z" fill="#36a32c" stroke="#333333" stroke-width="2.8" stroke-linejoin="round"/>
<path d="M2675.3,1476.2 L2677.3,1480.8 L2682.3,1481.3 L2678.6,1484.7 L2679.6,1489.6 L2675.3,1487.1 L2670.9,1489.6 L2672.0,1484.7 L2668.3,1481.3 L2673.3,1480.8Z" fill="#36a32c" stroke="#333333" stroke-width="2.8" stroke-linejoin="round"/>
<path d="M2710.8,1488.3 L2712.9,1492.8 L2717.8,1493.4 L2714.1,1496.7 L2715.2,1501.6 L2710.8,1499.1 L2706.5,1501.6 L2707.5,1496.7 L2703.8,1493.4 L2708.8,1492.8Z" fill="#36a32c" stroke="#333333" stroke-width="2.8" stroke-linejoin="round"/>
<path d="M2746.3,1501.0 L2748.4,1505.6 L2753.4,1506.1 L2749.6,1509.5 L2750.7,1514.4 L2746.3,1511.9 L2742.0,1514.4 L2743.0,1509.5 L2739.3,1506.1 L2744.3,1505.6Z" fill="#36a32c" stroke="#333333" stroke-width="2.8" stroke-linejoin="round"/>
<path d="M2781.8,1497.4 L2783.9,1502.0 L2788.9,1502.5 L2785.1,1505.9 L2786.2,1510.8 L2781.8,1508.3 L2777.5,1510.8 L2778.5,1505.9 L2774.8,1502.5 L2779.8,1502.0Z" fill="#36a32c" stroke="#333333" stroke-width="2.8" stroke-linejoin="round"/>
<path d="M2817.3,1502.2 L2819.4,1506.8 L2824.4,1507.3 L2820.7,1510.7 L2821.7,1515.6 L2817.3,1513.1 L2813.0,1515.6 L2814.0,1510.7 L2810.3,1507.3 L2815.3,1506.8Z" fill="#36a32c" stroke="#333333" stroke-width="2.8" stroke-linejoin="round"/>
<path d="M2852.9,1507.1 L2854.9,1511.7 L2859.9,1512.2 L2856.2,1515.6 L2857.2,1520.5 L2852.9,1518.0 L2848.5,1520.5 L2849.5,1515.6 L2845.8,1512.2 L2850.8,1511.7Z" fill="#36a32c" stroke="#333333" stroke-width="2.8" stroke-linejoin="round"/>
<path d="M2888.4,1491.5 L2890.4,1496.1 L2895.4,1496.7 L2891.7,1500.0 L2892.7,1504.9 L2888.4,1502.4 L2884.0,1504.9 L2885.1,1500.0 L2881.3,1496.7 L2886.3,1496.1Z" fill="#36a32c" stroke="#333333" stroke-width="2.8" stroke-linejoin="round"/>
<rect x="89.5" y="51" width="2740.5" height="118" fill="#ffffff"/><rect x="112" y="81" width="64" height="8" fill="#0078d4"/><text x="192.5" y="95.5" font-size="30.5" fill="#333333">2004</text><rect x="303" y="81" width="64" height="8" fill="#66cc33"/><text x="383.5" y="95.5" font-size="30.5" fill="#333333">2006</text><rect x="494" y="81" width="64" height="8" fill="#ff7043"/><text x="574.5" y="95.5" font-size="30.5" fill="#333333">2008</text><rect x="685" y="81" width="64" height="8" fill="#2541a0"/><text x="765.5" y="95.5" font-size="30.5" fill="#333333">2010</text><rect x="876" y="81" width="64" height="8" fill="#ff9a33"/><text x="956.5" y="95.5" font-size="30.5" fill="#333333">2012</text><rect x="1067" y="81" width="8" height="8" fill="#0078d4"/><rect x="1083" y="81" width="8" height="8" fill="#0078d4"/><rect x="1099" y="81" width="8" height="8" fill="#0078d4"/><rect x="1115" y="81" width="8" height="8" fill="#0078d4"/><text x="1147.5" y="95.5" font-size="30.5" fill="#333333">2014</text><rect x="1258" y="81" width="8" height="8" fill="#66cc33"/><rect x="1274" y="81" width="8" height="8" fill="#66cc33"/><rect x="1290" y="81" width="8" height="8" fill="#66cc33"/><rect x="1306" y="81" width="8" height="8" fill="#66cc33"/><text x="1338.5" y="95.5" font-size="30.5" fill="#333333">2016</text><rect x="1449" y="81" width="8" height="8" fill="#ff7043"/><rect x="1465" y="81" width="8" height="8" fill="#ff7043"/><rect x="1481" y="81" width="8" height="8" fill="#ff7043"/><rect x="1497" y="81" width="8" height="8" fill="#ff7043"/><text x="1529.5" y="95.5" font-size="30.5" fill="#333333">2018</text><rect x="1640" y="81" width="8" height="8" fill="#c8c8c8"/><rect x="1656" y="81" width="8" height="8" fill="#c8c8c8"/><rect x="1672" y="81" width="8" height="8" fill="#c8c8c8"/><rect x="1688" y="81" width="8" height="8" fill="#c8c8c8"/><circle cx="1672.0" cy="85.0" r="8.1" fill="#c8c8c8" stroke="#333333" stroke-width="3.0"/><text x="1720.5" y="95.5" font-size="30.5" fill="#333333">2019</text><rect x="1831" y="81" width="8" height="8" fill="#2541a0"/><rect x="1847" y="81" width="8" height="8" fill="#2541a0"/><rect x="1863" y="81" width="8" height="8" fill="#2541a0"/><rect x="1879" y="81" width="8" height="8" fill="#2541a0"/><text x="1911.5" y="95.5" font-size="30.5" fill="#333333">2020</text><rect x="2022" y="81" width="8" height="8" fill="#8fa0b5"/><rect x="2038" y="81" width="8" height="8" fill="#8fa0b5"/><rect x="2054" y="81" width="8" height="8" fill="#8fa0b5"/><rect x="2070" y="81" width="8" height="8" fill="#8fa0b5"/><rect x="2045.5" y="76.5" width="17.0" height="17.0" fill="#8fa0b5" stroke="#333333" stroke-width="3.0"/><text x="2102.5" y="95.5" font-size="30.5" fill="#333333">2021</text><rect x="2213" y="81" width="8" height="8" fill="#ff9a33"/><rect x="2229" y="81" width="8" height="8" fill="#ff9a33"/><rect x="2245" y="81" width="8" height="8" fill="#ff9a33"/><rect x="2261" y="81" width="8" height="8" fill="#ff9a33"/><text x="2293.5" y="95.5" font-size="30.5" fill="#333333">2022</text><rect x="2404" y="81" width="8" height="8" fill="#36a32c"/><rect x="2420" y="81" width="8" height="8" fill="#36a32c"/><rect x="2436" y="81" width="8" height="8" fill="#36a32c"/><rect x="2452" y="81" width="8" height="8" fill="#36a32c"/><path d="M2436.0,76.2 L2438.7,82.1 L2445.1,82.8 L2440.3,87.2 L2441.6,93.5 L2436.0,90.3 L2430.4,93.5 L2431.7,87.2 L2426.9,82.8 L2433.3,82.1Z" fill="#36a32c" stroke="#333333" stroke-width="3.2" stroke-linejoin="round"/><text x="2484.5" y="95.5" font-size="30.5" fill="#333333">2023</text><rect x="2595" y="81" width="64" height="8" fill="#000000"/><text x="2675.5" y="95.5" font-size="30.5" fill="#333333">Average</text><rect x="112" y="128" width="64" height="8" fill="#8fcde0"/><path d="M144.0,122.5 L153.4,140.6 L134.6,140.6Z" fill="#8fcde0" stroke="#333333" stroke-width="3.0" stroke-linejoin="miter" stroke-miterlimit="2.2"/><text x="192.5" y="142.3" font-size="30.5" fill="#333333">2005</text><rect x="303" y="128" width="64" height="8" fill="#ffc90e"/><circle cx="335.0" cy="132.0" r="8.1" fill="#ffc90e" stroke="#333333" stroke-width="3.0"/><text x="383.5" y="142.3" font-size="30.5" fill="#333333">2007</text><rect x="494" y="128" width="64" height="8" fill="#c8c8c8"/><rect x="517.5" y="123.5" width="17.0" height="17.0" fill="#c8c8c8" stroke="#333333" stroke-width="3.0"/><text x="574.5" y="142.3" font-size="30.5" fill="#333333">2009</text><rect x="685" y="128" width="64" height="8" fill="#8fa0b5"/><path d="M717.0,123.2 L719.7,129.1 L726.1,129.8 L721.3,134.2 L722.6,140.5 L717.0,137.3 L711.4,140.5 L712.7,134.2 L707.9,129.8 L714.3,129.1Z" fill="#8fa0b5" stroke="#333333" stroke-width="3.2" stroke-linejoin="round"/><text x="765.5" y="142.3" font-size="30.5" fill="#333333">2011</text><rect x="876" y="128" width="64" height="8" fill="#36a32c"/><path d="M908.0,124.2 L915.8,132.0 L908.0,139.8 L900.2,132.0Z" fill="#36a32c" stroke="#333333" stroke-width="3.6" stroke-linejoin="miter" stroke-miterlimit="1.5"/><text x="956.5" y="142.3" font-size="30.5" fill="#333333">2013</text><rect x="1067" y="128" width="8" height="8" fill="#8fcde0"/><rect x="1083" y="128" width="8" height="8" fill="#8fcde0"/><rect x="1099" y="128" width="8" height="8" fill="#8fcde0"/><rect x="1115" y="128" width="8" height="8" fill="#8fcde0"/><path d="M1089.7,127.3 L1094.3,122.7 L1099.0,127.4 L1103.7,122.7 L1108.3,127.3 L1103.6,132.0 L1108.3,136.7 L1103.7,141.3 L1099.0,136.6 L1094.3,141.3 L1089.7,136.7 L1094.4,132.0Z" fill="#333333" stroke="#333333" stroke-width="0.8"/><text x="1147.5" y="142.3" font-size="30.5" fill="#333333">2015</text><rect x="1258" y="128" width="8" height="8" fill="#ffc90e"/><rect x="1274" y="128" width="8" height="8" fill="#ffc90e"/><rect x="1290" y="128" width="8" height="8" fill="#ffc90e"/><rect x="1306" y="128" width="8" height="8" fill="#ffc90e"/><path d="M1290.0,122.5 L1299.5,140.6 L1280.5,140.6Z" fill="#ffc90e" stroke="#333333" stroke-width="3.0" stroke-linejoin="miter" stroke-miterlimit="2.2"/><text x="1338.5" y="142.3" font-size="30.5" fill="#333333">2017</text>
</svg></body></html>
